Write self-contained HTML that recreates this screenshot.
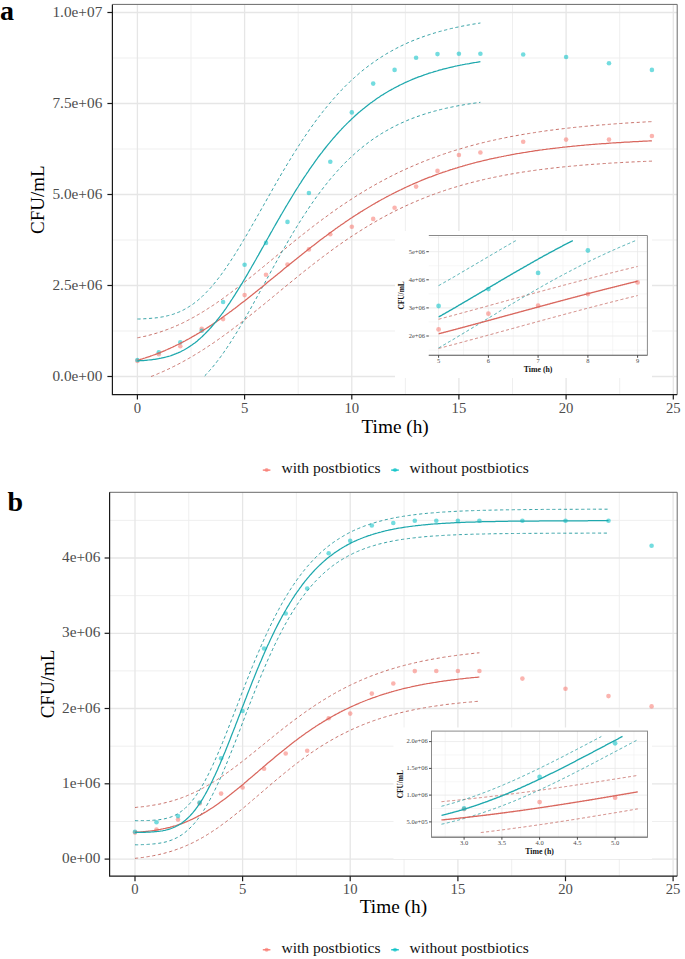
<!DOCTYPE html>
<html><head><meta charset="utf-8"><style>
html,body{margin:0;padding:0;background:#fff;}
svg{display:block;font-family:"Liberation Serif", serif;}
</style></head><body>
<svg width="685" height="959" viewBox="0 0 685 959">
<rect width="685" height="959" fill="#fff"/>
<line x1="191" y1="4.4" x2="191" y2="394.6" stroke="#ededed" stroke-width="0.9"/>
<line x1="298.2" y1="4.4" x2="298.2" y2="394.6" stroke="#ededed" stroke-width="0.9"/>
<line x1="405.4" y1="4.4" x2="405.4" y2="394.6" stroke="#ededed" stroke-width="0.9"/>
<line x1="512.5" y1="4.4" x2="512.5" y2="394.6" stroke="#ededed" stroke-width="0.9"/>
<line x1="619.7" y1="4.4" x2="619.7" y2="394.6" stroke="#ededed" stroke-width="0.9"/>
<line x1="112.4" y1="331" x2="677.2" y2="331" stroke="#ededed" stroke-width="0.9"/>
<line x1="112.4" y1="240" x2="677.2" y2="240" stroke="#ededed" stroke-width="0.9"/>
<line x1="112.4" y1="149" x2="677.2" y2="149" stroke="#ededed" stroke-width="0.9"/>
<line x1="112.4" y1="58" x2="677.2" y2="58" stroke="#ededed" stroke-width="0.9"/>
<line x1="137.4" y1="4.4" x2="137.4" y2="394.6" stroke="#e6e6e6" stroke-width="1.3"/>
<line x1="244.6" y1="4.4" x2="244.6" y2="394.6" stroke="#e6e6e6" stroke-width="1.3"/>
<line x1="351.8" y1="4.4" x2="351.8" y2="394.6" stroke="#e6e6e6" stroke-width="1.3"/>
<line x1="458.9" y1="4.4" x2="458.9" y2="394.6" stroke="#e6e6e6" stroke-width="1.3"/>
<line x1="566.1" y1="4.4" x2="566.1" y2="394.6" stroke="#e6e6e6" stroke-width="1.3"/>
<line x1="673.3" y1="4.4" x2="673.3" y2="394.6" stroke="#e6e6e6" stroke-width="1.3"/>
<line x1="112.4" y1="376.5" x2="677.2" y2="376.5" stroke="#e6e6e6" stroke-width="1.3"/>
<line x1="112.4" y1="285.5" x2="677.2" y2="285.5" stroke="#e6e6e6" stroke-width="1.3"/>
<line x1="112.4" y1="194.5" x2="677.2" y2="194.5" stroke="#e6e6e6" stroke-width="1.3"/>
<line x1="112.4" y1="103.5" x2="677.2" y2="103.5" stroke="#e6e6e6" stroke-width="1.3"/>
<line x1="112.4" y1="12.5" x2="677.2" y2="12.5" stroke="#e6e6e6" stroke-width="1.3"/>
<circle cx="137.4" cy="360.9" r="2.3" fill="#F8766D" fill-opacity="0.55"/>
<circle cx="158.8" cy="354.2" r="2.3" fill="#F8766D" fill-opacity="0.55"/>
<circle cx="180.3" cy="346.3" r="2.3" fill="#F8766D" fill-opacity="0.55"/>
<circle cx="201.7" cy="328.7" r="2.3" fill="#F8766D" fill-opacity="0.55"/>
<circle cx="223.1" cy="319.1" r="2.3" fill="#F8766D" fill-opacity="0.55"/>
<circle cx="244.6" cy="295.1" r="2.3" fill="#F8766D" fill-opacity="0.55"/>
<circle cx="266" cy="274.8" r="2.3" fill="#F8766D" fill-opacity="0.55"/>
<circle cx="287.5" cy="264.5" r="2.3" fill="#F8766D" fill-opacity="0.55"/>
<circle cx="308.9" cy="249.4" r="2.3" fill="#F8766D" fill-opacity="0.55"/>
<circle cx="330.3" cy="234.3" r="2.3" fill="#F8766D" fill-opacity="0.55"/>
<circle cx="351.8" cy="226.8" r="2.3" fill="#F8766D" fill-opacity="0.55"/>
<circle cx="373.2" cy="218.9" r="2.3" fill="#F8766D" fill-opacity="0.55"/>
<circle cx="394.6" cy="207.7" r="2.3" fill="#F8766D" fill-opacity="0.55"/>
<circle cx="416.1" cy="186.6" r="2.3" fill="#F8766D" fill-opacity="0.55"/>
<circle cx="437.5" cy="170.9" r="2.3" fill="#F8766D" fill-opacity="0.55"/>
<circle cx="458.9" cy="155" r="2.3" fill="#F8766D" fill-opacity="0.55"/>
<circle cx="480.4" cy="152.5" r="2.3" fill="#F8766D" fill-opacity="0.55"/>
<circle cx="523.2" cy="141.7" r="2.3" fill="#F8766D" fill-opacity="0.55"/>
<circle cx="566.1" cy="139.6" r="2.3" fill="#F8766D" fill-opacity="0.55"/>
<circle cx="609" cy="139.6" r="2.3" fill="#F8766D" fill-opacity="0.55"/>
<circle cx="651.9" cy="136" r="2.3" fill="#F8766D" fill-opacity="0.55"/>
<circle cx="137.4" cy="360" r="2.3" fill="#00BFC4" fill-opacity="0.55"/>
<circle cx="158.8" cy="352.3" r="2.3" fill="#00BFC4" fill-opacity="0.55"/>
<circle cx="180.3" cy="342.3" r="2.3" fill="#00BFC4" fill-opacity="0.55"/>
<circle cx="201.7" cy="330.7" r="2.3" fill="#00BFC4" fill-opacity="0.55"/>
<circle cx="223.1" cy="302" r="2.3" fill="#00BFC4" fill-opacity="0.55"/>
<circle cx="244.6" cy="264.8" r="2.3" fill="#00BFC4" fill-opacity="0.55"/>
<circle cx="266" cy="242.9" r="2.3" fill="#00BFC4" fill-opacity="0.55"/>
<circle cx="287.5" cy="221.9" r="2.3" fill="#00BFC4" fill-opacity="0.55"/>
<circle cx="308.9" cy="193" r="2.3" fill="#00BFC4" fill-opacity="0.55"/>
<circle cx="330.3" cy="161.8" r="2.3" fill="#00BFC4" fill-opacity="0.55"/>
<circle cx="351.8" cy="112.4" r="2.3" fill="#00BFC4" fill-opacity="0.55"/>
<circle cx="373.2" cy="83.6" r="2.3" fill="#00BFC4" fill-opacity="0.55"/>
<circle cx="394.6" cy="69.9" r="2.3" fill="#00BFC4" fill-opacity="0.55"/>
<circle cx="416.1" cy="57.8" r="2.3" fill="#00BFC4" fill-opacity="0.55"/>
<circle cx="437.5" cy="54.1" r="2.3" fill="#00BFC4" fill-opacity="0.55"/>
<circle cx="458.9" cy="53.8" r="2.3" fill="#00BFC4" fill-opacity="0.55"/>
<circle cx="480.4" cy="53.7" r="2.3" fill="#00BFC4" fill-opacity="0.55"/>
<circle cx="523.2" cy="54.5" r="2.3" fill="#00BFC4" fill-opacity="0.55"/>
<circle cx="566.1" cy="57" r="2.3" fill="#00BFC4" fill-opacity="0.55"/>
<circle cx="609" cy="63.2" r="2.3" fill="#00BFC4" fill-opacity="0.55"/>
<circle cx="651.9" cy="69.9" r="2.3" fill="#00BFC4" fill-opacity="0.55"/>
<path d="M137.4,337.8 L138.6,337.6 L139.9,337.3 L141.1,337.1 L142.4,336.8 L143.6,336.5 L144.9,336.3 L146.1,336 L147.4,335.7 L148.6,335.4 L149.9,335 L151.1,334.7 L152.4,334.4 L153.6,334 L154.9,333.6 L156.1,333.3 L157.4,332.9 L158.6,332.5 L159.9,332.1 L161.1,331.7 L162.4,331.3 L163.6,330.8 L164.9,330.4 L166.1,329.9 L167.4,329.5 L168.6,329 L169.9,328.5 L171.1,328 L172.4,327.5 L173.6,327 L174.9,326.5 L176.1,325.9 L177.4,325.4 L178.6,324.8 L179.9,324.2 L181.1,323.7 L182.4,323.1 L183.6,322.5 L184.9,321.8 L186.1,321.2 L187.3,320.6 L188.6,319.9 L189.8,319.3 L191.1,318.6 L192.3,317.9 L193.6,317.3 L194.8,316.6 L196.1,315.8 L197.3,315.1 L198.6,314.4 L199.8,313.7 L201.1,312.9 L202.3,312.2 L203.6,311.4 L204.8,310.6 L206.1,309.8 L207.3,309 L208.6,308.2 L209.8,307.4 L211.1,306.6 L212.3,305.8 L213.6,305 L214.8,304.1 L216.1,303.3 L217.3,302.4 L218.6,301.5 L219.8,300.6 L221.1,299.8 L222.3,298.9 L223.6,298 L224.8,297.1 L226.1,296.2 L227.3,295.2 L228.6,294.3 L229.8,293.4 L231.1,292.5 L232.3,291.5 L233.5,290.6 L234.8,289.6 L236,288.7 L237.3,287.7 L238.5,286.7 L239.8,285.8 L241,284.8 L242.3,283.8 L243.5,282.8 L244.8,281.8 L246,280.8 L247.3,279.8 L248.5,278.8 L249.8,277.8 L251,276.8 L252.3,275.8 L253.5,274.8 L254.8,273.8 L256,272.8 L257.3,271.7 L258.5,270.7 L259.8,269.7 L261,268.7 L262.3,267.6 L263.5,266.6 L264.8,265.6 L266,264.5 L267.3,263.5 L268.5,262.5 L269.8,261.4 L271,260.4 L272.3,259.4 L273.5,258.3 L274.8,257.3 L276,256.3 L277.3,255.2 L278.5,254.2 L279.8,253.2 L281,252.2 L282.2,251.1 L283.5,250.1 L284.7,249.1 L286,248.1 L287.2,247 L288.5,246 L289.7,245 L291,244 L292.2,243 L293.5,241.9 L294.7,240.9 L296,239.9 L297.2,238.9 L298.5,237.9 L299.7,236.9 L301,235.9 L302.2,234.9 L303.5,233.9 L304.7,233 L306,232 L307.2,231 L308.5,230 L309.7,229 L311,228.1 L312.2,227.1 L313.5,226.1 L314.7,225.2 L316,224.2 L317.2,223.3 L318.5,222.3 L319.7,221.4 L321,220.5 L322.2,219.5 L323.5,218.6 L324.7,217.7 L326,216.8 L327.2,215.9 L328.5,215 L329.7,214 L330.9,213.1 L332.2,212.3 L333.4,211.4 L334.7,210.5 L335.9,209.6 L337.2,208.7 L338.4,207.9 L339.7,207 L340.9,206.1 L342.2,205.3 L343.4,204.4 L344.7,203.6 L345.9,202.8 L347.2,201.9 L348.4,201.1 L349.7,200.3 L350.9,199.5 L352.2,198.7 L353.4,197.9 L354.7,197.1 L355.9,196.3 L357.2,195.5 L358.4,194.7 L359.7,193.9 L360.9,193.2 L362.2,192.4 L363.4,191.6 L364.7,190.9 L365.9,190.1 L367.2,189.4 L368.4,188.6 L369.7,187.9 L370.9,187.2 L372.2,186.5 L373.4,185.8 L374.7,185 L375.9,184.3 L377.2,183.6 L378.4,182.9 L379.6,182.3 L380.9,181.6 L382.1,180.9 L383.4,180.2 L384.6,179.6 L385.9,178.9 L387.1,178.3 L388.4,177.6 L389.6,177 L390.9,176.3 L392.1,175.7 L393.4,175.1 L394.6,174.5 L395.9,173.8 L397.1,173.2 L398.4,172.6 L399.6,172 L400.9,171.4 L402.1,170.8 L403.4,170.3 L404.6,169.7 L405.9,169.1 L407.1,168.5 L408.4,168 L409.6,167.4 L410.9,166.9 L412.1,166.3 L413.4,165.8 L414.6,165.2 L415.9,164.7 L417.1,164.2 L418.4,163.7 L419.6,163.1 L420.9,162.6 L422.1,162.1 L423.4,161.6 L424.6,161.1 L425.8,160.6 L427.1,160.1 L428.3,159.7 L429.6,159.2 L430.8,158.7 L432.1,158.2 L433.3,157.8 L434.6,157.3 L435.8,156.9 L437.1,156.4 L438.3,156 L439.6,155.5 L440.8,155.1 L442.1,154.6 L443.3,154.2 L444.6,153.8 L445.8,153.4 L447.1,153 L448.3,152.5 L449.6,152.1 L450.8,151.7 L452.1,151.3 L453.3,150.9 L454.6,150.5 L455.8,150.2 L457.1,149.8 L458.3,149.4 L459.6,149 L460.8,148.7 L462.1,148.3 L463.3,147.9 L464.6,147.6 L465.8,147.2 L467.1,146.9 L468.3,146.5 L469.6,146.2 L470.8,145.8 L472.1,145.5 L473.3,145.1 L474.5,144.8 L475.8,144.5 L477,144.2 L478.3,143.8 L479.5,143.5 L480.8,143.2 L482,142.9 L483.3,142.6 L484.5,142.3 L485.8,142 L487,141.7 L488.3,141.4 L489.5,141.1 L490.8,140.8 L492,140.5 L493.3,140.3 L494.5,140 L495.8,139.7 L497,139.4 L498.3,139.2 L499.5,138.9 L500.8,138.6 L502,138.4 L503.3,138.1 L504.5,137.9 L505.8,137.6 L507,137.4 L508.3,137.1 L509.5,136.9 L510.8,136.6 L512,136.4 L513.3,136.2 L514.5,135.9 L515.8,135.7 L517,135.5 L518.3,135.3 L519.5,135 L520.8,134.8 L522,134.6 L523.2,134.4 L524.5,134.2 L525.7,134 L527,133.8 L528.2,133.6 L529.5,133.4 L530.7,133.2 L532,133 L533.2,132.8 L534.5,132.6 L535.7,132.4 L537,132.2 L538.2,132 L539.5,131.8 L540.7,131.6 L542,131.4 L543.2,131.3 L544.5,131.1 L545.7,130.9 L547,130.7 L548.2,130.6 L549.5,130.4 L550.7,130.2 L552,130.1 L553.2,129.9 L554.5,129.8 L555.7,129.6 L557,129.4 L558.2,129.3 L559.5,129.1 L560.7,129 L562,128.8 L563.2,128.7 L564.5,128.5 L565.7,128.4 L567,128.2 L568.2,128.1 L569.4,128 L570.7,127.8 L571.9,127.7 L573.2,127.6 L574.4,127.4 L575.7,127.3 L576.9,127.2 L578.2,127 L579.4,126.9 L580.7,126.8 L581.9,126.7 L583.2,126.5 L584.4,126.4 L585.7,126.3 L586.9,126.2 L588.2,126.1 L589.4,125.9 L590.7,125.8 L591.9,125.7 L593.2,125.6 L594.4,125.5 L595.7,125.4 L596.9,125.3 L598.2,125.2 L599.4,125.1 L600.7,125 L601.9,124.9 L603.2,124.8 L604.4,124.7 L605.7,124.6 L606.9,124.5 L608.2,124.4 L609.4,124.3 L610.7,124.2 L611.9,124.1 L613.2,124 L614.4,123.9 L615.7,123.8 L616.9,123.7 L618.1,123.6 L619.4,123.5 L620.6,123.5 L621.9,123.4 L623.1,123.3 L624.4,123.2 L625.6,123.1 L626.9,123 L628.1,123 L629.4,122.9 L630.6,122.8 L631.9,122.7 L633.1,122.6 L634.4,122.6 L635.6,122.5 L636.9,122.4 L638.1,122.4 L639.4,122.3 L640.6,122.2 L641.9,122.1 L643.1,122.1 L644.4,122 L645.6,121.9 L646.9,121.9 L648.1,121.8 L649.4,121.7 L650.6,121.7 L651.9,121.6" fill="none" stroke="#c8716a" stroke-width="1.0" stroke-dasharray="3.2 2.6"/>
<path d="M151.1,376.5 L152.4,376 L153.6,375.5 L154.9,375 L156.1,374.5 L157.4,374 L158.6,373.4 L159.9,372.9 L161.1,372.4 L162.4,371.8 L163.6,371.3 L164.9,370.7 L166.1,370.1 L167.4,369.5 L168.6,369 L169.9,368.4 L171.1,367.8 L172.4,367.1 L173.6,366.5 L174.9,365.9 L176.1,365.3 L177.4,364.6 L178.6,364 L179.9,363.3 L181.1,362.7 L182.4,362 L183.6,361.3 L184.9,360.6 L186.1,359.9 L187.3,359.2 L188.6,358.5 L189.8,357.8 L191.1,357.1 L192.3,356.3 L193.6,355.6 L194.8,354.8 L196.1,354.1 L197.3,353.3 L198.6,352.5 L199.8,351.8 L201.1,351 L202.3,350.2 L203.6,349.4 L204.8,348.6 L206.1,347.8 L207.3,347 L208.6,346.1 L209.8,345.3 L211.1,344.5 L212.3,343.6 L213.6,342.8 L214.8,341.9 L216.1,341 L217.3,340.2 L218.6,339.3 L219.8,338.4 L221.1,337.5 L222.3,336.6 L223.6,335.7 L224.8,334.8 L226.1,333.9 L227.3,333 L228.6,332.1 L229.8,331.1 L231.1,330.2 L232.3,329.3 L233.5,328.3 L234.8,327.4 L236,326.4 L237.3,325.5 L238.5,324.5 L239.8,323.5 L241,322.6 L242.3,321.6 L243.5,320.6 L244.8,319.6 L246,318.7 L247.3,317.7 L248.5,316.7 L249.8,315.7 L251,314.7 L252.3,313.7 L253.5,312.7 L254.8,311.7 L256,310.7 L257.3,309.7 L258.5,308.7 L259.8,307.6 L261,306.6 L262.3,305.6 L263.5,304.6 L264.8,303.6 L266,302.5 L267.3,301.5 L268.5,300.5 L269.8,299.5 L271,298.4 L272.3,297.4 L273.5,296.4 L274.8,295.4 L276,294.3 L277.3,293.3 L278.5,292.3 L279.8,291.2 L281,290.2 L282.2,289.2 L283.5,288.2 L284.7,287.1 L286,286.1 L287.2,285.1 L288.5,284.1 L289.7,283 L291,282 L292.2,281 L293.5,280 L294.7,279 L296,278 L297.2,277 L298.5,275.9 L299.7,274.9 L301,273.9 L302.2,272.9 L303.5,271.9 L304.7,270.9 L306,269.9 L307.2,268.9 L308.5,268 L309.7,267 L311,266 L312.2,265 L313.5,264 L314.7,263.1 L316,262.1 L317.2,261.1 L318.5,260.2 L319.7,259.2 L321,258.3 L322.2,257.3 L323.5,256.4 L324.7,255.4 L326,254.5 L327.2,253.6 L328.5,252.7 L329.7,251.7 L330.9,250.8 L332.2,249.9 L333.4,249 L334.7,248.1 L335.9,247.2 L337.2,246.3 L338.4,245.4 L339.7,244.5 L340.9,243.7 L342.2,242.8 L343.4,241.9 L344.7,241.1 L345.9,240.2 L347.2,239.4 L348.4,238.5 L349.7,237.7 L350.9,236.8 L352.2,236 L353.4,235.2 L354.7,234.4 L355.9,233.6 L357.2,232.8 L358.4,232 L359.7,231.2 L360.9,230.4 L362.2,229.6 L363.4,228.8 L364.7,228 L365.9,227.3 L367.2,226.5 L368.4,225.8 L369.7,225 L370.9,224.3 L372.2,223.5 L373.4,222.8 L374.7,222.1 L375.9,221.4 L377.2,220.6 L378.4,219.9 L379.6,219.2 L380.9,218.5 L382.1,217.8 L383.4,217.2 L384.6,216.5 L385.9,215.8 L387.1,215.1 L388.4,214.5 L389.6,213.8 L390.9,213.2 L392.1,212.5 L393.4,211.9 L394.6,211.3 L395.9,210.6 L397.1,210 L398.4,209.4 L399.6,208.8 L400.9,208.2 L402.1,207.6 L403.4,207 L404.6,206.4 L405.9,205.8 L407.1,205.3 L408.4,204.7 L409.6,204.1 L410.9,203.6 L412.1,203 L413.4,202.5 L414.6,201.9 L415.9,201.4 L417.1,200.9 L418.4,200.4 L419.6,199.8 L420.9,199.3 L422.1,198.8 L423.4,198.3 L424.6,197.8 L425.8,197.3 L427.1,196.8 L428.3,196.4 L429.6,195.9 L430.8,195.4 L432.1,194.9 L433.3,194.5 L434.6,194 L435.8,193.6 L437.1,193.1 L438.3,192.7 L439.6,192.2 L440.8,191.8 L442.1,191.4 L443.3,191 L444.6,190.5 L445.8,190.1 L447.1,189.7 L448.3,189.3 L449.6,188.9 L450.8,188.5 L452.1,188.1 L453.3,187.7 L454.6,187.3 L455.8,187 L457.1,186.6 L458.3,186.2 L459.6,185.9 L460.8,185.5 L462.1,185.1 L463.3,184.8 L464.6,184.4 L465.8,184.1 L467.1,183.8 L468.3,183.4 L469.6,183.1 L470.8,182.8 L472.1,182.4 L473.3,182.1 L474.5,181.8 L475.8,181.5 L477,181.2 L478.3,180.9 L479.5,180.6 L480.8,180.3 L482,180 L483.3,179.7 L484.5,179.4 L485.8,179.1 L487,178.8 L488.3,178.5 L489.5,178.3 L490.8,178 L492,177.7 L493.3,177.5 L494.5,177.2 L495.8,177 L497,176.7 L498.3,176.4 L499.5,176.2 L500.8,176 L502,175.7 L503.3,175.5 L504.5,175.2 L505.8,175 L507,174.8 L508.3,174.5 L509.5,174.3 L510.8,174.1 L512,173.9 L513.3,173.7 L514.5,173.4 L515.8,173.2 L517,173 L518.3,172.8 L519.5,172.6 L520.8,172.4 L522,172.2 L523.2,172 L524.5,171.8 L525.7,171.6 L527,171.5 L528.2,171.3 L529.5,171.1 L530.7,170.9 L532,170.7 L533.2,170.6 L534.5,170.4 L535.7,170.2 L537,170 L538.2,169.9 L539.5,169.7 L540.7,169.5 L542,169.4 L543.2,169.2 L544.5,169.1 L545.7,168.9 L547,168.8 L548.2,168.6 L549.5,168.5 L550.7,168.3 L552,168.2 L553.2,168 L554.5,167.9 L555.7,167.7 L557,167.6 L558.2,167.5 L559.5,167.3 L560.7,167.2 L562,167.1 L563.2,166.9 L564.5,166.8 L565.7,166.7 L567,166.6 L568.2,166.5 L569.4,166.3 L570.7,166.2 L571.9,166.1 L573.2,166 L574.4,165.9 L575.7,165.8 L576.9,165.6 L578.2,165.5 L579.4,165.4 L580.7,165.3 L581.9,165.2 L583.2,165.1 L584.4,165 L585.7,164.9 L586.9,164.8 L588.2,164.7 L589.4,164.6 L590.7,164.5 L591.9,164.4 L593.2,164.3 L594.4,164.2 L595.7,164.1 L596.9,164.1 L598.2,164 L599.4,163.9 L600.7,163.8 L601.9,163.7 L603.2,163.6 L604.4,163.5 L605.7,163.5 L606.9,163.4 L608.2,163.3 L609.4,163.2 L610.7,163.1 L611.9,163.1 L613.2,163 L614.4,162.9 L615.7,162.8 L616.9,162.8 L618.1,162.7 L619.4,162.6 L620.6,162.6 L621.9,162.5 L623.1,162.4 L624.4,162.4 L625.6,162.3 L626.9,162.2 L628.1,162.2 L629.4,162.1 L630.6,162 L631.9,162 L633.1,161.9 L634.4,161.9 L635.6,161.8 L636.9,161.7 L638.1,161.7 L639.4,161.6 L640.6,161.6 L641.9,161.5 L643.1,161.5 L644.4,161.4 L645.6,161.4 L646.9,161.3 L648.1,161.3 L649.4,161.2 L650.6,161.2 L651.9,161.1" fill="none" stroke="#c8716a" stroke-width="1.0" stroke-dasharray="3.2 2.6"/>
<path d="M137.4,319 L138.6,319 L139.9,319 L141.1,318.9 L142.4,318.9 L143.6,318.8 L144.9,318.7 L146.1,318.7 L147.4,318.6 L148.6,318.5 L149.9,318.4 L151.1,318.3 L152.4,318.2 L153.6,318.1 L154.9,318 L156.1,317.8 L157.4,317.7 L158.6,317.5 L159.8,317.3 L161.1,317.1 L162.3,316.9 L163.6,316.7 L164.8,316.4 L166.1,316.1 L167.3,315.8 L168.6,315.5 L169.8,315.2 L171.1,314.8 L172.3,314.5 L173.6,314.1 L174.8,313.6 L176.1,313.2 L177.3,312.7 L178.6,312.2 L179.8,311.7 L181.1,311.1 L182.3,310.5 L183.5,309.9 L184.8,309.2 L186,308.5 L187.3,307.8 L188.5,307 L189.8,306.2 L191,305.4 L192.3,304.6 L193.5,303.7 L194.8,302.7 L196,301.8 L197.3,300.8 L198.5,299.7 L199.8,298.7 L201,297.5 L202.3,296.4 L203.5,295.2 L204.7,294 L206,292.7 L207.2,291.4 L208.5,290.1 L209.7,288.8 L211,287.4 L212.2,285.9 L213.5,284.4 L214.7,282.9 L216,281.4 L217.2,279.8 L218.5,278.2 L219.7,276.6 L221,274.9 L222.2,273.2 L223.5,271.5 L224.7,269.7 L226,268 L227.2,266.1 L228.4,264.3 L229.7,262.4 L230.9,260.5 L232.2,258.6 L233.4,256.7 L234.7,254.7 L235.9,252.7 L237.2,250.7 L238.4,248.7 L239.7,246.7 L240.9,244.6 L242.2,242.5 L243.4,240.4 L244.7,238.3 L245.9,236.2 L247.2,234.1 L248.4,231.9 L249.6,229.8 L250.9,227.6 L252.1,225.4 L253.4,223.2 L254.6,221.1 L255.9,218.9 L257.1,216.7 L258.4,214.5 L259.6,212.2 L260.9,210 L262.1,207.8 L263.4,205.6 L264.6,203.4 L265.9,201.2 L267.1,199 L268.4,196.8 L269.6,194.6 L270.8,192.4 L272.1,190.2 L273.3,188 L274.6,185.8 L275.8,183.6 L277.1,181.5 L278.3,179.3 L279.6,177.2 L280.8,175 L282.1,172.9 L283.3,170.8 L284.6,168.7 L285.8,166.6 L287.1,164.5 L288.3,162.5 L289.6,160.4 L290.8,158.4 L292.1,156.3 L293.3,154.3 L294.5,152.3 L295.8,150.4 L297,148.4 L298.3,146.4 L299.5,144.5 L300.8,142.6 L302,140.7 L303.3,138.8 L304.5,136.9 L305.8,135.1 L307,133.3 L308.3,131.5 L309.5,129.7 L310.8,127.9 L312,126.1 L313.3,124.4 L314.5,122.7 L315.7,121 L317,119.3 L318.2,117.6 L319.5,116 L320.7,114.4 L322,112.8 L323.2,111.2 L324.5,109.6 L325.7,108.1 L327,106.5 L328.2,105 L329.5,103.5 L330.7,102.1 L332,100.6 L333.2,99.2 L334.5,97.8 L335.7,96.4 L336.9,95 L338.2,93.6 L339.4,92.3 L340.7,91 L341.9,89.6 L343.2,88.4 L344.4,87.1 L345.7,85.8 L346.9,84.6 L348.2,83.4 L349.4,82.2 L350.7,81 L351.9,79.8 L353.2,78.7 L354.4,77.6 L355.7,76.5 L356.9,75.4 L358.2,74.3 L359.4,73.2 L360.6,72.2 L361.9,71.1 L363.1,70.1 L364.4,69.1 L365.6,68.1 L366.9,67.2 L368.1,66.2 L369.4,65.3 L370.6,64.4 L371.9,63.5 L373.1,62.6 L374.4,61.7 L375.6,60.8 L376.9,60 L378.1,59.1 L379.4,58.3 L380.6,57.5 L381.8,56.7 L383.1,55.9 L384.3,55.1 L385.6,54.4 L386.8,53.6 L388.1,52.9 L389.3,52.2 L390.6,51.5 L391.8,50.8 L393.1,50.1 L394.3,49.4 L395.6,48.8 L396.8,48.1 L398.1,47.5 L399.3,46.8 L400.6,46.2 L401.8,45.6 L403.1,45 L404.3,44.4 L405.5,43.9 L406.8,43.3 L408,42.7 L409.3,42.2 L410.5,41.7 L411.8,41.1 L413,40.6 L414.3,40.1 L415.5,39.6 L416.8,39.1 L418,38.6 L419.3,38.2 L420.5,37.7 L421.8,37.2 L423,36.8 L424.3,36.3 L425.5,35.9 L426.7,35.5 L428,35.1 L429.2,34.7 L430.5,34.3 L431.7,33.9 L433,33.5 L434.2,33.1 L435.5,32.7 L436.7,32.4 L438,32 L439.2,31.6 L440.5,31.3 L441.7,31 L443,30.6 L444.2,30.3 L445.5,30 L446.7,29.7 L447.9,29.3 L449.2,29 L450.4,28.7 L451.7,28.4 L452.9,28.2 L454.2,27.9 L455.4,27.6 L456.7,27.3 L457.9,27.1 L459.2,26.8 L460.4,26.5 L461.7,26.3 L462.9,26 L464.2,25.8 L465.4,25.5 L466.7,25.3 L467.9,25.1 L469.2,24.9 L470.4,24.6 L471.6,24.4 L472.9,24.2 L474.1,24 L475.4,23.8 L476.6,23.6 L477.9,23.4 L479.1,23.2 L480.4,23" fill="none" stroke="#35a2a6" stroke-width="1.0" stroke-dasharray="3.2 2.6"/>
<path d="M204.7,375.9 L206,374.6 L207.2,373.2 L208.5,371.8 L209.7,370.4 L211,369 L212.2,367.5 L213.5,366 L214.7,364.5 L216,362.9 L217.2,361.3 L218.5,359.7 L219.7,358 L221,356.3 L222.2,354.6 L223.5,352.8 L224.7,351 L226,349.2 L227.2,347.4 L228.4,345.5 L229.7,343.6 L230.9,341.7 L232.2,339.7 L233.4,337.7 L234.7,335.8 L235.9,333.7 L237.2,331.7 L238.4,329.6 L239.7,327.5 L240.9,325.4 L242.2,323.3 L243.4,321.2 L244.7,319 L245.9,316.9 L247.2,314.7 L248.4,312.5 L249.6,310.3 L250.9,308.1 L252.1,305.8 L253.4,303.6 L254.6,301.3 L255.9,299.1 L257.1,296.8 L258.4,294.6 L259.6,292.3 L260.9,290 L262.1,287.7 L263.4,285.5 L264.6,283.2 L265.9,280.9 L267.1,278.6 L268.4,276.3 L269.6,274.1 L270.8,271.8 L272.1,269.5 L273.3,267.3 L274.6,265 L275.8,262.8 L277.1,260.5 L278.3,258.3 L279.6,256.1 L280.8,253.9 L282.1,251.7 L283.3,249.5 L284.6,247.3 L285.8,245.1 L287.1,243 L288.3,240.8 L289.6,238.7 L290.8,236.6 L292.1,234.5 L293.3,232.4 L294.5,230.4 L295.8,228.3 L297,226.3 L298.3,224.3 L299.5,222.3 L300.8,220.3 L302,218.3 L303.3,216.4 L304.5,214.5 L305.8,212.6 L307,210.7 L308.3,208.8 L309.5,207 L310.8,205.1 L312,203.3 L313.3,201.5 L314.5,199.8 L315.7,198 L317,196.3 L318.2,194.6 L319.5,192.9 L320.7,191.2 L322,189.6 L323.2,188 L324.5,186.4 L325.7,184.8 L327,183.2 L328.2,181.7 L329.5,180.1 L330.7,178.6 L332,177.2 L333.2,175.7 L334.5,174.3 L335.7,172.9 L336.9,171.5 L338.2,170.1 L339.4,168.7 L340.7,167.4 L341.9,166.1 L343.2,164.8 L344.4,163.5 L345.7,162.2 L346.9,161 L348.2,159.8 L349.4,158.6 L350.7,157.4 L351.9,156.2 L353.2,155.1 L354.4,154 L355.7,152.8 L356.9,151.8 L358.2,150.7 L359.4,149.6 L360.6,148.6 L361.9,147.6 L363.1,146.6 L364.4,145.6 L365.6,144.6 L366.9,143.7 L368.1,142.7 L369.4,141.8 L370.6,140.9 L371.9,140 L373.1,139.1 L374.4,138.3 L375.6,137.4 L376.9,136.6 L378.1,135.8 L379.4,135 L380.6,134.2 L381.8,133.4 L383.1,132.7 L384.3,131.9 L385.6,131.2 L386.8,130.5 L388.1,129.8 L389.3,129.1 L390.6,128.4 L391.8,127.7 L393.1,127.1 L394.3,126.4 L395.6,125.8 L396.8,125.2 L398.1,124.6 L399.3,124 L400.6,123.4 L401.8,122.8 L403.1,122.3 L404.3,121.7 L405.5,121.2 L406.8,120.6 L408,120.1 L409.3,119.6 L410.5,119.1 L411.8,118.6 L413,118.1 L414.3,117.7 L415.5,117.2 L416.8,116.7 L418,116.3 L419.3,115.9 L420.5,115.4 L421.8,115 L423,114.6 L424.3,114.2 L425.5,113.8 L426.7,113.4 L428,113 L429.2,112.7 L430.5,112.3 L431.7,111.9 L433,111.6 L434.2,111.2 L435.5,110.9 L436.7,110.6 L438,110.2 L439.2,109.9 L440.5,109.6 L441.7,109.3 L443,109 L444.2,108.7 L445.5,108.4 L446.7,108.1 L447.9,107.9 L449.2,107.6 L450.4,107.3 L451.7,107.1 L452.9,106.8 L454.2,106.6 L455.4,106.3 L456.7,106.1 L457.9,105.8 L459.2,105.6 L460.4,105.4 L461.7,105.2 L462.9,105 L464.2,104.7 L465.4,104.5 L466.7,104.3 L467.9,104.1 L469.2,103.9 L470.4,103.7 L471.6,103.6 L472.9,103.4 L474.1,103.2 L475.4,103 L476.6,102.8 L477.9,102.7 L479.1,102.5 L480.4,102.3" fill="none" stroke="#35a2a6" stroke-width="1.0" stroke-dasharray="3.2 2.6"/>
<path d="M137.4,360.3 L138.6,360 L139.9,359.6 L141.1,359.2 L142.4,358.8 L143.6,358.4 L144.9,358 L146.1,357.6 L147.4,357.2 L148.6,356.8 L149.9,356.4 L151.1,355.9 L152.4,355.5 L153.6,355 L154.9,354.6 L156.1,354.1 L157.4,353.6 L158.6,353.1 L159.9,352.6 L161.1,352.1 L162.4,351.6 L163.6,351.1 L164.9,350.6 L166.1,350 L167.4,349.5 L168.6,348.9 L169.9,348.4 L171.1,347.8 L172.4,347.2 L173.6,346.6 L174.9,346 L176.1,345.4 L177.4,344.8 L178.6,344.2 L179.9,343.6 L181.1,342.9 L182.4,342.3 L183.6,341.6 L184.9,341 L186.1,340.3 L187.3,339.6 L188.6,339 L189.8,338.3 L191.1,337.6 L192.3,336.8 L193.6,336.1 L194.8,335.4 L196.1,334.7 L197.3,333.9 L198.6,333.2 L199.8,332.4 L201.1,331.7 L202.3,330.9 L203.6,330.1 L204.8,329.3 L206.1,328.5 L207.3,327.7 L208.6,326.9 L209.8,326.1 L211.1,325.3 L212.3,324.4 L213.6,323.6 L214.8,322.7 L216.1,321.9 L217.3,321 L218.6,320.2 L219.8,319.3 L221.1,318.4 L222.3,317.5 L223.6,316.6 L224.8,315.7 L226.1,314.8 L227.3,313.9 L228.6,313 L229.8,312.1 L231.1,311.2 L232.3,310.2 L233.5,309.3 L234.8,308.4 L236,307.4 L237.3,306.5 L238.5,305.5 L239.8,304.6 L241,303.6 L242.3,302.6 L243.5,301.7 L244.8,300.7 L246,299.7 L247.3,298.7 L248.5,297.7 L249.8,296.7 L251,295.8 L252.3,294.8 L253.5,293.8 L254.8,292.8 L256,291.8 L257.3,290.8 L258.5,289.7 L259.8,288.7 L261,287.7 L262.3,286.7 L263.5,285.7 L264.8,284.7 L266,283.7 L267.3,282.6 L268.5,281.6 L269.8,280.6 L271,279.6 L272.3,278.6 L273.5,277.5 L274.8,276.5 L276,275.5 L277.3,274.5 L278.5,273.4 L279.8,272.4 L281,271.4 L282.2,270.4 L283.5,269.3 L284.7,268.3 L286,267.3 L287.2,266.3 L288.5,265.3 L289.7,264.3 L291,263.2 L292.2,262.2 L293.5,261.2 L294.7,260.2 L296,259.2 L297.2,258.2 L298.5,257.2 L299.7,256.2 L301,255.2 L302.2,254.2 L303.5,253.2 L304.7,252.2 L306,251.2 L307.2,250.2 L308.5,249.3 L309.7,248.3 L311,247.3 L312.2,246.3 L313.5,245.4 L314.7,244.4 L316,243.4 L317.2,242.5 L318.5,241.5 L319.7,240.6 L321,239.6 L322.2,238.7 L323.5,237.7 L324.7,236.8 L326,235.9 L327.2,235 L328.5,234 L329.7,233.1 L330.9,232.2 L332.2,231.3 L333.4,230.4 L334.7,229.5 L335.9,228.6 L337.2,227.7 L338.4,226.8 L339.7,226 L340.9,225.1 L342.2,224.2 L343.4,223.4 L344.7,222.5 L345.9,221.6 L347.2,220.8 L348.4,220 L349.7,219.1 L350.9,218.3 L352.2,217.5 L353.4,216.6 L354.7,215.8 L355.9,215 L357.2,214.2 L358.4,213.4 L359.7,212.6 L360.9,211.8 L362.2,211.1 L363.4,210.3 L364.7,209.5 L365.9,208.8 L367.2,208 L368.4,207.2 L369.7,206.5 L370.9,205.8 L372.2,205 L373.4,204.3 L374.7,203.6 L375.9,202.8 L377.2,202.1 L378.4,201.4 L379.6,200.7 L380.9,200 L382.1,199.3 L383.4,198.7 L384.6,198 L385.9,197.3 L387.1,196.6 L388.4,196 L389.6,195.3 L390.9,194.7 L392.1,194 L393.4,193.4 L394.6,192.8 L395.9,192.1 L397.1,191.5 L398.4,190.9 L399.6,190.3 L400.9,189.7 L402.1,189.1 L403.4,188.5 L404.6,187.9 L405.9,187.3 L407.1,186.7 L408.4,186.2 L409.6,185.6 L410.9,185 L412.1,184.5 L413.4,183.9 L414.6,183.4 L415.9,182.8 L417.1,182.3 L418.4,181.8 L419.6,181.2 L420.9,180.7 L422.1,180.2 L423.4,179.7 L424.6,179.2 L425.8,178.7 L427.1,178.2 L428.3,177.7 L429.6,177.2 L430.8,176.8 L432.1,176.3 L433.3,175.8 L434.6,175.4 L435.8,174.9 L437.1,174.4 L438.3,174 L439.6,173.5 L440.8,173.1 L442.1,172.7 L443.3,172.2 L444.6,171.8 L445.8,171.4 L447.1,171 L448.3,170.6 L449.6,170.1 L450.8,169.7 L452.1,169.3 L453.3,168.9 L454.6,168.6 L455.8,168.2 L457.1,167.8 L458.3,167.4 L459.6,167 L460.8,166.7 L462.1,166.3 L463.3,165.9 L464.6,165.6 L465.8,165.2 L467.1,164.9 L468.3,164.5 L469.6,164.2 L470.8,163.8 L472.1,163.5 L473.3,163.2 L474.5,162.8 L475.8,162.5 L477,162.2 L478.3,161.9 L479.5,161.6 L480.8,161.3 L482,161 L483.3,160.7 L484.5,160.4 L485.8,160.1 L487,159.8 L488.3,159.5 L489.5,159.2 L490.8,158.9 L492,158.6 L493.3,158.4 L494.5,158.1 L495.8,157.8 L497,157.6 L498.3,157.3 L499.5,157 L500.8,156.8 L502,156.5 L503.3,156.3 L504.5,156 L505.8,155.8 L507,155.5 L508.3,155.3 L509.5,155.1 L510.8,154.8 L512,154.6 L513.3,154.4 L514.5,154.2 L515.8,153.9 L517,153.7 L518.3,153.5 L519.5,153.3 L520.8,153.1 L522,152.9 L523.2,152.7 L524.5,152.5 L525.7,152.3 L527,152.1 L528.2,151.9 L529.5,151.7 L530.7,151.5 L532,151.3 L533.2,151.1 L534.5,150.9 L535.7,150.7 L537,150.6 L538.2,150.4 L539.5,150.2 L540.7,150 L542,149.9 L543.2,149.7 L544.5,149.5 L545.7,149.4 L547,149.2 L548.2,149 L549.5,148.9 L550.7,148.7 L552,148.6 L553.2,148.4 L554.5,148.3 L555.7,148.1 L557,148 L558.2,147.8 L559.5,147.7 L560.7,147.5 L562,147.4 L563.2,147.2 L564.5,147.1 L565.7,147 L567,146.8 L568.2,146.7 L569.4,146.6 L570.7,146.5 L571.9,146.3 L573.2,146.2 L574.4,146.1 L575.7,146 L576.9,145.8 L578.2,145.7 L579.4,145.6 L580.7,145.5 L581.9,145.4 L583.2,145.3 L584.4,145.1 L585.7,145 L586.9,144.9 L588.2,144.8 L589.4,144.7 L590.7,144.6 L591.9,144.5 L593.2,144.4 L594.4,144.3 L595.7,144.2 L596.9,144.1 L598.2,144 L599.4,143.9 L600.7,143.8 L601.9,143.7 L603.2,143.6 L604.4,143.5 L605.7,143.5 L606.9,143.4 L608.2,143.3 L609.4,143.2 L610.7,143.1 L611.9,143 L613.2,142.9 L614.4,142.9 L615.7,142.8 L616.9,142.7 L618.1,142.6 L619.4,142.5 L620.6,142.5 L621.9,142.4 L623.1,142.3 L624.4,142.2 L625.6,142.2 L626.9,142.1 L628.1,142 L629.4,142 L630.6,141.9 L631.9,141.8 L633.1,141.7 L634.4,141.7 L635.6,141.6 L636.9,141.5 L638.1,141.5 L639.4,141.4 L640.6,141.4 L641.9,141.3 L643.1,141.2 L644.4,141.2 L645.6,141.1 L646.9,141.1 L648.1,141 L649.4,140.9 L650.6,140.9 L651.9,140.8" fill="none" stroke="#d9675e" stroke-width="1.25"/>
<path d="M137.4,360.8 L138.6,360.8 L139.9,360.7 L141.1,360.6 L142.4,360.5 L143.6,360.5 L144.9,360.4 L146.1,360.3 L147.4,360.1 L148.6,360 L149.9,359.9 L151.1,359.8 L152.4,359.6 L153.6,359.4 L154.9,359.3 L156.1,359.1 L157.4,358.9 L158.6,358.7 L159.8,358.4 L161.1,358.2 L162.3,357.9 L163.6,357.6 L164.8,357.3 L166.1,357 L167.3,356.7 L168.6,356.3 L169.8,356 L171.1,355.6 L172.3,355.1 L173.6,354.7 L174.8,354.2 L176.1,353.7 L177.3,353.2 L178.6,352.6 L179.8,352.1 L181.1,351.5 L182.3,350.8 L183.5,350.2 L184.8,349.5 L186,348.8 L187.3,348 L188.5,347.2 L189.8,346.4 L191,345.6 L192.3,344.7 L193.5,343.8 L194.8,342.9 L196,341.9 L197.3,340.9 L198.5,339.8 L199.8,338.7 L201,337.6 L202.3,336.5 L203.5,335.3 L204.7,334.1 L206,332.8 L207.2,331.5 L208.5,330.2 L209.7,328.9 L211,327.5 L212.2,326 L213.5,324.6 L214.7,323.1 L216,321.6 L217.2,320 L218.5,318.4 L219.7,316.8 L221,315.2 L222.2,313.5 L223.5,311.8 L224.7,310 L226,308.3 L227.2,306.5 L228.4,304.7 L229.7,302.8 L230.9,300.9 L232.2,299 L233.4,297.1 L234.7,295.2 L235.9,293.2 L237.2,291.2 L238.4,289.2 L239.7,287.2 L240.9,285.1 L242.2,283.1 L243.4,281 L244.7,278.9 L245.9,276.8 L247.2,274.7 L248.4,272.5 L249.6,270.4 L250.9,268.2 L252.1,266 L253.4,263.9 L254.6,261.7 L255.9,259.5 L257.1,257.3 L258.4,255.1 L259.6,252.9 L260.9,250.6 L262.1,248.4 L263.4,246.2 L264.6,244 L265.9,241.8 L267.1,239.5 L268.4,237.3 L269.6,235.1 L270.8,232.9 L272.1,230.7 L273.3,228.5 L274.6,226.3 L275.8,224.1 L277.1,221.9 L278.3,219.8 L279.6,217.6 L280.8,215.4 L282.1,213.3 L283.3,211.2 L284.6,209 L285.8,206.9 L287.1,204.8 L288.3,202.7 L289.6,200.6 L290.8,198.6 L292.1,196.5 L293.3,194.5 L294.5,192.5 L295.8,190.4 L297,188.5 L298.3,186.5 L299.5,184.5 L300.8,182.6 L302,180.6 L303.3,178.7 L304.5,176.8 L305.8,175 L307,173.1 L308.3,171.3 L309.5,169.4 L310.8,167.6 L312,165.9 L313.3,164.1 L314.5,162.3 L315.7,160.6 L317,158.9 L318.2,157.2 L319.5,155.5 L320.7,153.9 L322,152.3 L323.2,150.6 L324.5,149 L325.7,147.5 L327,145.9 L328.2,144.4 L329.5,142.9 L330.7,141.4 L332,139.9 L333.2,138.4 L334.5,137 L335.7,135.6 L336.9,134.2 L338.2,132.8 L339.4,131.4 L340.7,130.1 L341.9,128.7 L343.2,127.4 L344.4,126.1 L345.7,124.9 L346.9,123.6 L348.2,122.4 L349.4,121.2 L350.7,120 L351.9,118.8 L353.2,117.6 L354.4,116.5 L355.7,115.3 L356.9,114.2 L358.2,113.1 L359.4,112.1 L360.6,111 L361.9,110 L363.1,108.9 L364.4,107.9 L365.6,106.9 L366.9,105.9 L368.1,105 L369.4,104 L370.6,103.1 L371.9,102.2 L373.1,101.3 L374.4,100.4 L375.6,99.5 L376.9,98.6 L378.1,97.8 L379.4,97 L380.6,96.1 L381.8,95.3 L383.1,94.6 L384.3,93.8 L385.6,93 L386.8,92.3 L388.1,91.5 L389.3,90.8 L390.6,90.1 L391.8,89.4 L393.1,88.7 L394.3,88 L395.6,87.4 L396.8,86.7 L398.1,86.1 L399.3,85.4 L400.6,84.8 L401.8,84.2 L403.1,83.6 L404.3,83 L405.5,82.4 L406.8,81.9 L408,81.3 L409.3,80.8 L410.5,80.2 L411.8,79.7 L413,79.2 L414.3,78.7 L415.5,78.2 L416.8,77.7 L418,77.2 L419.3,76.7 L420.5,76.3 L421.8,75.8 L423,75.4 L424.3,74.9 L425.5,74.5 L426.7,74.1 L428,73.7 L429.2,73.2 L430.5,72.8 L431.7,72.5 L433,72.1 L434.2,71.7 L435.5,71.3 L436.7,71 L438,70.6 L439.2,70.2 L440.5,69.9 L441.7,69.6 L443,69.2 L444.2,68.9 L445.5,68.6 L446.7,68.3 L447.9,68 L449.2,67.7 L450.4,67.4 L451.7,67.1 L452.9,66.8 L454.2,66.5 L455.4,66.2 L456.7,66 L457.9,65.7 L459.2,65.5 L460.4,65.2 L461.7,65 L462.9,64.7 L464.2,64.5 L465.4,64.2 L466.7,64 L467.9,63.8 L469.2,63.6 L470.4,63.3 L471.6,63.1 L472.9,62.9 L474.1,62.7 L475.4,62.5 L476.6,62.3 L477.9,62.1 L479.1,61.9 L480.4,61.7" fill="none" stroke="#1ea8ad" stroke-width="1.25"/>
<rect x="395" y="231" width="257" height="147" fill="#fff"/>
<line x1="463.5" y1="235.5" x2="463.5" y2="355.3" stroke="#f0f0f0" stroke-width="0.6"/>
<line x1="513.2" y1="235.5" x2="513.2" y2="355.3" stroke="#f0f0f0" stroke-width="0.6"/>
<line x1="563" y1="235.5" x2="563" y2="355.3" stroke="#f0f0f0" stroke-width="0.6"/>
<line x1="612.7" y1="235.5" x2="612.7" y2="355.3" stroke="#f0f0f0" stroke-width="0.6"/>
<line x1="428.8" y1="350.1" x2="647.4" y2="350.1" stroke="#f0f0f0" stroke-width="0.6"/>
<line x1="428.8" y1="321.9" x2="647.4" y2="321.9" stroke="#f0f0f0" stroke-width="0.6"/>
<line x1="428.8" y1="293.9" x2="647.4" y2="293.9" stroke="#f0f0f0" stroke-width="0.6"/>
<line x1="428.8" y1="265.8" x2="647.4" y2="265.8" stroke="#f0f0f0" stroke-width="0.6"/>
<line x1="428.8" y1="237.6" x2="647.4" y2="237.6" stroke="#f0f0f0" stroke-width="0.6"/>
<line x1="438.6" y1="235.5" x2="438.6" y2="355.3" stroke="#e8e8e8" stroke-width="0.8"/>
<line x1="488.4" y1="235.5" x2="488.4" y2="355.3" stroke="#e8e8e8" stroke-width="0.8"/>
<line x1="538.1" y1="235.5" x2="538.1" y2="355.3" stroke="#e8e8e8" stroke-width="0.8"/>
<line x1="587.9" y1="235.5" x2="587.9" y2="355.3" stroke="#e8e8e8" stroke-width="0.8"/>
<line x1="637.6" y1="235.5" x2="637.6" y2="355.3" stroke="#e8e8e8" stroke-width="0.8"/>
<line x1="428.8" y1="336" x2="647.4" y2="336" stroke="#e8e8e8" stroke-width="0.8"/>
<line x1="428.8" y1="307.9" x2="647.4" y2="307.9" stroke="#e8e8e8" stroke-width="0.8"/>
<line x1="428.8" y1="279.8" x2="647.4" y2="279.8" stroke="#e8e8e8" stroke-width="0.8"/>
<line x1="428.8" y1="251.7" x2="647.4" y2="251.7" stroke="#e8e8e8" stroke-width="0.8"/>
<circle cx="438.6" cy="329.4" r="2.4" fill="#F8766D" fill-opacity="0.55"/>
<circle cx="488.4" cy="313.7" r="2.4" fill="#F8766D" fill-opacity="0.55"/>
<circle cx="538.1" cy="305.7" r="2.4" fill="#F8766D" fill-opacity="0.55"/>
<circle cx="587.9" cy="294.1" r="2.4" fill="#F8766D" fill-opacity="0.55"/>
<circle cx="637.6" cy="282.4" r="2.4" fill="#F8766D" fill-opacity="0.55"/>
<circle cx="438.6" cy="306" r="2.4" fill="#00BFC4" fill-opacity="0.55"/>
<circle cx="488.4" cy="289.1" r="2.4" fill="#00BFC4" fill-opacity="0.55"/>
<circle cx="538.1" cy="272.9" r="2.4" fill="#00BFC4" fill-opacity="0.55"/>
<circle cx="587.9" cy="250.5" r="2.4" fill="#00BFC4" fill-opacity="0.55"/>
<path d="M438.6,319.2 L439.1,319.1 L439.6,319 L440.1,318.8 L440.6,318.7 L441.1,318.6 L441.6,318.4 L442.1,318.3 L442.6,318.2 L443.1,318 L443.6,317.9 L444.1,317.8 L444.6,317.6 L445.1,317.5 L445.6,317.4 L446.1,317.2 L446.6,317.1 L447.1,317 L447.6,316.8 L448.1,316.7 L448.6,316.6 L449.1,316.4 L449.6,316.3 L450.1,316.2 L450.6,316 L451.1,315.9 L451.6,315.8 L452.1,315.6 L452.6,315.5 L453.1,315.4 L453.6,315.2 L454.1,315.1 L454.6,315 L455.1,314.8 L455.6,314.7 L456.1,314.6 L456.6,314.4 L457.1,314.3 L457.6,314.2 L458.1,314 L458.5,313.9 L459,313.8 L459.5,313.6 L460,313.5 L460.5,313.4 L461,313.2 L461.5,313.1 L462,313 L462.5,312.8 L463,312.7 L463.5,312.5 L464,312.4 L464.5,312.3 L465,312.1 L465.5,312 L466,311.9 L466.5,311.7 L467,311.6 L467.5,311.5 L468,311.3 L468.5,311.2 L469,311.1 L469.5,310.9 L470,310.8 L470.5,310.7 L471,310.5 L471.5,310.4 L472,310.2 L472.5,310.1 L473,310 L473.5,309.8 L474,309.7 L474.5,309.6 L475,309.4 L475.5,309.3 L476,309.2 L476.5,309 L477,308.9 L477.5,308.7 L478,308.6 L478.5,308.5 L479,308.3 L479.5,308.2 L480,308.1 L480.5,307.9 L481,307.8 L481.5,307.7 L482,307.5 L482.5,307.4 L483,307.2 L483.5,307.1 L484,307 L484.5,306.8 L485,306.7 L485.5,306.6 L486,306.4 L486.5,306.3 L487,306.1 L487.5,306 L488,305.9 L488.5,305.7 L489,305.6 L489.5,305.5 L490,305.3 L490.5,305.2 L491,305.1 L491.5,304.9 L492,304.8 L492.5,304.6 L493,304.5 L493.5,304.4 L494,304.2 L494.5,304.1 L495,304 L495.5,303.8 L496,303.7 L496.5,303.5 L497,303.4 L497.5,303.3 L498,303.1 L498.4,303 L498.9,302.9 L499.4,302.7 L499.9,302.6 L500.4,302.4 L500.9,302.3 L501.4,302.2 L501.9,302 L502.4,301.9 L502.9,301.8 L503.4,301.6 L503.9,301.5 L504.4,301.3 L504.9,301.2 L505.4,301.1 L505.9,300.9 L506.4,300.8 L506.9,300.7 L507.4,300.5 L507.9,300.4 L508.4,300.2 L508.9,300.1 L509.4,300 L509.9,299.8 L510.4,299.7 L510.9,299.6 L511.4,299.4 L511.9,299.3 L512.4,299.2 L512.9,299 L513.4,298.9 L513.9,298.7 L514.4,298.6 L514.9,298.5 L515.4,298.3 L515.9,298.2 L516.4,298.1 L516.9,297.9 L517.4,297.8 L517.9,297.6 L518.4,297.5 L518.9,297.4 L519.4,297.2 L519.9,297.1 L520.4,297 L520.9,296.8 L521.4,296.7 L521.9,296.6 L522.4,296.4 L522.9,296.3 L523.4,296.1 L523.9,296 L524.4,295.9 L524.9,295.7 L525.4,295.6 L525.9,295.5 L526.4,295.3 L526.9,295.2 L527.4,295 L527.9,294.9 L528.4,294.8 L528.9,294.6 L529.4,294.5 L529.9,294.4 L530.4,294.2 L530.9,294.1 L531.4,294 L531.9,293.8 L532.4,293.7 L532.9,293.5 L533.4,293.4 L533.9,293.3 L534.4,293.1 L534.9,293 L535.4,292.9 L535.9,292.7 L536.4,292.6 L536.9,292.5 L537.4,292.3 L537.9,292.2 L538.3,292.1 L538.8,291.9 L539.3,291.8 L539.8,291.6 L540.3,291.5 L540.8,291.4 L541.3,291.2 L541.8,291.1 L542.3,291 L542.8,290.8 L543.3,290.7 L543.8,290.6 L544.3,290.4 L544.8,290.3 L545.3,290.2 L545.8,290 L546.3,289.9 L546.8,289.8 L547.3,289.6 L547.8,289.5 L548.3,289.3 L548.8,289.2 L549.3,289.1 L549.8,288.9 L550.3,288.8 L550.8,288.7 L551.3,288.5 L551.8,288.4 L552.3,288.3 L552.8,288.1 L553.3,288 L553.8,287.9 L554.3,287.7 L554.8,287.6 L555.3,287.5 L555.8,287.3 L556.3,287.2 L556.8,287.1 L557.3,286.9 L557.8,286.8 L558.3,286.7 L558.8,286.5 L559.3,286.4 L559.8,286.3 L560.3,286.1 L560.8,286 L561.3,285.9 L561.8,285.7 L562.3,285.6 L562.8,285.5 L563.3,285.3 L563.8,285.2 L564.3,285.1 L564.8,284.9 L565.3,284.8 L565.8,284.7 L566.3,284.5 L566.8,284.4 L567.3,284.3 L567.8,284.1 L568.3,284 L568.8,283.9 L569.3,283.7 L569.8,283.6 L570.3,283.5 L570.8,283.3 L571.3,283.2 L571.8,283.1 L572.3,282.9 L572.8,282.8 L573.3,282.7 L573.8,282.6 L574.3,282.4 L574.8,282.3 L575.3,282.2 L575.8,282 L576.3,281.9 L576.8,281.8 L577.3,281.6 L577.8,281.5 L578.2,281.4 L578.7,281.2 L579.2,281.1 L579.7,281 L580.2,280.8 L580.7,280.7 L581.2,280.6 L581.7,280.5 L582.2,280.3 L582.7,280.2 L583.2,280.1 L583.7,279.9 L584.2,279.8 L584.7,279.7 L585.2,279.5 L585.7,279.4 L586.2,279.3 L586.7,279.2 L587.2,279 L587.7,278.9 L588.2,278.8 L588.7,278.6 L589.2,278.5 L589.7,278.4 L590.2,278.3 L590.7,278.1 L591.2,278 L591.7,277.9 L592.2,277.7 L592.7,277.6 L593.2,277.5 L593.7,277.4 L594.2,277.2 L594.7,277.1 L595.2,277 L595.7,276.8 L596.2,276.7 L596.7,276.6 L597.2,276.5 L597.7,276.3 L598.2,276.2 L598.7,276.1 L599.2,275.9 L599.7,275.8 L600.2,275.7 L600.7,275.6 L601.2,275.4 L601.7,275.3 L602.2,275.2 L602.7,275.1 L603.2,274.9 L603.7,274.8 L604.2,274.7 L604.7,274.6 L605.2,274.4 L605.7,274.3 L606.2,274.2 L606.7,274 L607.2,273.9 L607.7,273.8 L608.2,273.7 L608.7,273.5 L609.2,273.4 L609.7,273.3 L610.2,273.2 L610.7,273 L611.2,272.9 L611.7,272.8 L612.2,272.7 L612.7,272.5 L613.2,272.4 L613.7,272.3 L614.2,272.2 L614.7,272 L615.2,271.9 L615.7,271.8 L616.2,271.7 L616.7,271.6 L617.2,271.4 L617.7,271.3 L618.1,271.2 L618.6,271.1 L619.1,270.9 L619.6,270.8 L620.1,270.7 L620.6,270.6 L621.1,270.4 L621.6,270.3 L622.1,270.2 L622.6,270.1 L623.1,270 L623.6,269.8 L624.1,269.7 L624.6,269.6 L625.1,269.5 L625.6,269.3 L626.1,269.2 L626.6,269.1 L627.1,269 L627.6,268.9 L628.1,268.7 L628.6,268.6 L629.1,268.5 L629.6,268.4 L630.1,268.2 L630.6,268.1 L631.1,268 L631.6,267.9 L632.1,267.8 L632.6,267.6 L633.1,267.5 L633.6,267.4 L634.1,267.3 L634.6,267.2 L635.1,267 L635.6,266.9 L636.1,266.8 L636.6,266.7 L637.1,266.6 L637.6,266.4" fill="none" stroke="#c8716a" stroke-width="0.95" stroke-dasharray="3 2.4"/>
<path d="M438.6,348.4 L439.1,348.3 L439.6,348.2 L440.1,348 L440.6,347.9 L441.1,347.8 L441.6,347.7 L442.1,347.5 L442.6,347.4 L443.1,347.3 L443.6,347.1 L444.1,347 L444.6,346.9 L445.1,346.7 L445.6,346.6 L446.1,346.5 L446.6,346.3 L447.1,346.2 L447.6,346.1 L448.1,345.9 L448.6,345.8 L449.1,345.7 L449.6,345.5 L450.1,345.4 L450.6,345.3 L451.1,345.2 L451.6,345 L452.1,344.9 L452.6,344.8 L453.1,344.6 L453.6,344.5 L454.1,344.4 L454.6,344.2 L455.1,344.1 L455.6,344 L456.1,343.8 L456.6,343.7 L457.1,343.6 L457.6,343.4 L458.1,343.3 L458.5,343.2 L459,343 L459.5,342.9 L460,342.8 L460.5,342.6 L461,342.5 L461.5,342.4 L462,342.2 L462.5,342.1 L463,342 L463.5,341.8 L464,341.7 L464.5,341.6 L465,341.4 L465.5,341.3 L466,341.2 L466.5,341 L467,340.9 L467.5,340.7 L468,340.6 L468.5,340.5 L469,340.3 L469.5,340.2 L470,340.1 L470.5,339.9 L471,339.8 L471.5,339.7 L472,339.5 L472.5,339.4 L473,339.3 L473.5,339.1 L474,339 L474.5,338.9 L475,338.7 L475.5,338.6 L476,338.5 L476.5,338.3 L477,338.2 L477.5,338.1 L478,337.9 L478.5,337.8 L479,337.6 L479.5,337.5 L480,337.4 L480.5,337.2 L481,337.1 L481.5,337 L482,336.8 L482.5,336.7 L483,336.6 L483.5,336.4 L484,336.3 L484.5,336.2 L485,336 L485.5,335.9 L486,335.7 L486.5,335.6 L487,335.5 L487.5,335.3 L488,335.2 L488.5,335.1 L489,334.9 L489.5,334.8 L490,334.7 L490.5,334.5 L491,334.4 L491.5,334.3 L492,334.1 L492.5,334 L493,333.8 L493.5,333.7 L494,333.6 L494.5,333.4 L495,333.3 L495.5,333.2 L496,333 L496.5,332.9 L497,332.8 L497.5,332.6 L498,332.5 L498.4,332.3 L498.9,332.2 L499.4,332.1 L499.9,331.9 L500.4,331.8 L500.9,331.7 L501.4,331.5 L501.9,331.4 L502.4,331.3 L502.9,331.1 L503.4,331 L503.9,330.8 L504.4,330.7 L504.9,330.6 L505.4,330.4 L505.9,330.3 L506.4,330.2 L506.9,330 L507.4,329.9 L507.9,329.8 L508.4,329.6 L508.9,329.5 L509.4,329.3 L509.9,329.2 L510.4,329.1 L510.9,328.9 L511.4,328.8 L511.9,328.7 L512.4,328.5 L512.9,328.4 L513.4,328.3 L513.9,328.1 L514.4,328 L514.9,327.8 L515.4,327.7 L515.9,327.6 L516.4,327.4 L516.9,327.3 L517.4,327.2 L517.9,327 L518.4,326.9 L518.9,326.7 L519.4,326.6 L519.9,326.5 L520.4,326.3 L520.9,326.2 L521.4,326.1 L521.9,325.9 L522.4,325.8 L522.9,325.7 L523.4,325.5 L523.9,325.4 L524.4,325.2 L524.9,325.1 L525.4,325 L525.9,324.8 L526.4,324.7 L526.9,324.6 L527.4,324.4 L527.9,324.3 L528.4,324.2 L528.9,324 L529.4,323.9 L529.9,323.7 L530.4,323.6 L530.9,323.5 L531.4,323.3 L531.9,323.2 L532.4,323.1 L532.9,322.9 L533.4,322.8 L533.9,322.7 L534.4,322.5 L534.9,322.4 L535.4,322.2 L535.9,322.1 L536.4,322 L536.9,321.8 L537.4,321.7 L537.9,321.6 L538.3,321.4 L538.8,321.3 L539.3,321.2 L539.8,321 L540.3,320.9 L540.8,320.8 L541.3,320.6 L541.8,320.5 L542.3,320.3 L542.8,320.2 L543.3,320.1 L543.8,319.9 L544.3,319.8 L544.8,319.7 L545.3,319.5 L545.8,319.4 L546.3,319.3 L546.8,319.1 L547.3,319 L547.8,318.9 L548.3,318.7 L548.8,318.6 L549.3,318.5 L549.8,318.3 L550.3,318.2 L550.8,318 L551.3,317.9 L551.8,317.8 L552.3,317.6 L552.8,317.5 L553.3,317.4 L553.8,317.2 L554.3,317.1 L554.8,317 L555.3,316.8 L555.8,316.7 L556.3,316.6 L556.8,316.4 L557.3,316.3 L557.8,316.2 L558.3,316 L558.8,315.9 L559.3,315.8 L559.8,315.6 L560.3,315.5 L560.8,315.4 L561.3,315.2 L561.8,315.1 L562.3,314.9 L562.8,314.8 L563.3,314.7 L563.8,314.5 L564.3,314.4 L564.8,314.3 L565.3,314.1 L565.8,314 L566.3,313.9 L566.8,313.7 L567.3,313.6 L567.8,313.5 L568.3,313.3 L568.8,313.2 L569.3,313.1 L569.8,312.9 L570.3,312.8 L570.8,312.7 L571.3,312.5 L571.8,312.4 L572.3,312.3 L572.8,312.1 L573.3,312 L573.8,311.9 L574.3,311.7 L574.8,311.6 L575.3,311.5 L575.8,311.4 L576.3,311.2 L576.8,311.1 L577.3,311 L577.8,310.8 L578.2,310.7 L578.7,310.6 L579.2,310.4 L579.7,310.3 L580.2,310.2 L580.7,310 L581.2,309.9 L581.7,309.8 L582.2,309.6 L582.7,309.5 L583.2,309.4 L583.7,309.2 L584.2,309.1 L584.7,309 L585.2,308.8 L585.7,308.7 L586.2,308.6 L586.7,308.5 L587.2,308.3 L587.7,308.2 L588.2,308.1 L588.7,307.9 L589.2,307.8 L589.7,307.7 L590.2,307.5 L590.7,307.4 L591.2,307.3 L591.7,307.1 L592.2,307 L592.7,306.9 L593.2,306.8 L593.7,306.6 L594.2,306.5 L594.7,306.4 L595.2,306.2 L595.7,306.1 L596.2,306 L596.7,305.8 L597.2,305.7 L597.7,305.6 L598.2,305.5 L598.7,305.3 L599.2,305.2 L599.7,305.1 L600.2,304.9 L600.7,304.8 L601.2,304.7 L601.7,304.6 L602.2,304.4 L602.7,304.3 L603.2,304.2 L603.7,304 L604.2,303.9 L604.7,303.8 L605.2,303.7 L605.7,303.5 L606.2,303.4 L606.7,303.3 L607.2,303.1 L607.7,303 L608.2,302.9 L608.7,302.8 L609.2,302.6 L609.7,302.5 L610.2,302.4 L610.7,302.3 L611.2,302.1 L611.7,302 L612.2,301.9 L612.7,301.7 L613.2,301.6 L613.7,301.5 L614.2,301.4 L614.7,301.2 L615.2,301.1 L615.7,301 L616.2,300.9 L616.7,300.7 L617.2,300.6 L617.7,300.5 L618.1,300.4 L618.6,300.2 L619.1,300.1 L619.6,300 L620.1,299.9 L620.6,299.7 L621.1,299.6 L621.6,299.5 L622.1,299.4 L622.6,299.2 L623.1,299.1 L623.6,299 L624.1,298.9 L624.6,298.7 L625.1,298.6 L625.6,298.5 L626.1,298.4 L626.6,298.2 L627.1,298.1 L627.6,298 L628.1,297.9 L628.6,297.7 L629.1,297.6 L629.6,297.5 L630.1,297.4 L630.6,297.2 L631.1,297.1 L631.6,297 L632.1,296.9 L632.6,296.8 L633.1,296.6 L633.6,296.5 L634.1,296.4 L634.6,296.3 L635.1,296.1 L635.6,296 L636.1,295.9 L636.6,295.8 L637.1,295.7 L637.6,295.5" fill="none" stroke="#c8716a" stroke-width="0.95" stroke-dasharray="3 2.4"/>
<path d="M438.6,285.6 L439.1,285.4 L439.6,285.1 L440.1,284.8 L440.6,284.5 L441.1,284.2 L441.6,283.9 L442.1,283.7 L442.6,283.4 L443.1,283.1 L443.6,282.8 L444.1,282.5 L444.6,282.2 L445.1,282 L445.6,281.7 L446.1,281.4 L446.6,281.1 L447.1,280.8 L447.6,280.5 L448.1,280.2 L448.6,280 L449.1,279.7 L449.6,279.4 L450.1,279.1 L450.6,278.8 L451.1,278.5 L451.6,278.2 L452.1,277.9 L452.6,277.7 L453.1,277.4 L453.6,277.1 L454.1,276.8 L454.6,276.5 L455.1,276.2 L455.6,275.9 L456.1,275.6 L456.6,275.3 L457.1,275 L457.6,274.8 L458.1,274.5 L458.5,274.2 L459,273.9 L459.5,273.6 L460,273.3 L460.5,273 L461,272.7 L461.5,272.4 L462,272.1 L462.5,271.8 L463,271.6 L463.5,271.3 L464,271 L464.5,270.7 L465,270.4 L465.5,270.1 L466,269.8 L466.5,269.5 L467,269.2 L467.5,268.9 L468,268.6 L468.5,268.3 L469,268 L469.5,267.8 L470,267.5 L470.5,267.2 L471,266.9 L471.5,266.6 L472,266.3 L472.5,266 L473,265.7 L473.5,265.4 L474,265.1 L474.5,264.8 L475,264.5 L475.5,264.2 L476,263.9 L476.5,263.6 L477,263.3 L477.5,263 L478,262.8 L478.5,262.5 L479,262.2 L479.5,261.9 L480,261.6 L480.5,261.3 L481,261 L481.5,260.7 L482,260.4 L482.5,260.1 L483,259.8 L483.5,259.5 L484,259.2 L484.5,258.9 L485,258.6 L485.5,258.3 L486,258 L486.5,257.8 L487,257.5 L487.5,257.2 L488,256.9 L488.5,256.6 L489,256.3 L489.5,256 L490,255.7 L490.5,255.4 L491,255.1 L491.5,254.8 L492,254.5 L492.5,254.2 L493,253.9 L493.5,253.6 L494,253.3 L494.5,253.1 L495,252.8 L495.5,252.5 L496,252.2 L496.5,251.9 L497,251.6 L497.5,251.3 L498,251 L498.4,250.7 L498.9,250.4 L499.4,250.1 L499.9,249.8 L500.4,249.5 L500.9,249.3 L501.4,249 L501.9,248.7 L502.4,248.4 L502.9,248.1 L503.4,247.8 L503.9,247.5 L504.4,247.2 L504.9,246.9 L505.4,246.6 L505.9,246.3 L506.4,246.1 L506.9,245.8 L507.4,245.5 L507.9,245.2 L508.4,244.9 L508.9,244.6 L509.4,244.3 L509.9,244 L510.4,243.7 L510.9,243.5 L511.4,243.2 L511.9,242.9 L512.4,242.6 L512.9,242.3 L513.4,242 L513.9,241.7 L514.4,241.4 L514.9,241.2 L515.4,240.9 L515.9,240.6" fill="none" stroke="#35a2a6" stroke-width="0.95" stroke-dasharray="3 2.4"/>
<path d="M438.6,347.9 L439.1,347.7 L439.6,347.4 L440.1,347.1 L440.6,346.8 L441.1,346.5 L441.6,346.2 L442.1,345.9 L442.6,345.6 L443.1,345.3 L443.6,345 L444.1,344.8 L444.6,344.5 L445.1,344.2 L445.6,343.9 L446.1,343.6 L446.6,343.3 L447.1,343 L447.6,342.7 L448.1,342.4 L448.6,342.1 L449.1,341.8 L449.6,341.5 L450.1,341.2 L450.6,341 L451.1,340.7 L451.6,340.4 L452.1,340.1 L452.6,339.8 L453.1,339.5 L453.6,339.2 L454.1,338.9 L454.6,338.6 L455.1,338.3 L455.6,338 L456.1,337.7 L456.6,337.4 L457.1,337.1 L457.6,336.8 L458.1,336.5 L458.5,336.2 L459,335.9 L459.5,335.6 L460,335.3 L460.5,335 L461,334.7 L461.5,334.4 L462,334.1 L462.5,333.8 L463,333.5 L463.5,333.2 L464,332.9 L464.5,332.6 L465,332.3 L465.5,332 L466,331.7 L466.5,331.4 L467,331.1 L467.5,330.8 L468,330.5 L468.5,330.2 L469,329.9 L469.5,329.6 L470,329.3 L470.5,329 L471,328.7 L471.5,328.4 L472,328.1 L472.5,327.8 L473,327.5 L473.5,327.2 L474,326.9 L474.5,326.6 L475,326.3 L475.5,326 L476,325.7 L476.5,325.4 L477,325.1 L477.5,324.8 L478,324.5 L478.5,324.2 L479,323.9 L479.5,323.6 L480,323.3 L480.5,323 L481,322.6 L481.5,322.3 L482,322 L482.5,321.7 L483,321.4 L483.5,321.1 L484,320.8 L484.5,320.5 L485,320.2 L485.5,319.9 L486,319.6 L486.5,319.3 L487,319 L487.5,318.7 L488,318.4 L488.5,318.1 L489,317.8 L489.5,317.5 L490,317.2 L490.5,316.9 L491,316.6 L491.5,316.3 L492,316 L492.5,315.7 L493,315.4 L493.5,315.1 L494,314.8 L494.5,314.5 L495,314.2 L495.5,313.9 L496,313.6 L496.5,313.3 L497,313 L497.5,312.7 L498,312.4 L498.4,312.1 L498.9,311.7 L499.4,311.4 L499.9,311.1 L500.4,310.8 L500.9,310.5 L501.4,310.2 L501.9,309.9 L502.4,309.6 L502.9,309.3 L503.4,309 L503.9,308.7 L504.4,308.4 L504.9,308.1 L505.4,307.8 L505.9,307.5 L506.4,307.2 L506.9,306.9 L507.4,306.6 L507.9,306.3 L508.4,306 L508.9,305.7 L509.4,305.4 L509.9,305.1 L510.4,304.8 L510.9,304.5 L511.4,304.2 L511.9,303.9 L512.4,303.7 L512.9,303.4 L513.4,303.1 L513.9,302.8 L514.4,302.5 L514.9,302.2 L515.4,301.9 L515.9,301.6 L516.4,301.3 L516.9,301 L517.4,300.7 L517.9,300.4 L518.4,300.1 L518.9,299.8 L519.4,299.5 L519.9,299.2 L520.4,298.9 L520.9,298.6 L521.4,298.3 L521.9,298 L522.4,297.7 L522.9,297.4 L523.4,297.1 L523.9,296.9 L524.4,296.6 L524.9,296.3 L525.4,296 L525.9,295.7 L526.4,295.4 L526.9,295.1 L527.4,294.8 L527.9,294.5 L528.4,294.2 L528.9,293.9 L529.4,293.6 L529.9,293.4 L530.4,293.1 L530.9,292.8 L531.4,292.5 L531.9,292.2 L532.4,291.9 L532.9,291.6 L533.4,291.3 L533.9,291 L534.4,290.8 L534.9,290.5 L535.4,290.2 L535.9,289.9 L536.4,289.6 L536.9,289.3 L537.4,289 L537.9,288.8 L538.3,288.5 L538.8,288.2 L539.3,287.9 L539.8,287.6 L540.3,287.3 L540.8,287.1 L541.3,286.8 L541.8,286.5 L542.3,286.2 L542.8,285.9 L543.3,285.6 L543.8,285.4 L544.3,285.1 L544.8,284.8 L545.3,284.5 L545.8,284.2 L546.3,284 L546.8,283.7 L547.3,283.4 L547.8,283.1 L548.3,282.8 L548.8,282.6 L549.3,282.3 L549.8,282 L550.3,281.7 L550.8,281.5 L551.3,281.2 L551.8,280.9 L552.3,280.6 L552.8,280.4 L553.3,280.1 L553.8,279.8 L554.3,279.5 L554.8,279.3 L555.3,279 L555.8,278.7 L556.3,278.4 L556.8,278.2 L557.3,277.9 L557.8,277.6 L558.3,277.3 L558.8,277.1 L559.3,276.8 L559.8,276.5 L560.3,276.3 L560.8,276 L561.3,275.7 L561.8,275.5 L562.3,275.2 L562.8,274.9 L563.3,274.7 L563.8,274.4 L564.3,274.1 L564.8,273.9 L565.3,273.6 L565.8,273.3 L566.3,273.1 L566.8,272.8 L567.3,272.5 L567.8,272.3 L568.3,272 L568.8,271.7 L569.3,271.5 L569.8,271.2 L570.3,271 L570.8,270.7 L571.3,270.4 L571.8,270.2 L572.3,269.9 L572.8,269.7 L573.3,269.4 L573.8,269.1 L574.3,268.9 L574.8,268.6 L575.3,268.4 L575.8,268.1 L576.3,267.9 L576.8,267.6 L577.3,267.3 L577.8,267.1 L578.2,266.8 L578.7,266.6 L579.2,266.3 L579.7,266.1 L580.2,265.8 L580.7,265.6 L581.2,265.3 L581.7,265.1 L582.2,264.8 L582.7,264.6 L583.2,264.3 L583.7,264.1 L584.2,263.8 L584.7,263.6 L585.2,263.3 L585.7,263.1 L586.2,262.8 L586.7,262.6 L587.2,262.3 L587.7,262.1 L588.2,261.8 L588.7,261.6 L589.2,261.4 L589.7,261.1 L590.2,260.9 L590.7,260.6 L591.2,260.4 L591.7,260.1 L592.2,259.9 L592.7,259.7 L593.2,259.4 L593.7,259.2 L594.2,258.9 L594.7,258.7 L595.2,258.4 L595.7,258.2 L596.2,258 L596.7,257.7 L597.2,257.5 L597.7,257.3 L598.2,257 L598.7,256.8 L599.2,256.6 L599.7,256.3 L600.2,256.1 L600.7,255.8 L601.2,255.6 L601.7,255.4 L602.2,255.1 L602.7,254.9 L603.2,254.7 L603.7,254.5 L604.2,254.2 L604.7,254 L605.2,253.8 L605.7,253.5 L606.2,253.3 L606.7,253.1 L607.2,252.8 L607.7,252.6 L608.2,252.4 L608.7,252.2 L609.2,251.9 L609.7,251.7 L610.2,251.5 L610.7,251.3 L611.2,251 L611.7,250.8 L612.2,250.6 L612.7,250.4 L613.2,250.1 L613.7,249.9 L614.2,249.7 L614.7,249.5 L615.2,249.3 L615.7,249 L616.2,248.8 L616.7,248.6 L617.2,248.4 L617.7,248.2 L618.1,247.9 L618.6,247.7 L619.1,247.5 L619.6,247.3 L620.1,247.1 L620.6,246.9 L621.1,246.6 L621.6,246.4 L622.1,246.2 L622.6,246 L623.1,245.8 L623.6,245.6 L624.1,245.4 L624.6,245.2 L625.1,244.9 L625.6,244.7 L626.1,244.5 L626.6,244.3 L627.1,244.1 L627.6,243.9 L628.1,243.7 L628.6,243.5 L629.1,243.3 L629.6,243.1 L630.1,242.9 L630.6,242.7 L631.1,242.5 L631.6,242.2 L632.1,242 L632.6,241.8 L633.1,241.6 L633.6,241.4 L634.1,241.2 L634.6,241 L635.1,240.8 L635.6,240.6" fill="none" stroke="#35a2a6" stroke-width="0.95" stroke-dasharray="3 2.4"/>
<path d="M438.6,333.8 L439.1,333.7 L439.6,333.5 L440.1,333.4 L440.6,333.3 L441.1,333.1 L441.6,333 L442.1,332.9 L442.6,332.8 L443.1,332.6 L443.6,332.5 L444.1,332.4 L444.6,332.2 L445.1,332.1 L445.6,332 L446.1,331.8 L446.6,331.7 L447.1,331.6 L447.6,331.5 L448.1,331.3 L448.6,331.2 L449.1,331.1 L449.6,330.9 L450.1,330.8 L450.6,330.7 L451.1,330.5 L451.6,330.4 L452.1,330.3 L452.6,330.1 L453.1,330 L453.6,329.9 L454.1,329.7 L454.6,329.6 L455.1,329.5 L455.6,329.3 L456.1,329.2 L456.6,329.1 L457.1,328.9 L457.6,328.8 L458.1,328.7 L458.5,328.5 L459,328.4 L459.5,328.3 L460,328.1 L460.5,328 L461,327.9 L461.5,327.8 L462,327.6 L462.5,327.5 L463,327.4 L463.5,327.2 L464,327.1 L464.5,327 L465,326.8 L465.5,326.7 L466,326.6 L466.5,326.4 L467,326.3 L467.5,326.2 L468,326 L468.5,325.9 L469,325.7 L469.5,325.6 L470,325.5 L470.5,325.3 L471,325.2 L471.5,325.1 L472,324.9 L472.5,324.8 L473,324.7 L473.5,324.5 L474,324.4 L474.5,324.3 L475,324.1 L475.5,324 L476,323.9 L476.5,323.7 L477,323.6 L477.5,323.5 L478,323.3 L478.5,323.2 L479,323.1 L479.5,322.9 L480,322.8 L480.5,322.7 L481,322.5 L481.5,322.4 L482,322.3 L482.5,322.1 L483,322 L483.5,321.8 L484,321.7 L484.5,321.6 L485,321.4 L485.5,321.3 L486,321.2 L486.5,321 L487,320.9 L487.5,320.8 L488,320.6 L488.5,320.5 L489,320.4 L489.5,320.2 L490,320.1 L490.5,320 L491,319.8 L491.5,319.7 L492,319.5 L492.5,319.4 L493,319.3 L493.5,319.1 L494,319 L494.5,318.9 L495,318.7 L495.5,318.6 L496,318.5 L496.5,318.3 L497,318.2 L497.5,318.1 L498,317.9 L498.4,317.8 L498.9,317.6 L499.4,317.5 L499.9,317.4 L500.4,317.2 L500.9,317.1 L501.4,317 L501.9,316.8 L502.4,316.7 L502.9,316.6 L503.4,316.4 L503.9,316.3 L504.4,316.2 L504.9,316 L505.4,315.9 L505.9,315.7 L506.4,315.6 L506.9,315.5 L507.4,315.3 L507.9,315.2 L508.4,315.1 L508.9,314.9 L509.4,314.8 L509.9,314.7 L510.4,314.5 L510.9,314.4 L511.4,314.3 L511.9,314.1 L512.4,314 L512.9,313.8 L513.4,313.7 L513.9,313.6 L514.4,313.4 L514.9,313.3 L515.4,313.2 L515.9,313 L516.4,312.9 L516.9,312.8 L517.4,312.6 L517.9,312.5 L518.4,312.3 L518.9,312.2 L519.4,312.1 L519.9,311.9 L520.4,311.8 L520.9,311.7 L521.4,311.5 L521.9,311.4 L522.4,311.3 L522.9,311.1 L523.4,311 L523.9,310.9 L524.4,310.7 L524.9,310.6 L525.4,310.4 L525.9,310.3 L526.4,310.2 L526.9,310 L527.4,309.9 L527.9,309.8 L528.4,309.6 L528.9,309.5 L529.4,309.4 L529.9,309.2 L530.4,309.1 L530.9,309 L531.4,308.8 L531.9,308.7 L532.4,308.5 L532.9,308.4 L533.4,308.3 L533.9,308.1 L534.4,308 L534.9,307.9 L535.4,307.7 L535.9,307.6 L536.4,307.5 L536.9,307.3 L537.4,307.2 L537.9,307.1 L538.3,306.9 L538.8,306.8 L539.3,306.6 L539.8,306.5 L540.3,306.4 L540.8,306.2 L541.3,306.1 L541.8,306 L542.3,305.8 L542.8,305.7 L543.3,305.6 L543.8,305.4 L544.3,305.3 L544.8,305.2 L545.3,305 L545.8,304.9 L546.3,304.8 L546.8,304.6 L547.3,304.5 L547.8,304.4 L548.3,304.2 L548.8,304.1 L549.3,304 L549.8,303.8 L550.3,303.7 L550.8,303.5 L551.3,303.4 L551.8,303.3 L552.3,303.1 L552.8,303 L553.3,302.9 L553.8,302.7 L554.3,302.6 L554.8,302.5 L555.3,302.3 L555.8,302.2 L556.3,302.1 L556.8,301.9 L557.3,301.8 L557.8,301.7 L558.3,301.5 L558.8,301.4 L559.3,301.3 L559.8,301.1 L560.3,301 L560.8,300.9 L561.3,300.7 L561.8,300.6 L562.3,300.5 L562.8,300.3 L563.3,300.2 L563.8,300.1 L564.3,299.9 L564.8,299.8 L565.3,299.7 L565.8,299.5 L566.3,299.4 L566.8,299.3 L567.3,299.1 L567.8,299 L568.3,298.9 L568.8,298.7 L569.3,298.6 L569.8,298.5 L570.3,298.3 L570.8,298.2 L571.3,298.1 L571.8,297.9 L572.3,297.8 L572.8,297.7 L573.3,297.5 L573.8,297.4 L574.3,297.3 L574.8,297.2 L575.3,297 L575.8,296.9 L576.3,296.8 L576.8,296.6 L577.3,296.5 L577.8,296.4 L578.2,296.2 L578.7,296.1 L579.2,296 L579.7,295.8 L580.2,295.7 L580.7,295.6 L581.2,295.4 L581.7,295.3 L582.2,295.2 L582.7,295.1 L583.2,294.9 L583.7,294.8 L584.2,294.7 L584.7,294.5 L585.2,294.4 L585.7,294.3 L586.2,294.1 L586.7,294 L587.2,293.9 L587.7,293.7 L588.2,293.6 L588.7,293.5 L589.2,293.4 L589.7,293.2 L590.2,293.1 L590.7,293 L591.2,292.8 L591.7,292.7 L592.2,292.6 L592.7,292.4 L593.2,292.3 L593.7,292.2 L594.2,292.1 L594.7,291.9 L595.2,291.8 L595.7,291.7 L596.2,291.5 L596.7,291.4 L597.2,291.3 L597.7,291.2 L598.2,291 L598.7,290.9 L599.2,290.8 L599.7,290.6 L600.2,290.5 L600.7,290.4 L601.2,290.3 L601.7,290.1 L602.2,290 L602.7,289.9 L603.2,289.7 L603.7,289.6 L604.2,289.5 L604.7,289.4 L605.2,289.2 L605.7,289.1 L606.2,289 L606.7,288.9 L607.2,288.7 L607.7,288.6 L608.2,288.5 L608.7,288.4 L609.2,288.2 L609.7,288.1 L610.2,288 L610.7,287.8 L611.2,287.7 L611.7,287.6 L612.2,287.5 L612.7,287.3 L613.2,287.2 L613.7,287.1 L614.2,287 L614.7,286.8 L615.2,286.7 L615.7,286.6 L616.2,286.5 L616.7,286.3 L617.2,286.2 L617.7,286.1 L618.1,286 L618.6,285.8 L619.1,285.7 L619.6,285.6 L620.1,285.5 L620.6,285.3 L621.1,285.2 L621.6,285.1 L622.1,285 L622.6,284.8 L623.1,284.7 L623.6,284.6 L624.1,284.5 L624.6,284.3 L625.1,284.2 L625.6,284.1 L626.1,284 L626.6,283.8 L627.1,283.7 L627.6,283.6 L628.1,283.5 L628.6,283.4 L629.1,283.2 L629.6,283.1 L630.1,283 L630.6,282.9 L631.1,282.7 L631.6,282.6 L632.1,282.5 L632.6,282.4 L633.1,282.3 L633.6,282.1 L634.1,282 L634.6,281.9 L635.1,281.8 L635.6,281.6 L636.1,281.5 L636.6,281.4 L637.1,281.3 L637.6,281.2" fill="none" stroke="#d9675e" stroke-width="1.35"/>
<path d="M438.6,316.9 L439.1,316.7 L439.6,316.4 L440.1,316.1 L440.6,315.8 L441.1,315.5 L441.6,315.3 L442.1,315 L442.6,314.7 L443.1,314.4 L443.6,314.1 L444.1,313.8 L444.6,313.6 L445.1,313.3 L445.6,313 L446.1,312.7 L446.6,312.4 L447.1,312.1 L447.6,311.9 L448.1,311.6 L448.6,311.3 L449.1,311 L449.6,310.7 L450.1,310.4 L450.6,310.1 L451.1,309.9 L451.6,309.6 L452.1,309.3 L452.6,309 L453.1,308.7 L453.6,308.4 L454.1,308.1 L454.6,307.8 L455.1,307.6 L455.6,307.3 L456.1,307 L456.6,306.7 L457.1,306.4 L457.6,306.1 L458.1,305.8 L458.5,305.5 L459,305.2 L459.5,304.9 L460,304.7 L460.5,304.4 L461,304.1 L461.5,303.8 L462,303.5 L462.5,303.2 L463,302.9 L463.5,302.6 L464,302.3 L464.5,302 L465,301.7 L465.5,301.4 L466,301.2 L466.5,300.9 L467,300.6 L467.5,300.3 L468,300 L468.5,299.7 L469,299.4 L469.5,299.1 L470,298.8 L470.5,298.5 L471,298.2 L471.5,297.9 L472,297.6 L472.5,297.3 L473,297 L473.5,296.7 L474,296.5 L474.5,296.2 L475,295.9 L475.5,295.6 L476,295.3 L476.5,295 L477,294.7 L477.5,294.4 L478,294.1 L478.5,293.8 L479,293.5 L479.5,293.2 L480,292.9 L480.5,292.6 L481,292.3 L481.5,292 L482,291.7 L482.5,291.4 L483,291.1 L483.5,290.9 L484,290.6 L484.5,290.3 L485,290 L485.5,289.7 L486,289.4 L486.5,289.1 L487,288.8 L487.5,288.5 L488,288.2 L488.5,287.9 L489,287.6 L489.5,287.3 L490,287 L490.5,286.7 L491,286.4 L491.5,286.1 L492,285.8 L492.5,285.5 L493,285.2 L493.5,285 L494,284.7 L494.5,284.4 L495,284.1 L495.5,283.8 L496,283.5 L496.5,283.2 L497,282.9 L497.5,282.6 L498,282.3 L498.4,282 L498.9,281.7 L499.4,281.4 L499.9,281.1 L500.4,280.8 L500.9,280.5 L501.4,280.2 L501.9,280 L502.4,279.7 L502.9,279.4 L503.4,279.1 L503.9,278.8 L504.4,278.5 L504.9,278.2 L505.4,277.9 L505.9,277.6 L506.4,277.3 L506.9,277 L507.4,276.7 L507.9,276.4 L508.4,276.2 L508.9,275.9 L509.4,275.6 L509.9,275.3 L510.4,275 L510.9,274.7 L511.4,274.4 L511.9,274.1 L512.4,273.8 L512.9,273.5 L513.4,273.2 L513.9,273 L514.4,272.7 L514.9,272.4 L515.4,272.1 L515.9,271.8 L516.4,271.5 L516.9,271.2 L517.4,270.9 L517.9,270.6 L518.4,270.4 L518.9,270.1 L519.4,269.8 L519.9,269.5 L520.4,269.2 L520.9,268.9 L521.4,268.6 L521.9,268.3 L522.4,268.1 L522.9,267.8 L523.4,267.5 L523.9,267.2 L524.4,266.9 L524.9,266.6 L525.4,266.3 L525.9,266.1 L526.4,265.8 L526.9,265.5 L527.4,265.2 L527.9,264.9 L528.4,264.6 L528.9,264.3 L529.4,264.1 L529.9,263.8 L530.4,263.5 L530.9,263.2 L531.4,262.9 L531.9,262.7 L532.4,262.4 L532.9,262.1 L533.4,261.8 L533.9,261.5 L534.4,261.2 L534.9,261 L535.4,260.7 L535.9,260.4 L536.4,260.1 L536.9,259.8 L537.4,259.6 L537.9,259.3 L538.3,259 L538.8,258.7 L539.3,258.5 L539.8,258.2 L540.3,257.9 L540.8,257.6 L541.3,257.3 L541.8,257.1 L542.3,256.8 L542.8,256.5 L543.3,256.2 L543.8,256 L544.3,255.7 L544.8,255.4 L545.3,255.1 L545.8,254.9 L546.3,254.6 L546.8,254.3 L547.3,254 L547.8,253.8 L548.3,253.5 L548.8,253.2 L549.3,253 L549.8,252.7 L550.3,252.4 L550.8,252.1 L551.3,251.9 L551.8,251.6 L552.3,251.3 L552.8,251.1 L553.3,250.8 L553.8,250.5 L554.3,250.3 L554.8,250 L555.3,249.7 L555.8,249.5 L556.3,249.2 L556.8,248.9 L557.3,248.7 L557.8,248.4 L558.3,248.1 L558.8,247.9 L559.3,247.6 L559.8,247.3 L560.3,247.1 L560.8,246.8 L561.3,246.5 L561.8,246.3 L562.3,246 L562.8,245.7 L563.3,245.5 L563.8,245.2 L564.3,245 L564.8,244.7 L565.3,244.4 L565.8,244.2 L566.3,243.9 L566.8,243.7 L567.3,243.4 L567.8,243.1 L568.3,242.9 L568.8,242.6 L569.3,242.4 L569.8,242.1 L570.3,241.9 L570.8,241.6 L571.3,241.3 L571.8,241.1 L572.3,240.8 L572.8,240.6" fill="none" stroke="#1ea8ad" stroke-width="1.35"/>
<path d="M428.8,235.5 H647.4 V355.3 H428.8" fill="none" stroke="#8a8a8a" stroke-width="1"/>
<line x1="428.8" y1="355.3" x2="647.4" y2="355.3" stroke="#777" stroke-width="1"/>
<line x1="426.3" y1="336" x2="428.8" y2="336" stroke="#333" stroke-width="0.9"/>
<text x="425.0" y="337.8" text-anchor="end" font-size="6.5" fill="#4a4a4a">2e+06</text>
<line x1="426.3" y1="307.9" x2="428.8" y2="307.9" stroke="#333" stroke-width="0.9"/>
<text x="425.0" y="309.7" text-anchor="end" font-size="6.5" fill="#4a4a4a">3e+06</text>
<line x1="426.3" y1="279.8" x2="428.8" y2="279.8" stroke="#333" stroke-width="0.9"/>
<text x="425.0" y="281.6" text-anchor="end" font-size="6.5" fill="#4a4a4a">4e+06</text>
<line x1="426.3" y1="251.7" x2="428.8" y2="251.7" stroke="#333" stroke-width="0.9"/>
<text x="425.0" y="253.5" text-anchor="end" font-size="6.5" fill="#4a4a4a">5e+06</text>
<line x1="438.6" y1="355.3" x2="438.6" y2="357.8" stroke="#333" stroke-width="0.9"/>
<text x="438.6" y="363.3" text-anchor="middle" font-size="6.5" fill="#4a4a4a">5</text>
<line x1="488.4" y1="355.3" x2="488.4" y2="357.8" stroke="#333" stroke-width="0.9"/>
<text x="488.4" y="363.3" text-anchor="middle" font-size="6.5" fill="#4a4a4a">6</text>
<line x1="538.1" y1="355.3" x2="538.1" y2="357.8" stroke="#333" stroke-width="0.9"/>
<text x="538.1" y="363.3" text-anchor="middle" font-size="6.5" fill="#4a4a4a">7</text>
<line x1="587.9" y1="355.3" x2="587.9" y2="357.8" stroke="#333" stroke-width="0.9"/>
<text x="587.9" y="363.3" text-anchor="middle" font-size="6.5" fill="#4a4a4a">8</text>
<line x1="637.6" y1="355.3" x2="637.6" y2="357.8" stroke="#333" stroke-width="0.9"/>
<text x="637.6" y="363.3" text-anchor="middle" font-size="6.5" fill="#4a4a4a">9</text>
<text x="538.1" y="372.2" text-anchor="middle" font-size="7.8" font-weight="bold" fill="#111">Time (h)</text>
<text transform="translate(404.2,295.4) rotate(-90)" text-anchor="middle" font-size="7.4" font-weight="bold" fill="#111">CFU/mL</text>
<path d="M112.4,4.4 H677.2 V394.6" fill="none" stroke="#6a6a6a" stroke-width="1"/>
<path d="M112.4,4.4 V394.6 H677.2" fill="none" stroke="#1a1a1a" stroke-width="1.2"/>
<line x1="107.4" y1="376.5" x2="112.4" y2="376.5" stroke="#1a1a1a" stroke-width="1.2"/>
<text x="102.3" y="380.5" text-anchor="end" font-size="15.3" fill="#4d4d4d">0.0e+00</text>
<line x1="107.4" y1="285.5" x2="112.4" y2="285.5" stroke="#1a1a1a" stroke-width="1.2"/>
<text x="102.3" y="289.5" text-anchor="end" font-size="15.3" fill="#4d4d4d">2.5e+06</text>
<line x1="107.4" y1="194.5" x2="112.4" y2="194.5" stroke="#1a1a1a" stroke-width="1.2"/>
<text x="102.3" y="198.5" text-anchor="end" font-size="15.3" fill="#4d4d4d">5.0e+06</text>
<line x1="107.4" y1="103.5" x2="112.4" y2="103.5" stroke="#1a1a1a" stroke-width="1.2"/>
<text x="102.3" y="107.5" text-anchor="end" font-size="15.3" fill="#4d4d4d">7.5e+06</text>
<line x1="107.4" y1="12.5" x2="112.4" y2="12.5" stroke="#1a1a1a" stroke-width="1.2"/>
<text x="102.3" y="16.5" text-anchor="end" font-size="15.3" fill="#4d4d4d">1.0e+07</text>
<line x1="137.4" y1="394.6" x2="137.4" y2="399.6" stroke="#1a1a1a" stroke-width="1.2"/>
<text x="137.4" y="412.6" text-anchor="middle" font-size="14.7" fill="#4d4d4d">0</text>
<line x1="244.6" y1="394.6" x2="244.6" y2="399.6" stroke="#1a1a1a" stroke-width="1.2"/>
<text x="244.6" y="412.6" text-anchor="middle" font-size="14.7" fill="#4d4d4d">5</text>
<line x1="351.8" y1="394.6" x2="351.8" y2="399.6" stroke="#1a1a1a" stroke-width="1.2"/>
<text x="351.8" y="412.6" text-anchor="middle" font-size="14.7" fill="#4d4d4d">10</text>
<line x1="458.9" y1="394.6" x2="458.9" y2="399.6" stroke="#1a1a1a" stroke-width="1.2"/>
<text x="458.9" y="412.6" text-anchor="middle" font-size="14.7" fill="#4d4d4d">15</text>
<line x1="566.1" y1="394.6" x2="566.1" y2="399.6" stroke="#1a1a1a" stroke-width="1.2"/>
<text x="566.1" y="412.6" text-anchor="middle" font-size="14.7" fill="#4d4d4d">20</text>
<line x1="673.3" y1="394.6" x2="673.3" y2="399.6" stroke="#1a1a1a" stroke-width="1.2"/>
<text x="673.3" y="412.6" text-anchor="middle" font-size="14.7" fill="#4d4d4d">25</text>
<text x="395.1" y="432.8" text-anchor="middle" font-size="19.3" fill="#000">Time (h)</text>
<text transform="translate(44,199.6) rotate(-90)" text-anchor="middle" font-size="19" fill="#000">CFU/mL</text>
<line x1="262.8" y1="470.1" x2="270.4" y2="470.1" stroke="#F8766D" stroke-width="1.3"/>
<circle cx="266.6" cy="470.1" r="2" fill="#F8766D" fill-opacity="0.6"/>
<text x="281.4" y="473.3" font-size="15.6" fill="#111">with postbiotics</text>
<line x1="391.2" y1="470.1" x2="398.8" y2="470.1" stroke="#00BFC4" stroke-width="1.3"/>
<circle cx="395" cy="470.1" r="2" fill="#00BFC4" fill-opacity="0.6"/>
<text x="409.6" y="473.3" font-size="15.6" fill="#111">without postbiotics</text>
<text x="0" y="19.7" font-size="28" font-weight="bold" fill="#000">a</text>
<line x1="188.8" y1="492.3" x2="188.8" y2="876.2" stroke="#ededed" stroke-width="0.9"/>
<line x1="296.4" y1="492.3" x2="296.4" y2="876.2" stroke="#ededed" stroke-width="0.9"/>
<line x1="404.1" y1="492.3" x2="404.1" y2="876.2" stroke="#ededed" stroke-width="0.9"/>
<line x1="511.7" y1="492.3" x2="511.7" y2="876.2" stroke="#ededed" stroke-width="0.9"/>
<line x1="619.3" y1="492.3" x2="619.3" y2="876.2" stroke="#ededed" stroke-width="0.9"/>
<line x1="109.6" y1="821.5" x2="677.2" y2="821.5" stroke="#ededed" stroke-width="0.9"/>
<line x1="109.6" y1="746.2" x2="677.2" y2="746.2" stroke="#ededed" stroke-width="0.9"/>
<line x1="109.6" y1="670.9" x2="677.2" y2="670.9" stroke="#ededed" stroke-width="0.9"/>
<line x1="109.6" y1="595.6" x2="677.2" y2="595.6" stroke="#ededed" stroke-width="0.9"/>
<line x1="109.6" y1="520.4" x2="677.2" y2="520.4" stroke="#ededed" stroke-width="0.9"/>
<line x1="135" y1="492.3" x2="135" y2="876.2" stroke="#e6e6e6" stroke-width="1.3"/>
<line x1="242.6" y1="492.3" x2="242.6" y2="876.2" stroke="#e6e6e6" stroke-width="1.3"/>
<line x1="350.2" y1="492.3" x2="350.2" y2="876.2" stroke="#e6e6e6" stroke-width="1.3"/>
<line x1="457.9" y1="492.3" x2="457.9" y2="876.2" stroke="#e6e6e6" stroke-width="1.3"/>
<line x1="565.5" y1="492.3" x2="565.5" y2="876.2" stroke="#e6e6e6" stroke-width="1.3"/>
<line x1="673.1" y1="492.3" x2="673.1" y2="876.2" stroke="#e6e6e6" stroke-width="1.3"/>
<line x1="109.6" y1="859.1" x2="677.2" y2="859.1" stroke="#e6e6e6" stroke-width="1.3"/>
<line x1="109.6" y1="783.8" x2="677.2" y2="783.8" stroke="#e6e6e6" stroke-width="1.3"/>
<line x1="109.6" y1="708.5" x2="677.2" y2="708.5" stroke="#e6e6e6" stroke-width="1.3"/>
<line x1="109.6" y1="633.3" x2="677.2" y2="633.3" stroke="#e6e6e6" stroke-width="1.3"/>
<line x1="109.6" y1="558" x2="677.2" y2="558" stroke="#e6e6e6" stroke-width="1.3"/>
<circle cx="135" cy="832.6" r="2.3" fill="#F8766D" fill-opacity="0.55"/>
<circle cx="156.5" cy="829.5" r="2.3" fill="#F8766D" fill-opacity="0.55"/>
<circle cx="178" cy="819.6" r="2.3" fill="#F8766D" fill-opacity="0.55"/>
<circle cx="199.6" cy="803.4" r="2.3" fill="#F8766D" fill-opacity="0.55"/>
<circle cx="221.1" cy="793.6" r="2.3" fill="#F8766D" fill-opacity="0.55"/>
<circle cx="242.6" cy="787.5" r="2.3" fill="#F8766D" fill-opacity="0.55"/>
<circle cx="264.1" cy="768.8" r="2.3" fill="#F8766D" fill-opacity="0.55"/>
<circle cx="285.7" cy="753.5" r="2.3" fill="#F8766D" fill-opacity="0.55"/>
<circle cx="307.2" cy="750.7" r="2.3" fill="#F8766D" fill-opacity="0.55"/>
<circle cx="328.7" cy="718.3" r="2.3" fill="#F8766D" fill-opacity="0.55"/>
<circle cx="350.2" cy="713.6" r="2.3" fill="#F8766D" fill-opacity="0.55"/>
<circle cx="371.8" cy="693.6" r="2.3" fill="#F8766D" fill-opacity="0.55"/>
<circle cx="393.3" cy="683.5" r="2.3" fill="#F8766D" fill-opacity="0.55"/>
<circle cx="414.8" cy="671.1" r="2.3" fill="#F8766D" fill-opacity="0.55"/>
<circle cx="436.3" cy="671" r="2.3" fill="#F8766D" fill-opacity="0.55"/>
<circle cx="457.9" cy="671" r="2.3" fill="#F8766D" fill-opacity="0.55"/>
<circle cx="479.4" cy="671" r="2.3" fill="#F8766D" fill-opacity="0.55"/>
<circle cx="522.4" cy="678.6" r="2.3" fill="#F8766D" fill-opacity="0.55"/>
<circle cx="565.5" cy="688.8" r="2.3" fill="#F8766D" fill-opacity="0.55"/>
<circle cx="608.5" cy="696.1" r="2.3" fill="#F8766D" fill-opacity="0.55"/>
<circle cx="651.6" cy="706.4" r="2.3" fill="#F8766D" fill-opacity="0.55"/>
<circle cx="135" cy="831.8" r="2.3" fill="#00BFC4" fill-opacity="0.55"/>
<circle cx="156.5" cy="822.2" r="2.3" fill="#00BFC4" fill-opacity="0.55"/>
<circle cx="178" cy="816.1" r="2.3" fill="#00BFC4" fill-opacity="0.55"/>
<circle cx="199.6" cy="802.6" r="2.3" fill="#00BFC4" fill-opacity="0.55"/>
<circle cx="221.1" cy="758.3" r="2.3" fill="#00BFC4" fill-opacity="0.55"/>
<circle cx="242.6" cy="711" r="2.3" fill="#00BFC4" fill-opacity="0.55"/>
<circle cx="264.1" cy="648.5" r="2.3" fill="#00BFC4" fill-opacity="0.55"/>
<circle cx="285.7" cy="613.5" r="2.3" fill="#00BFC4" fill-opacity="0.55"/>
<circle cx="307.2" cy="588.5" r="2.3" fill="#00BFC4" fill-opacity="0.55"/>
<circle cx="328.7" cy="553.2" r="2.3" fill="#00BFC4" fill-opacity="0.55"/>
<circle cx="350.2" cy="540.8" r="2.3" fill="#00BFC4" fill-opacity="0.55"/>
<circle cx="371.8" cy="525.5" r="2.3" fill="#00BFC4" fill-opacity="0.55"/>
<circle cx="393.3" cy="523" r="2.3" fill="#00BFC4" fill-opacity="0.55"/>
<circle cx="414.8" cy="520.8" r="2.3" fill="#00BFC4" fill-opacity="0.55"/>
<circle cx="436.3" cy="520.8" r="2.3" fill="#00BFC4" fill-opacity="0.55"/>
<circle cx="457.9" cy="520.8" r="2.3" fill="#00BFC4" fill-opacity="0.55"/>
<circle cx="479.4" cy="520.8" r="2.3" fill="#00BFC4" fill-opacity="0.55"/>
<circle cx="522.4" cy="520.8" r="2.3" fill="#00BFC4" fill-opacity="0.55"/>
<circle cx="565.5" cy="520.8" r="2.3" fill="#00BFC4" fill-opacity="0.55"/>
<circle cx="608.5" cy="520.8" r="2.3" fill="#00BFC4" fill-opacity="0.55"/>
<circle cx="651.6" cy="545.7" r="2.3" fill="#00BFC4" fill-opacity="0.55"/>
<path d="M135,807.5 L136.2,807.4 L137.5,807.2 L138.7,807.1 L140,807 L141.2,806.9 L142.5,806.7 L143.7,806.6 L145,806.4 L146.2,806.3 L147.5,806.1 L148.7,805.9 L150,805.7 L151.2,805.5 L152.5,805.3 L153.7,805.1 L155,804.9 L156.2,804.7 L157.5,804.5 L158.7,804.2 L160,804 L161.2,803.7 L162.5,803.4 L163.7,803.1 L164.9,802.8 L166.2,802.5 L167.4,802.2 L168.7,801.9 L169.9,801.5 L171.2,801.2 L172.4,800.8 L173.7,800.5 L174.9,800.1 L176.2,799.7 L177.4,799.3 L178.7,798.8 L179.9,798.4 L181.2,798 L182.4,797.5 L183.7,797 L184.9,796.6 L186.2,796.1 L187.4,795.5 L188.7,795 L189.9,794.5 L191.1,793.9 L192.4,793.4 L193.6,792.8 L194.9,792.2 L196.1,791.6 L197.4,791 L198.6,790.4 L199.9,789.7 L201.1,789.1 L202.4,788.4 L203.6,787.7 L204.9,787 L206.1,786.3 L207.4,785.6 L208.6,784.9 L209.9,784.2 L211.1,783.4 L212.4,782.6 L213.6,781.9 L214.9,781.1 L216.1,780.3 L217.4,779.5 L218.6,778.7 L219.8,777.8 L221.1,777 L222.3,776.1 L223.6,775.3 L224.8,774.4 L226.1,773.5 L227.3,772.6 L228.6,771.8 L229.8,770.8 L231.1,769.9 L232.3,769 L233.6,768.1 L234.8,767.2 L236.1,766.2 L237.3,765.3 L238.6,764.3 L239.8,763.3 L241.1,762.4 L242.3,761.4 L243.6,760.4 L244.8,759.5 L246.1,758.5 L247.3,757.5 L248.5,756.5 L249.8,755.5 L251,754.5 L252.3,753.5 L253.5,752.5 L254.8,751.5 L256,750.5 L257.3,749.4 L258.5,748.4 L259.8,747.4 L261,746.4 L262.3,745.4 L263.5,744.4 L264.8,743.4 L266,742.3 L267.3,741.3 L268.5,740.3 L269.8,739.3 L271,738.3 L272.3,737.3 L273.5,736.3 L274.8,735.3 L276,734.3 L277.2,733.3 L278.5,732.3 L279.7,731.3 L281,730.3 L282.2,729.3 L283.5,728.3 L284.7,727.4 L286,726.4 L287.2,725.4 L288.5,724.5 L289.7,723.5 L291,722.6 L292.2,721.6 L293.5,720.7 L294.7,719.7 L296,718.8 L297.2,717.9 L298.5,717 L299.7,716.1 L301,715.1 L302.2,714.2 L303.4,713.4 L304.7,712.5 L305.9,711.6 L307.2,710.7 L308.4,709.9 L309.7,709 L310.9,708.1 L312.2,707.3 L313.4,706.5 L314.7,705.6 L315.9,704.8 L317.2,704 L318.4,703.2 L319.7,702.4 L320.9,701.6 L322.2,700.8 L323.4,700 L324.7,699.3 L325.9,698.5 L327.2,697.8 L328.4,697 L329.7,696.3 L330.9,695.5 L332.1,694.8 L333.4,694.1 L334.6,693.4 L335.9,692.7 L337.1,692 L338.4,691.3 L339.6,690.6 L340.9,690 L342.1,689.3 L343.4,688.7 L344.6,688 L345.9,687.4 L347.1,686.8 L348.4,686.1 L349.6,685.5 L350.9,684.9 L352.1,684.3 L353.4,683.7 L354.6,683.1 L355.9,682.6 L357.1,682 L358.4,681.4 L359.6,680.9 L360.8,680.3 L362.1,679.8 L363.3,679.3 L364.6,678.7 L365.8,678.2 L367.1,677.7 L368.3,677.2 L369.6,676.7 L370.8,676.2 L372.1,675.7 L373.3,675.3 L374.6,674.8 L375.8,674.3 L377.1,673.9 L378.3,673.4 L379.6,673 L380.8,672.5 L382.1,672.1 L383.3,671.7 L384.6,671.3 L385.8,670.9 L387,670.4 L388.3,670 L389.5,669.6 L390.8,669.3 L392,668.9 L393.3,668.5 L394.5,668.1 L395.8,667.8 L397,667.4 L398.3,667 L399.5,666.7 L400.8,666.3 L402,666 L403.3,665.7 L404.5,665.3 L405.8,665 L407,664.7 L408.3,664.4 L409.5,664.1 L410.8,663.8 L412,663.5 L413.3,663.2 L414.5,662.9 L415.7,662.6 L417,662.3 L418.2,662 L419.5,661.8 L420.7,661.5 L422,661.2 L423.2,661 L424.5,660.7 L425.7,660.5 L427,660.2 L428.2,660 L429.5,659.7 L430.7,659.5 L432,659.3 L433.2,659 L434.5,658.8 L435.7,658.6 L437,658.4 L438.2,658.2 L439.5,658 L440.7,657.7 L442,657.5 L443.2,657.3 L444.4,657.1 L445.7,657 L446.9,656.8 L448.2,656.6 L449.4,656.4 L450.7,656.2 L451.9,656 L453.2,655.9 L454.4,655.7 L455.7,655.5 L456.9,655.3 L458.2,655.2 L459.4,655 L460.7,654.9 L461.9,654.7 L463.2,654.6 L464.4,654.4 L465.7,654.3 L466.9,654.1 L468.2,654 L469.4,653.8 L470.6,653.7 L471.9,653.6 L473.1,653.4 L474.4,653.3 L475.6,653.2 L476.9,653 L478.1,652.9 L479.4,652.8" fill="none" stroke="#c8716a" stroke-width="1.0" stroke-dasharray="3.2 2.6"/>
<path d="M135,858.4 L136.2,858.2 L137.5,858.1 L138.7,857.9 L140,857.8 L141.2,857.6 L142.5,857.5 L143.7,857.3 L145,857.1 L146.2,856.9 L147.5,856.7 L148.7,856.5 L150,856.3 L151.2,856.1 L152.5,855.9 L153.7,855.6 L155,855.4 L156.2,855.1 L157.5,854.9 L158.7,854.6 L160,854.3 L161.2,854 L162.5,853.7 L163.7,853.4 L164.9,853.1 L166.2,852.7 L167.4,852.4 L168.7,852 L169.9,851.7 L171.2,851.3 L172.4,850.9 L173.7,850.5 L174.9,850.1 L176.2,849.6 L177.4,849.2 L178.7,848.7 L179.9,848.3 L181.2,847.8 L182.4,847.3 L183.7,846.8 L184.9,846.3 L186.2,845.7 L187.4,845.2 L188.7,844.6 L189.9,844.1 L191.1,843.5 L192.4,842.9 L193.6,842.3 L194.9,841.6 L196.1,841 L197.4,840.3 L198.6,839.7 L199.9,839 L201.1,838.3 L202.4,837.6 L203.6,836.9 L204.9,836.1 L206.1,835.4 L207.4,834.6 L208.6,833.8 L209.9,833.1 L211.1,832.3 L212.4,831.4 L213.6,830.6 L214.9,829.8 L216.1,828.9 L217.4,828.1 L218.6,827.2 L219.8,826.3 L221.1,825.4 L222.3,824.5 L223.6,823.6 L224.8,822.7 L226.1,821.7 L227.3,820.8 L228.6,819.8 L229.8,818.9 L231.1,817.9 L232.3,816.9 L233.6,815.9 L234.8,814.9 L236.1,813.9 L237.3,812.9 L238.6,811.9 L239.8,810.9 L241.1,809.9 L242.3,808.8 L243.6,807.8 L244.8,806.8 L246.1,805.7 L247.3,804.7 L248.5,803.6 L249.8,802.5 L251,801.5 L252.3,800.4 L253.5,799.3 L254.8,798.3 L256,797.2 L257.3,796.1 L258.5,795.1 L259.8,794 L261,792.9 L262.3,791.8 L263.5,790.8 L264.8,789.7 L266,788.6 L267.3,787.5 L268.5,786.5 L269.8,785.4 L271,784.3 L272.3,783.3 L273.5,782.2 L274.8,781.2 L276,780.1 L277.2,779.1 L278.5,778 L279.7,777 L281,776 L282.2,774.9 L283.5,773.9 L284.7,772.9 L286,771.9 L287.2,770.9 L288.5,769.9 L289.7,768.9 L291,767.9 L292.2,766.9 L293.5,765.9 L294.7,764.9 L296,764 L297.2,763 L298.5,762.1 L299.7,761.1 L301,760.2 L302.2,759.3 L303.4,758.4 L304.7,757.5 L305.9,756.6 L307.2,755.7 L308.4,754.8 L309.7,753.9 L310.9,753 L312.2,752.2 L313.4,751.3 L314.7,750.5 L315.9,749.7 L317.2,748.8 L318.4,748 L319.7,747.2 L320.9,746.4 L322.2,745.6 L323.4,744.9 L324.7,744.1 L325.9,743.3 L327.2,742.6 L328.4,741.8 L329.7,741.1 L330.9,740.4 L332.1,739.7 L333.4,739 L334.6,738.3 L335.9,737.6 L337.1,736.9 L338.4,736.2 L339.6,735.6 L340.9,734.9 L342.1,734.3 L343.4,733.6 L344.6,733 L345.9,732.4 L347.1,731.8 L348.4,731.2 L349.6,730.6 L350.9,730 L352.1,729.4 L353.4,728.8 L354.6,728.3 L355.9,727.7 L357.1,727.2 L358.4,726.7 L359.6,726.1 L360.8,725.6 L362.1,725.1 L363.3,724.6 L364.6,724.1 L365.8,723.6 L367.1,723.1 L368.3,722.7 L369.6,722.2 L370.8,721.7 L372.1,721.3 L373.3,720.8 L374.6,720.4 L375.8,720 L377.1,719.5 L378.3,719.1 L379.6,718.7 L380.8,718.3 L382.1,717.9 L383.3,717.5 L384.6,717.1 L385.8,716.8 L387,716.4 L388.3,716 L389.5,715.7 L390.8,715.3 L392,715 L393.3,714.6 L394.5,714.3 L395.8,714 L397,713.6 L398.3,713.3 L399.5,713 L400.8,712.7 L402,712.4 L403.3,712.1 L404.5,711.8 L405.8,711.5 L407,711.2 L408.3,711 L409.5,710.7 L410.8,710.4 L412,710.2 L413.3,709.9 L414.5,709.6 L415.7,709.4 L417,709.2 L418.2,708.9 L419.5,708.7 L420.7,708.4 L422,708.2 L423.2,708 L424.5,707.8 L425.7,707.6 L427,707.4 L428.2,707.1 L429.5,706.9 L430.7,706.7 L432,706.5 L433.2,706.4 L434.5,706.2 L435.7,706 L437,705.8 L438.2,705.6 L439.5,705.4 L440.7,705.3 L442,705.1 L443.2,704.9 L444.4,704.8 L445.7,704.6 L446.9,704.4 L448.2,704.3 L449.4,704.1 L450.7,704 L451.9,703.8 L453.2,703.7 L454.4,703.6 L455.7,703.4 L456.9,703.3 L458.2,703.2 L459.4,703 L460.7,702.9 L461.9,702.8 L463.2,702.7 L464.4,702.5 L465.7,702.4 L466.9,702.3 L468.2,702.2 L469.4,702.1 L470.6,702 L471.9,701.9 L473.1,701.7 L474.4,701.6 L475.6,701.5 L476.9,701.4 L478.1,701.3 L479.4,701.2" fill="none" stroke="#c8716a" stroke-width="1.0" stroke-dasharray="3.2 2.6"/>
<path d="M135,820.7 L136.2,820.7 L137.5,820.7 L138.7,820.6 L140,820.6 L141.2,820.6 L142.5,820.6 L143.7,820.6 L145,820.6 L146.2,820.5 L147.5,820.5 L148.7,820.5 L150,820.4 L151.2,820.4 L152.5,820.3 L153.7,820.2 L155,820.1 L156.2,820 L157.5,819.9 L158.7,819.8 L160,819.6 L161.2,819.4 L162.5,819.2 L163.7,819 L165,818.7 L166.2,818.4 L167.5,818.1 L168.7,817.7 L170,817.3 L171.2,816.9 L172.5,816.4 L173.7,815.8 L175,815.3 L176.2,814.6 L177.5,813.9 L178.7,813.1 L180,812.3 L181.2,811.4 L182.5,810.5 L183.7,809.5 L185,808.4 L186.2,807.2 L187.5,806 L188.7,804.7 L190,803.3 L191.2,801.9 L192.5,800.3 L193.7,798.7 L195,797 L196.2,795.3 L197.5,793.4 L198.7,791.5 L200,789.5 L201.2,787.5 L202.5,785.3 L203.7,783.1 L205,780.9 L206.2,778.5 L207.5,776.1 L208.7,773.6 L210,771.1 L211.2,768.5 L212.5,765.8 L213.7,763.1 L215,760.3 L216.2,757.5 L217.5,754.6 L218.7,751.7 L220,748.8 L221.2,745.8 L222.5,742.7 L223.7,739.7 L225,736.6 L226.2,733.4 L227.5,730.3 L228.7,727.1 L230,723.9 L231.2,720.7 L232.5,717.5 L233.7,714.3 L235,711.1 L236.2,707.8 L237.5,704.6 L238.7,701.4 L240,698.1 L241.2,694.9 L242.4,691.7 L243.7,688.5 L244.9,685.3 L246.2,682.1 L247.4,679 L248.7,675.8 L249.9,672.7 L251.2,669.6 L252.4,666.5 L253.7,663.5 L254.9,660.4 L256.2,657.5 L257.4,654.5 L258.7,651.6 L259.9,648.7 L261.2,645.8 L262.4,643 L263.7,640.2 L264.9,637.4 L266.2,634.7 L267.4,632 L268.7,629.3 L269.9,626.7 L271.2,624.1 L272.4,621.6 L273.7,619.1 L274.9,616.6 L276.2,614.2 L277.4,611.8 L278.7,609.5 L279.9,607.2 L281.2,604.9 L282.4,602.7 L283.7,600.5 L284.9,598.4 L286.2,596.3 L287.4,594.3 L288.7,592.2 L289.9,590.2 L291.2,588.3 L292.4,586.4 L293.7,584.5 L294.9,582.7 L296.2,580.9 L297.4,579.2 L298.7,577.4 L299.9,575.8 L301.2,574.1 L302.4,572.5 L303.7,570.9 L304.9,569.4 L306.2,567.9 L307.4,566.4 L308.7,565 L309.9,563.6 L311.2,562.2 L312.4,560.8 L313.7,559.5 L314.9,558.2 L316.2,557 L317.4,555.7 L318.7,554.5 L319.9,553.4 L321.2,552.2 L322.4,551.1 L323.7,550 L324.9,549 L326.2,547.9 L327.4,546.9 L328.7,545.9 L329.9,545 L331.2,544 L332.4,543.1 L333.7,542.2 L334.9,541.3 L336.2,540.5 L337.4,539.7 L338.7,538.9 L339.9,538.1 L341.2,537.3 L342.4,536.6 L343.7,535.8 L344.9,535.1 L346.2,534.4 L347.4,533.7 L348.6,533.1 L349.9,532.4 L351.1,531.8 L352.4,531.2 L353.6,530.6 L354.9,530 L356.1,529.5 L357.4,528.9 L358.6,528.4 L359.9,527.9 L361.1,527.4 L362.4,526.9 L363.6,526.4 L364.9,525.9 L366.1,525.5 L367.4,525 L368.6,524.6 L369.9,524.2 L371.1,523.8 L372.4,523.4 L373.6,523 L374.9,522.6 L376.1,522.2 L377.4,521.9 L378.6,521.5 L379.9,521.2 L381.1,520.9 L382.4,520.5 L383.6,520.2 L384.9,519.9 L386.1,519.6 L387.4,519.4 L388.6,519.1 L389.9,518.8 L391.1,518.5 L392.4,518.3 L393.6,518 L394.9,517.8 L396.1,517.5 L397.4,517.3 L398.6,517.1 L399.9,516.9 L401.1,516.7 L402.4,516.5 L403.6,516.2 L404.9,516.1 L406.1,515.9 L407.4,515.7 L408.6,515.5 L409.9,515.3 L411.1,515.2 L412.4,515 L413.6,514.8 L414.9,514.7 L416.1,514.5 L417.4,514.4 L418.6,514.2 L419.9,514.1 L421.1,513.9 L422.4,513.8 L423.6,513.7 L424.9,513.6 L426.1,513.4 L427.4,513.3 L428.6,513.2 L429.9,513.1 L431.1,513 L432.4,512.9 L433.6,512.8 L434.9,512.7 L436.1,512.6 L437.4,512.5 L438.6,512.4 L439.9,512.3 L441.1,512.2 L442.4,512.1 L443.6,512 L444.9,512 L446.1,511.9 L447.4,511.8 L448.6,511.7 L449.9,511.7 L451.1,511.6 L452.4,511.5 L453.6,511.5 L454.9,511.4 L456.1,511.3 L457.3,511.3 L458.6,511.2 L459.8,511.1 L461.1,511.1 L462.3,511 L463.6,511 L464.8,510.9 L466.1,510.9 L467.3,510.8 L468.6,510.8 L469.8,510.7 L471.1,510.7 L472.3,510.7 L473.6,510.6 L474.8,510.6 L476.1,510.5 L477.3,510.5 L478.6,510.5 L479.8,510.4 L481.1,510.4 L482.3,510.3 L483.6,510.3 L484.8,510.3 L486.1,510.3 L487.3,510.2 L488.6,510.2 L489.8,510.2 L491.1,510.1 L492.3,510.1 L493.6,510.1 L494.8,510.1 L496.1,510 L497.3,510 L498.6,510 L499.8,510 L501.1,509.9 L502.3,509.9 L503.6,509.9 L504.8,509.9 L506.1,509.8 L507.3,509.8 L508.6,509.8 L509.8,509.8 L511.1,509.8 L512.3,509.8 L513.6,509.7 L514.8,509.7 L516.1,509.7 L517.3,509.7 L518.6,509.7 L519.8,509.7 L521.1,509.6 L522.3,509.6 L523.6,509.6 L524.8,509.6 L526.1,509.6 L527.3,509.6 L528.6,509.6 L529.8,509.6 L531.1,509.5 L532.3,509.5 L533.6,509.5 L534.8,509.5 L536.1,509.5 L537.3,509.5 L538.6,509.5 L539.8,509.5 L541.1,509.5 L542.3,509.4 L543.6,509.4 L544.8,509.4 L546.1,509.4 L547.3,509.4 L548.6,509.4 L549.8,509.4 L551.1,509.4 L552.3,509.4 L553.6,509.4 L554.8,509.4 L556.1,509.4 L557.3,509.4 L558.6,509.4 L559.8,509.3 L561.1,509.3 L562.3,509.3 L563.5,509.3 L564.8,509.3 L566,509.3 L567.3,509.3 L568.5,509.3 L569.8,509.3 L571,509.3 L572.3,509.3 L573.5,509.3 L574.8,509.3 L576,509.3 L577.3,509.3 L578.5,509.3 L579.8,509.3 L581,509.3 L582.3,509.3 L583.5,509.3 L584.8,509.3 L586,509.3 L587.3,509.2 L588.5,509.2 L589.8,509.2 L591,509.2 L592.3,509.2 L593.5,509.2 L594.8,509.2 L596,509.2 L597.3,509.2 L598.5,509.2 L599.8,509.2 L601,509.2 L602.3,509.2 L603.5,509.2 L604.8,509.2 L606,509.2 L607.3,509.2 L608.5,509.2" fill="none" stroke="#35a2a6" stroke-width="1.0" stroke-dasharray="3.2 2.6"/>
<path d="M135,844.8 L136.2,844.8 L137.5,844.8 L138.7,844.8 L140,844.7 L141.2,844.7 L142.5,844.6 L143.7,844.6 L145,844.5 L146.2,844.5 L147.5,844.4 L148.7,844.3 L150,844.2 L151.2,844.1 L152.5,844 L153.7,843.9 L155,843.8 L156.2,843.6 L157.5,843.5 L158.7,843.3 L160,843.1 L161.2,842.9 L162.5,842.6 L163.7,842.4 L165,842.1 L166.2,841.8 L167.5,841.4 L168.7,841 L170,840.6 L171.2,840.2 L172.5,839.7 L173.7,839.2 L175,838.6 L176.2,838 L177.5,837.4 L178.7,836.7 L180,835.9 L181.2,835.2 L182.5,834.3 L183.7,833.4 L185,832.5 L186.2,831.4 L187.5,830.4 L188.7,829.2 L190,828 L191.2,826.8 L192.5,825.5 L193.7,824.1 L195,822.6 L196.2,821.1 L197.5,819.5 L198.7,817.8 L200,816.1 L201.2,814.2 L202.5,812.4 L203.7,810.4 L205,808.4 L206.2,806.3 L207.5,804.1 L208.7,801.9 L210,799.6 L211.2,797.3 L212.5,794.8 L213.7,792.3 L215,789.8 L216.2,787.2 L217.5,784.5 L218.7,781.8 L220,779 L221.2,776.2 L222.5,773.3 L223.7,770.4 L225,767.5 L226.2,764.5 L227.5,761.4 L228.7,758.4 L230,755.3 L231.2,752.1 L232.5,749 L233.7,745.8 L235,742.6 L236.2,739.4 L237.5,736.2 L238.7,732.9 L240,729.7 L241.2,726.4 L242.4,723.2 L243.7,719.9 L244.9,716.6 L246.2,713.4 L247.4,710.1 L248.7,706.9 L249.9,703.7 L251.2,700.5 L252.4,697.3 L253.7,694.1 L254.9,690.9 L256.2,687.8 L257.4,684.7 L258.7,681.6 L259.9,678.6 L261.2,675.5 L262.4,672.5 L263.7,669.6 L264.9,666.6 L266.2,663.7 L267.4,660.9 L268.7,658 L269.9,655.3 L271.2,652.5 L272.4,649.8 L273.7,647.1 L274.9,644.5 L276.2,641.9 L277.4,639.4 L278.7,636.8 L279.9,634.4 L281.2,632 L282.4,629.6 L283.7,627.2 L284.9,624.9 L286.2,622.7 L287.4,620.5 L288.7,618.3 L289.9,616.2 L291.2,614.1 L292.4,612 L293.7,610 L294.9,608.1 L296.2,606.1 L297.4,604.3 L298.7,602.4 L299.9,600.6 L301.2,598.8 L302.4,597.1 L303.7,595.4 L304.9,593.8 L306.2,592.2 L307.4,590.6 L308.7,589.1 L309.9,587.6 L311.2,586.1 L312.4,584.7 L313.7,583.3 L314.9,581.9 L316.2,580.6 L317.4,579.3 L318.7,578 L319.9,576.8 L321.2,575.6 L322.4,574.4 L323.7,573.3 L324.9,572.2 L326.2,571.1 L327.4,570 L328.7,569 L329.9,568 L331.2,567 L332.4,566 L333.7,565.1 L334.9,564.2 L336.2,563.3 L337.4,562.5 L338.7,561.6 L339.9,560.8 L341.2,560 L342.4,559.3 L343.7,558.5 L344.9,557.8 L346.2,557.1 L347.4,556.4 L348.6,555.7 L349.9,555.1 L351.1,554.5 L352.4,553.8 L353.6,553.2 L354.9,552.7 L356.1,552.1 L357.4,551.5 L358.6,551 L359.9,550.5 L361.1,550 L362.4,549.5 L363.6,549 L364.9,548.5 L366.1,548.1 L367.4,547.7 L368.6,547.2 L369.9,546.8 L371.1,546.4 L372.4,546 L373.6,545.7 L374.9,545.3 L376.1,544.9 L377.4,544.6 L378.6,544.2 L379.9,543.9 L381.1,543.6 L382.4,543.3 L383.6,543 L384.9,542.7 L386.1,542.4 L387.4,542.1 L388.6,541.9 L389.9,541.6 L391.1,541.4 L392.4,541.1 L393.6,540.9 L394.9,540.6 L396.1,540.4 L397.4,540.2 L398.6,540 L399.9,539.8 L401.1,539.6 L402.4,539.4 L403.6,539.2 L404.9,539 L406.1,538.9 L407.4,538.7 L408.6,538.5 L409.9,538.4 L411.1,538.2 L412.4,538 L413.6,537.9 L414.9,537.8 L416.1,537.6 L417.4,537.5 L418.6,537.3 L419.9,537.2 L421.1,537.1 L422.4,537 L423.6,536.9 L424.9,536.7 L426.1,536.6 L427.4,536.5 L428.6,536.4 L429.9,536.3 L431.1,536.2 L432.4,536.1 L433.6,536 L434.9,536 L436.1,535.9 L437.4,535.8 L438.6,535.7 L439.9,535.6 L441.1,535.6 L442.4,535.5 L443.6,535.4 L444.9,535.3 L446.1,535.3 L447.4,535.2 L448.6,535.1 L449.9,535.1 L451.1,535 L452.4,535 L453.6,534.9 L454.9,534.9 L456.1,534.8 L457.3,534.7 L458.6,534.7 L459.8,534.6 L461.1,534.6 L462.3,534.6 L463.6,534.5 L464.8,534.5 L466.1,534.4 L467.3,534.4 L468.6,534.3 L469.8,534.3 L471.1,534.3 L472.3,534.2 L473.6,534.2 L474.8,534.2 L476.1,534.1 L477.3,534.1 L478.6,534.1 L479.8,534 L481.1,534 L482.3,534 L483.6,534 L484.8,533.9 L486.1,533.9 L487.3,533.9 L488.6,533.9 L489.8,533.8 L491.1,533.8 L492.3,533.8 L493.6,533.8 L494.8,533.7 L496.1,533.7 L497.3,533.7 L498.6,533.7 L499.8,533.7 L501.1,533.7 L502.3,533.6 L503.6,533.6 L504.8,533.6 L506.1,533.6 L507.3,533.6 L508.6,533.6 L509.8,533.5 L511.1,533.5 L512.3,533.5 L513.6,533.5 L514.8,533.5 L516.1,533.5 L517.3,533.5 L518.6,533.5 L519.8,533.4 L521.1,533.4 L522.3,533.4 L523.6,533.4 L524.8,533.4 L526.1,533.4 L527.3,533.4 L528.6,533.4 L529.8,533.4 L531.1,533.4 L532.3,533.3 L533.6,533.3 L534.8,533.3 L536.1,533.3 L537.3,533.3 L538.6,533.3 L539.8,533.3 L541.1,533.3 L542.3,533.3 L543.6,533.3 L544.8,533.3 L546.1,533.3 L547.3,533.3 L548.6,533.3 L549.8,533.2 L551.1,533.2 L552.3,533.2 L553.6,533.2 L554.8,533.2 L556.1,533.2 L557.3,533.2 L558.6,533.2 L559.8,533.2 L561.1,533.2 L562.3,533.2 L563.5,533.2 L564.8,533.2 L566,533.2 L567.3,533.2 L568.5,533.2 L569.8,533.2 L571,533.2 L572.3,533.2 L573.5,533.2 L574.8,533.2 L576,533.2 L577.3,533.2 L578.5,533.2 L579.8,533.2 L581,533.2 L582.3,533.2 L583.5,533.2 L584.8,533.1 L586,533.1 L587.3,533.1 L588.5,533.1 L589.8,533.1 L591,533.1 L592.3,533.1 L593.5,533.1 L594.8,533.1 L596,533.1 L597.3,533.1 L598.5,533.1 L599.8,533.1 L601,533.1 L602.3,533.1 L603.5,533.1 L604.8,533.1 L606,533.1 L607.3,533.1 L608.5,533.1" fill="none" stroke="#35a2a6" stroke-width="1.0" stroke-dasharray="3.2 2.6"/>
<path d="M135,832.3 L136.2,832.2 L137.5,832.1 L138.7,832 L140,832 L141.2,831.9 L142.5,831.8 L143.7,831.6 L145,831.5 L146.2,831.4 L147.5,831.3 L148.7,831.1 L150,831 L151.2,830.8 L152.5,830.7 L153.7,830.5 L155,830.3 L156.2,830.1 L157.5,829.9 L158.7,829.7 L160,829.5 L161.2,829.2 L162.5,829 L163.7,828.7 L164.9,828.5 L166.2,828.2 L167.4,827.9 L168.7,827.6 L169.9,827.3 L171.2,826.9 L172.4,826.6 L173.7,826.2 L174.9,825.9 L176.2,825.5 L177.4,825.1 L178.7,824.7 L179.9,824.2 L181.2,823.8 L182.4,823.3 L183.7,822.8 L184.9,822.4 L186.2,821.8 L187.4,821.3 L188.7,820.8 L189.9,820.2 L191.1,819.7 L192.4,819.1 L193.6,818.5 L194.9,817.9 L196.1,817.2 L197.4,816.6 L198.6,815.9 L199.9,815.3 L201.1,814.6 L202.4,813.9 L203.6,813.1 L204.9,812.4 L206.1,811.7 L207.4,810.9 L208.6,810.1 L209.9,809.3 L211.1,808.5 L212.4,807.7 L213.6,806.9 L214.9,806 L216.1,805.2 L217.4,804.3 L218.6,803.4 L219.8,802.5 L221.1,801.6 L222.3,800.7 L223.6,799.8 L224.8,798.9 L226.1,797.9 L227.3,797 L228.6,796 L229.8,795 L231.1,794.1 L232.3,793.1 L233.6,792.1 L234.8,791.1 L236.1,790.1 L237.3,789 L238.6,788 L239.8,787 L241.1,785.9 L242.3,784.9 L243.6,783.9 L244.8,782.8 L246.1,781.8 L247.3,780.7 L248.5,779.6 L249.8,778.6 L251,777.5 L252.3,776.5 L253.5,775.4 L254.8,774.3 L256,773.2 L257.3,772.2 L258.5,771.1 L259.8,770 L261,769 L262.3,767.9 L263.5,766.8 L264.8,765.8 L266,764.7 L267.3,763.6 L268.5,762.6 L269.8,761.5 L271,760.5 L272.3,759.4 L273.5,758.4 L274.8,757.3 L276,756.3 L277.2,755.3 L278.5,754.2 L279.7,753.2 L281,752.2 L282.2,751.2 L283.5,750.2 L284.7,749.2 L286,748.2 L287.2,747.2 L288.5,746.2 L289.7,745.2 L291,744.2 L292.2,743.3 L293.5,742.3 L294.7,741.3 L296,740.4 L297.2,739.5 L298.5,738.5 L299.7,737.6 L301,736.7 L302.2,735.8 L303.4,734.9 L304.7,734 L305.9,733.1 L307.2,732.2 L308.4,731.4 L309.7,730.5 L310.9,729.7 L312.2,728.8 L313.4,728 L314.7,727.2 L315.9,726.3 L317.2,725.5 L318.4,724.7 L319.7,723.9 L320.9,723.2 L322.2,722.4 L323.4,721.6 L324.7,720.9 L325.9,720.1 L327.2,719.4 L328.4,718.6 L329.7,717.9 L330.9,717.2 L332.1,716.5 L333.4,715.8 L334.6,715.1 L335.9,714.4 L337.1,713.8 L338.4,713.1 L339.6,712.4 L340.9,711.8 L342.1,711.1 L343.4,710.5 L344.6,709.9 L345.9,709.3 L347.1,708.7 L348.4,708.1 L349.6,707.5 L350.9,706.9 L352.1,706.3 L353.4,705.8 L354.6,705.2 L355.9,704.6 L357.1,704.1 L358.4,703.6 L359.6,703 L360.8,702.5 L362.1,702 L363.3,701.5 L364.6,701 L365.8,700.5 L367.1,700 L368.3,699.5 L369.6,699.1 L370.8,698.6 L372.1,698.2 L373.3,697.7 L374.6,697.3 L375.8,696.8 L377.1,696.4 L378.3,696 L379.6,695.5 L380.8,695.1 L382.1,694.7 L383.3,694.3 L384.6,693.9 L385.8,693.6 L387,693.2 L388.3,692.8 L389.5,692.4 L390.8,692.1 L392,691.7 L393.3,691.4 L394.5,691 L395.8,690.7 L397,690.3 L398.3,690 L399.5,689.7 L400.8,689.4 L402,689 L403.3,688.7 L404.5,688.4 L405.8,688.1 L407,687.8 L408.3,687.5 L409.5,687.3 L410.8,687 L412,686.7 L413.3,686.4 L414.5,686.2 L415.7,685.9 L417,685.6 L418.2,685.4 L419.5,685.1 L420.7,684.9 L422,684.7 L423.2,684.4 L424.5,684.2 L425.7,684 L427,683.7 L428.2,683.5 L429.5,683.3 L430.7,683.1 L432,682.9 L433.2,682.7 L434.5,682.5 L435.7,682.3 L437,682.1 L438.2,681.9 L439.5,681.7 L440.7,681.5 L442,681.3 L443.2,681.1 L444.4,680.9 L445.7,680.8 L446.9,680.6 L448.2,680.4 L449.4,680.3 L450.7,680.1 L451.9,679.9 L453.2,679.8 L454.4,679.6 L455.7,679.5 L456.9,679.3 L458.2,679.2 L459.4,679 L460.7,678.9 L461.9,678.8 L463.2,678.6 L464.4,678.5 L465.7,678.3 L466.9,678.2 L468.2,678.1 L469.4,678 L470.6,677.8 L471.9,677.7 L473.1,677.6 L474.4,677.5 L475.6,677.4 L476.9,677.3 L478.1,677.1 L479.4,677" fill="none" stroke="#d9675e" stroke-width="1.25"/>
<path d="M135,832.4 L136.2,832.4 L137.5,832.4 L138.7,832.4 L140,832.4 L141.2,832.3 L142.5,832.3 L143.7,832.3 L145,832.3 L146.2,832.2 L147.5,832.2 L148.7,832.1 L150,832.1 L151.2,832 L152.5,831.9 L153.7,831.8 L155,831.7 L156.2,831.6 L157.5,831.5 L158.7,831.3 L160,831.2 L161.2,831 L162.5,830.8 L163.7,830.5 L165,830.3 L166.2,830 L167.5,829.7 L168.7,829.3 L170,828.9 L171.2,828.5 L172.5,828 L173.7,827.5 L175,827 L176.2,826.3 L177.5,825.7 L178.7,825 L180,824.2 L181.2,823.4 L182.5,822.5 L183.7,821.6 L185,820.6 L186.2,819.5 L187.5,818.3 L188.7,817.1 L190,815.9 L191.2,814.5 L192.5,813.1 L193.7,811.6 L195,810 L196.2,808.4 L197.5,806.7 L198.7,804.9 L200,803 L201.2,801.1 L202.5,799.1 L203.7,797 L205,794.8 L206.2,792.6 L207.5,790.3 L208.7,787.9 L210,785.5 L211.2,783 L212.5,780.5 L213.7,777.8 L215,775.2 L216.2,772.4 L217.5,769.7 L218.7,766.8 L220,763.9 L221.2,761 L222.5,758 L223.7,755 L225,752 L226.2,748.9 L227.5,745.8 L228.7,742.7 L230,739.5 L231.2,736.3 L232.5,733.1 L233.7,729.9 L235,726.7 L236.2,723.4 L237.5,720.2 L238.7,716.9 L240,713.7 L241.2,710.4 L242.4,707.2 L243.7,704 L244.9,700.7 L246.2,697.5 L247.4,694.3 L248.7,691.1 L249.9,687.9 L251.2,684.7 L252.4,681.6 L253.7,678.5 L254.9,675.4 L256.2,672.3 L257.4,669.3 L258.7,666.3 L259.9,663.3 L261.2,660.4 L262.4,657.5 L263.7,654.6 L264.9,651.7 L266.2,648.9 L267.4,646.1 L268.7,643.4 L269.9,640.7 L271.2,638.1 L272.4,635.4 L273.7,632.9 L274.9,630.3 L276.2,627.8 L277.4,625.4 L278.7,622.9 L279.9,620.6 L281.2,618.2 L282.4,615.9 L283.7,613.7 L284.9,611.5 L286.2,609.3 L287.4,607.1 L288.7,605.1 L289.9,603 L291.2,601 L292.4,599 L293.7,597.1 L294.9,595.2 L296.2,593.3 L297.4,591.5 L298.7,589.8 L299.9,588 L301.2,586.3 L302.4,584.6 L303.7,583 L304.9,581.4 L306.2,579.9 L307.4,578.4 L308.7,576.9 L309.9,575.4 L311.2,574 L312.4,572.6 L313.7,571.2 L314.9,569.9 L316.2,568.6 L317.4,567.4 L318.7,566.1 L319.9,564.9 L321.2,563.8 L322.4,562.6 L323.7,561.5 L324.9,560.4 L326.2,559.3 L327.4,558.3 L328.7,557.3 L329.9,556.3 L331.2,555.4 L332.4,554.4 L333.7,553.5 L334.9,552.6 L336.2,551.8 L337.4,550.9 L338.7,550.1 L339.9,549.3 L341.2,548.5 L342.4,547.7 L343.7,547 L344.9,546.3 L346.2,545.6 L347.4,544.9 L348.6,544.2 L349.9,543.6 L351.1,542.9 L352.4,542.3 L353.6,541.7 L354.9,541.1 L356.1,540.6 L357.4,540 L358.6,539.5 L359.9,539 L361.1,538.5 L362.4,538 L363.6,537.5 L364.9,537 L366.1,536.6 L367.4,536.1 L368.6,535.7 L369.9,535.3 L371.1,534.8 L372.4,534.5 L373.6,534.1 L374.9,533.7 L376.1,533.3 L377.4,533 L378.6,532.6 L379.9,532.3 L381.1,532 L382.4,531.6 L383.6,531.3 L384.9,531 L386.1,530.7 L387.4,530.5 L388.6,530.2 L389.9,529.9 L391.1,529.6 L392.4,529.4 L393.6,529.1 L394.9,528.9 L396.1,528.7 L397.4,528.4 L398.6,528.2 L399.9,528 L401.1,527.8 L402.4,527.6 L403.6,527.4 L404.9,527.2 L406.1,527 L407.4,526.8 L408.6,526.7 L409.9,526.5 L411.1,526.3 L412.4,526.2 L413.6,526 L414.9,525.9 L416.1,525.7 L417.4,525.6 L418.6,525.4 L419.9,525.3 L421.1,525.2 L422.4,525 L423.6,524.9 L424.9,524.8 L426.1,524.7 L427.4,524.6 L428.6,524.4 L429.9,524.3 L431.1,524.2 L432.4,524.1 L433.6,524 L434.9,523.9 L436.1,523.8 L437.4,523.8 L438.6,523.7 L439.9,523.6 L441.1,523.5 L442.4,523.4 L443.6,523.3 L444.9,523.3 L446.1,523.2 L447.4,523.1 L448.6,523 L449.9,523 L451.1,522.9 L452.4,522.8 L453.6,522.8 L454.9,522.7 L456.1,522.7 L457.3,522.6 L458.6,522.5 L459.8,522.5 L461.1,522.4 L462.3,522.4 L463.6,522.3 L464.8,522.3 L466.1,522.2 L467.3,522.2 L468.6,522.2 L469.8,522.1 L471.1,522.1 L472.3,522 L473.6,522 L474.8,522 L476.1,521.9 L477.3,521.9 L478.6,521.8 L479.8,521.8 L481.1,521.8 L482.3,521.7 L483.6,521.7 L484.8,521.7 L486.1,521.7 L487.3,521.6 L488.6,521.6 L489.8,521.6 L491.1,521.5 L492.3,521.5 L493.6,521.5 L494.8,521.5 L496.1,521.4 L497.3,521.4 L498.6,521.4 L499.8,521.4 L501.1,521.4 L502.3,521.3 L503.6,521.3 L504.8,521.3 L506.1,521.3 L507.3,521.3 L508.6,521.2 L509.8,521.2 L511.1,521.2 L512.3,521.2 L513.6,521.2 L514.8,521.2 L516.1,521.2 L517.3,521.1 L518.6,521.1 L519.8,521.1 L521.1,521.1 L522.3,521.1 L523.6,521.1 L524.8,521.1 L526.1,521.1 L527.3,521 L528.6,521 L529.8,521 L531.1,521 L532.3,521 L533.6,521 L534.8,521 L536.1,521 L537.3,521 L538.6,521 L539.8,520.9 L541.1,520.9 L542.3,520.9 L543.6,520.9 L544.8,520.9 L546.1,520.9 L547.3,520.9 L548.6,520.9 L549.8,520.9 L551.1,520.9 L552.3,520.9 L553.6,520.9 L554.8,520.9 L556.1,520.9 L557.3,520.8 L558.6,520.8 L559.8,520.8 L561.1,520.8 L562.3,520.8 L563.5,520.8 L564.8,520.8 L566,520.8 L567.3,520.8 L568.5,520.8 L569.8,520.8 L571,520.8 L572.3,520.8 L573.5,520.8 L574.8,520.8 L576,520.8 L577.3,520.8 L578.5,520.8 L579.8,520.8 L581,520.8 L582.3,520.8 L583.5,520.8 L584.8,520.8 L586,520.8 L587.3,520.8 L588.5,520.7 L589.8,520.7 L591,520.7 L592.3,520.7 L593.5,520.7 L594.8,520.7 L596,520.7 L597.3,520.7 L598.5,520.7 L599.8,520.7 L601,520.7 L602.3,520.7 L603.5,520.7 L604.8,520.7 L606,520.7 L607.3,520.7 L608.5,520.7" fill="none" stroke="#1ea8ad" stroke-width="1.25"/>
<rect x="393.5" y="727.5" width="258.5" height="131.5" fill="#fff"/>
<line x1="445.2" y1="731.1" x2="445.2" y2="837.2" stroke="#f0f0f0" stroke-width="0.6"/>
<line x1="483" y1="731.1" x2="483" y2="837.2" stroke="#f0f0f0" stroke-width="0.6"/>
<line x1="520.7" y1="731.1" x2="520.7" y2="837.2" stroke="#f0f0f0" stroke-width="0.6"/>
<line x1="558.5" y1="731.1" x2="558.5" y2="837.2" stroke="#f0f0f0" stroke-width="0.6"/>
<line x1="596.2" y1="731.1" x2="596.2" y2="837.2" stroke="#f0f0f0" stroke-width="0.6"/>
<line x1="634" y1="731.1" x2="634" y2="837.2" stroke="#f0f0f0" stroke-width="0.6"/>
<line x1="431.5" y1="835.3" x2="647.5" y2="835.3" stroke="#f0f0f0" stroke-width="0.6"/>
<line x1="431.5" y1="808.5" x2="647.5" y2="808.5" stroke="#f0f0f0" stroke-width="0.6"/>
<line x1="431.5" y1="781.8" x2="647.5" y2="781.8" stroke="#f0f0f0" stroke-width="0.6"/>
<line x1="431.5" y1="755" x2="647.5" y2="755" stroke="#f0f0f0" stroke-width="0.6"/>
<line x1="464.1" y1="731.1" x2="464.1" y2="837.2" stroke="#e8e8e8" stroke-width="0.8"/>
<line x1="501.9" y1="731.1" x2="501.9" y2="837.2" stroke="#e8e8e8" stroke-width="0.8"/>
<line x1="539.6" y1="731.1" x2="539.6" y2="837.2" stroke="#e8e8e8" stroke-width="0.8"/>
<line x1="577.4" y1="731.1" x2="577.4" y2="837.2" stroke="#e8e8e8" stroke-width="0.8"/>
<line x1="615.1" y1="731.1" x2="615.1" y2="837.2" stroke="#e8e8e8" stroke-width="0.8"/>
<line x1="431.5" y1="821.9" x2="647.5" y2="821.9" stroke="#e8e8e8" stroke-width="0.8"/>
<line x1="431.5" y1="795.1" x2="647.5" y2="795.1" stroke="#e8e8e8" stroke-width="0.8"/>
<line x1="431.5" y1="768.4" x2="647.5" y2="768.4" stroke="#e8e8e8" stroke-width="0.8"/>
<line x1="431.5" y1="741.6" x2="647.5" y2="741.6" stroke="#e8e8e8" stroke-width="0.8"/>
<circle cx="464.1" cy="809.1" r="2.4" fill="#F8766D" fill-opacity="0.55"/>
<circle cx="539.6" cy="802.1" r="2.4" fill="#F8766D" fill-opacity="0.55"/>
<circle cx="615.1" cy="797.7" r="2.4" fill="#F8766D" fill-opacity="0.55"/>
<circle cx="464.1" cy="808.5" r="2.4" fill="#00BFC4" fill-opacity="0.55"/>
<circle cx="539.6" cy="777" r="2.4" fill="#00BFC4" fill-opacity="0.55"/>
<circle cx="615.1" cy="743.3" r="2.4" fill="#00BFC4" fill-opacity="0.55"/>
<path d="M441.5,801.7 L441.9,801.6 L442.4,801.6 L442.9,801.6 L443.4,801.5 L443.9,801.5 L444.4,801.4 L444.9,801.4 L445.4,801.3 L445.9,801.3 L446.4,801.2 L446.9,801.2 L447.4,801.1 L447.8,801.1 L448.3,801 L448.8,801 L449.3,800.9 L449.8,800.9 L450.3,800.8 L450.8,800.8 L451.3,800.7 L451.8,800.7 L452.3,800.6 L452.8,800.6 L453.3,800.6 L453.7,800.5 L454.2,800.5 L454.7,800.4 L455.2,800.4 L455.7,800.3 L456.2,800.3 L456.7,800.2 L457.2,800.2 L457.7,800.1 L458.2,800.1 L458.7,800 L459.2,800 L459.7,799.9 L460.1,799.9 L460.6,799.8 L461.1,799.8 L461.6,799.7 L462.1,799.7 L462.6,799.6 L463.1,799.6 L463.6,799.5 L464.1,799.4 L464.6,799.4 L465.1,799.3 L465.6,799.3 L466,799.2 L466.5,799.2 L467,799.1 L467.5,799.1 L468,799 L468.5,799 L469,798.9 L469.5,798.9 L470,798.8 L470.5,798.8 L471,798.7 L471.5,798.7 L472,798.6 L472.4,798.6 L472.9,798.5 L473.4,798.5 L473.9,798.4 L474.4,798.3 L474.9,798.3 L475.4,798.2 L475.9,798.2 L476.4,798.1 L476.9,798.1 L477.4,798 L477.9,798 L478.3,797.9 L478.8,797.9 L479.3,797.8 L479.8,797.7 L480.3,797.7 L480.8,797.6 L481.3,797.6 L481.8,797.5 L482.3,797.5 L482.8,797.4 L483.3,797.4 L483.8,797.3 L484.3,797.2 L484.7,797.2 L485.2,797.1 L485.7,797.1 L486.2,797 L486.7,797 L487.2,796.9 L487.7,796.9 L488.2,796.8 L488.7,796.7 L489.2,796.7 L489.7,796.6 L490.2,796.6 L490.6,796.5 L491.1,796.4 L491.6,796.4 L492.1,796.3 L492.6,796.3 L493.1,796.2 L493.6,796.2 L494.1,796.1 L494.6,796 L495.1,796 L495.6,795.9 L496.1,795.9 L496.6,795.8 L497,795.8 L497.5,795.7 L498,795.6 L498.5,795.6 L499,795.5 L499.5,795.5 L500,795.4 L500.5,795.3 L501,795.3 L501.5,795.2 L502,795.2 L502.5,795.1 L502.9,795 L503.4,795 L503.9,794.9 L504.4,794.9 L504.9,794.8 L505.4,794.7 L505.9,794.7 L506.4,794.6 L506.9,794.6 L507.4,794.5 L507.9,794.4 L508.4,794.4 L508.9,794.3 L509.3,794.2 L509.8,794.2 L510.3,794.1 L510.8,794.1 L511.3,794 L511.8,793.9 L512.3,793.9 L512.8,793.8 L513.3,793.7 L513.8,793.7 L514.3,793.6 L514.8,793.6 L515.2,793.5 L515.7,793.4 L516.2,793.4 L516.7,793.3 L517.2,793.2 L517.7,793.2 L518.2,793.1 L518.7,793.1 L519.2,793 L519.7,792.9 L520.2,792.9 L520.7,792.8 L521.2,792.7 L521.6,792.7 L522.1,792.6 L522.6,792.5 L523.1,792.5 L523.6,792.4 L524.1,792.4 L524.6,792.3 L525.1,792.2 L525.6,792.2 L526.1,792.1 L526.6,792 L527.1,792 L527.5,791.9 L528,791.8 L528.5,791.8 L529,791.7 L529.5,791.6 L530,791.6 L530.5,791.5 L531,791.4 L531.5,791.4 L532,791.3 L532.5,791.2 L533,791.2 L533.5,791.1 L533.9,791 L534.4,791 L534.9,790.9 L535.4,790.8 L535.9,790.8 L536.4,790.7 L536.9,790.6 L537.4,790.6 L537.9,790.5 L538.4,790.4 L538.9,790.4 L539.4,790.3 L539.8,790.2 L540.3,790.2 L540.8,790.1 L541.3,790 L541.8,790 L542.3,789.9 L542.8,789.8 L543.3,789.8 L543.8,789.7 L544.3,789.6 L544.8,789.6 L545.3,789.5 L545.7,789.4 L546.2,789.4 L546.7,789.3 L547.2,789.2 L547.7,789.1 L548.2,789.1 L548.7,789 L549.2,788.9 L549.7,788.9 L550.2,788.8 L550.7,788.7 L551.2,788.7 L551.7,788.6 L552.1,788.5 L552.6,788.5 L553.1,788.4 L553.6,788.3 L554.1,788.2 L554.6,788.2 L555.1,788.1 L555.6,788 L556.1,788 L556.6,787.9 L557.1,787.8 L557.6,787.8 L558,787.7 L558.5,787.6 L559,787.5 L559.5,787.5 L560,787.4 L560.5,787.3 L561,787.3 L561.5,787.2 L562,787.1 L562.5,787 L563,787 L563.5,786.9 L564,786.8 L564.4,786.8 L564.9,786.7 L565.4,786.6 L565.9,786.5 L566.4,786.5 L566.9,786.4 L567.4,786.3 L567.9,786.3 L568.4,786.2 L568.9,786.1 L569.4,786 L569.9,786 L570.3,785.9 L570.8,785.8 L571.3,785.7 L571.8,785.7 L572.3,785.6 L572.8,785.5 L573.3,785.5 L573.8,785.4 L574.3,785.3 L574.8,785.2 L575.3,785.2 L575.8,785.1 L576.3,785 L576.7,784.9 L577.2,784.9 L577.7,784.8 L578.2,784.7 L578.7,784.6 L579.2,784.6 L579.7,784.5 L580.2,784.4 L580.7,784.3 L581.2,784.3 L581.7,784.2 L582.2,784.1 L582.6,784.1 L583.1,784 L583.6,783.9 L584.1,783.8 L584.6,783.8 L585.1,783.7 L585.6,783.6 L586.1,783.5 L586.6,783.5 L587.1,783.4 L587.6,783.3 L588.1,783.2 L588.6,783.2 L589,783.1 L589.5,783 L590,782.9 L590.5,782.9 L591,782.8 L591.5,782.7 L592,782.6 L592.5,782.6 L593,782.5 L593.5,782.4 L594,782.3 L594.5,782.3 L594.9,782.2 L595.4,782.1 L595.9,782 L596.4,781.9 L596.9,781.9 L597.4,781.8 L597.9,781.7 L598.4,781.6 L598.9,781.6 L599.4,781.5 L599.9,781.4 L600.4,781.3 L600.9,781.3 L601.3,781.2 L601.8,781.1 L602.3,781 L602.8,781 L603.3,780.9 L603.8,780.8 L604.3,780.7 L604.8,780.6 L605.3,780.6 L605.8,780.5 L606.3,780.4 L606.8,780.3 L607.2,780.3 L607.7,780.2 L608.2,780.1 L608.7,780 L609.2,780 L609.7,779.9 L610.2,779.8 L610.7,779.7 L611.2,779.6 L611.7,779.6 L612.2,779.5 L612.7,779.4 L613.2,779.3 L613.6,779.3 L614.1,779.2 L614.6,779.1 L615.1,779 L615.6,778.9 L616.1,778.9 L616.6,778.8 L617.1,778.7 L617.6,778.6 L618.1,778.6 L618.6,778.5 L619.1,778.4 L619.5,778.3 L620,778.2 L620.5,778.2 L621,778.1 L621.5,778 L622,777.9 L622.5,777.8 L623,777.8 L623.5,777.7 L624,777.6 L624.5,777.5 L625,777.5 L625.5,777.4 L625.9,777.3 L626.4,777.2 L626.9,777.1 L627.4,777.1 L627.9,777 L628.4,776.9 L628.9,776.8 L629.4,776.7 L629.9,776.7 L630.4,776.6 L630.9,776.5 L631.4,776.4 L631.8,776.3 L632.3,776.3 L632.8,776.2 L633.3,776.1 L633.8,776 L634.3,775.9 L634.8,775.9 L635.3,775.8 L635.8,775.7 L636.3,775.6 L636.8,775.5 L637.3,775.5 L637.8,775.4" fill="none" stroke="#c8716a" stroke-width="0.95" stroke-dasharray="3 2.4"/>
<path d="M480.8,832.6 L481.3,832.5 L481.8,832.4 L482.3,832.4 L482.8,832.3 L483.3,832.3 L483.8,832.2 L484.3,832.1 L484.7,832.1 L485.2,832 L485.7,832 L486.2,831.9 L486.7,831.8 L487.2,831.8 L487.7,831.7 L488.2,831.7 L488.7,831.6 L489.2,831.5 L489.7,831.5 L490.2,831.4 L490.6,831.4 L491.1,831.3 L491.6,831.2 L492.1,831.2 L492.6,831.1 L493.1,831 L493.6,831 L494.1,830.9 L494.6,830.9 L495.1,830.8 L495.6,830.7 L496.1,830.7 L496.6,830.6 L497,830.5 L497.5,830.5 L498,830.4 L498.5,830.4 L499,830.3 L499.5,830.2 L500,830.2 L500.5,830.1 L501,830 L501.5,830 L502,829.9 L502.5,829.8 L502.9,829.8 L503.4,829.7 L503.9,829.7 L504.4,829.6 L504.9,829.5 L505.4,829.5 L505.9,829.4 L506.4,829.3 L506.9,829.3 L507.4,829.2 L507.9,829.1 L508.4,829.1 L508.9,829 L509.3,828.9 L509.8,828.9 L510.3,828.8 L510.8,828.7 L511.3,828.7 L511.8,828.6 L512.3,828.5 L512.8,828.5 L513.3,828.4 L513.8,828.3 L514.3,828.3 L514.8,828.2 L515.2,828.1 L515.7,828.1 L516.2,828 L516.7,827.9 L517.2,827.9 L517.7,827.8 L518.2,827.7 L518.7,827.7 L519.2,827.6 L519.7,827.5 L520.2,827.5 L520.7,827.4 L521.2,827.3 L521.6,827.3 L522.1,827.2 L522.6,827.1 L523.1,827.1 L523.6,827 L524.1,826.9 L524.6,826.9 L525.1,826.8 L525.6,826.7 L526.1,826.7 L526.6,826.6 L527.1,826.5 L527.5,826.4 L528,826.4 L528.5,826.3 L529,826.2 L529.5,826.2 L530,826.1 L530.5,826 L531,826 L531.5,825.9 L532,825.8 L532.5,825.7 L533,825.7 L533.5,825.6 L533.9,825.5 L534.4,825.5 L534.9,825.4 L535.4,825.3 L535.9,825.3 L536.4,825.2 L536.9,825.1 L537.4,825 L537.9,825 L538.4,824.9 L538.9,824.8 L539.4,824.8 L539.8,824.7 L540.3,824.6 L540.8,824.5 L541.3,824.5 L541.8,824.4 L542.3,824.3 L542.8,824.2 L543.3,824.2 L543.8,824.1 L544.3,824 L544.8,824 L545.3,823.9 L545.7,823.8 L546.2,823.7 L546.7,823.7 L547.2,823.6 L547.7,823.5 L548.2,823.4 L548.7,823.4 L549.2,823.3 L549.7,823.2 L550.2,823.1 L550.7,823.1 L551.2,823 L551.7,822.9 L552.1,822.9 L552.6,822.8 L553.1,822.7 L553.6,822.6 L554.1,822.6 L554.6,822.5 L555.1,822.4 L555.6,822.3 L556.1,822.3 L556.6,822.2 L557.1,822.1 L557.6,822 L558,822 L558.5,821.9 L559,821.8 L559.5,821.7 L560,821.7 L560.5,821.6 L561,821.5 L561.5,821.4 L562,821.3 L562.5,821.3 L563,821.2 L563.5,821.1 L564,821 L564.4,821 L564.9,820.9 L565.4,820.8 L565.9,820.7 L566.4,820.7 L566.9,820.6 L567.4,820.5 L567.9,820.4 L568.4,820.4 L568.9,820.3 L569.4,820.2 L569.9,820.1 L570.3,820 L570.8,820 L571.3,819.9 L571.8,819.8 L572.3,819.7 L572.8,819.7 L573.3,819.6 L573.8,819.5 L574.3,819.4 L574.8,819.3 L575.3,819.3 L575.8,819.2 L576.3,819.1 L576.7,819 L577.2,819 L577.7,818.9 L578.2,818.8 L578.7,818.7 L579.2,818.6 L579.7,818.6 L580.2,818.5 L580.7,818.4 L581.2,818.3 L581.7,818.2 L582.2,818.2 L582.6,818.1 L583.1,818 L583.6,817.9 L584.1,817.9 L584.6,817.8 L585.1,817.7 L585.6,817.6 L586.1,817.5 L586.6,817.5 L587.1,817.4 L587.6,817.3 L588.1,817.2 L588.6,817.1 L589,817.1 L589.5,817 L590,816.9 L590.5,816.8 L591,816.7 L591.5,816.7 L592,816.6 L592.5,816.5 L593,816.4 L593.5,816.3 L594,816.3 L594.5,816.2 L594.9,816.1 L595.4,816 L595.9,815.9 L596.4,815.8 L596.9,815.8 L597.4,815.7 L597.9,815.6 L598.4,815.5 L598.9,815.4 L599.4,815.4 L599.9,815.3 L600.4,815.2 L600.9,815.1 L601.3,815 L601.8,815 L602.3,814.9 L602.8,814.8 L603.3,814.7 L603.8,814.6 L604.3,814.5 L604.8,814.5 L605.3,814.4 L605.8,814.3 L606.3,814.2 L606.8,814.1 L607.2,814.1 L607.7,814 L608.2,813.9 L608.7,813.8 L609.2,813.7 L609.7,813.6 L610.2,813.6 L610.7,813.5 L611.2,813.4 L611.7,813.3 L612.2,813.2 L612.7,813.1 L613.2,813.1 L613.6,813 L614.1,812.9 L614.6,812.8 L615.1,812.7 L615.6,812.7 L616.1,812.6 L616.6,812.5 L617.1,812.4 L617.6,812.3 L618.1,812.2 L618.6,812.2 L619.1,812.1 L619.5,812 L620,811.9 L620.5,811.8 L621,811.7 L621.5,811.7 L622,811.6 L622.5,811.5 L623,811.4 L623.5,811.3 L624,811.2 L624.5,811.2 L625,811.1 L625.5,811 L625.9,810.9 L626.4,810.8 L626.9,810.7 L627.4,810.6 L627.9,810.6 L628.4,810.5 L628.9,810.4 L629.4,810.3 L629.9,810.2 L630.4,810.1 L630.9,810.1 L631.4,810 L631.8,809.9 L632.3,809.8 L632.8,809.7 L633.3,809.6 L633.8,809.6 L634.3,809.5 L634.8,809.4 L635.3,809.3 L635.8,809.2 L636.3,809.1 L636.8,809 L637.3,809 L637.8,808.9" fill="none" stroke="#c8716a" stroke-width="0.95" stroke-dasharray="3 2.4"/>
<path d="M441.5,806.3 L441.9,806.2 L442.4,806 L442.9,805.9 L443.4,805.8 L443.9,805.6 L444.4,805.5 L444.9,805.4 L445.4,805.2 L445.9,805.1 L446.4,805 L446.9,804.8 L447.4,804.7 L447.8,804.6 L448.3,804.4 L448.8,804.3 L449.3,804.1 L449.8,804 L450.3,803.9 L450.8,803.7 L451.3,803.6 L451.8,803.4 L452.3,803.3 L452.8,803.2 L453.3,803 L453.7,802.9 L454.2,802.7 L454.7,802.6 L455.2,802.4 L455.7,802.3 L456.2,802.1 L456.7,802 L457.2,801.8 L457.7,801.7 L458.2,801.5 L458.7,801.4 L459.2,801.2 L459.7,801.1 L460.1,800.9 L460.6,800.8 L461.1,800.6 L461.6,800.5 L462.1,800.3 L462.6,800.1 L463.1,800 L463.6,799.8 L464.1,799.7 L464.6,799.5 L465.1,799.3 L465.6,799.2 L466,799 L466.5,798.9 L467,798.7 L467.5,798.5 L468,798.4 L468.5,798.2 L469,798 L469.5,797.9 L470,797.7 L470.5,797.5 L471,797.4 L471.5,797.2 L472,797 L472.4,796.9 L472.9,796.7 L473.4,796.5 L473.9,796.3 L474.4,796.2 L474.9,796 L475.4,795.8 L475.9,795.6 L476.4,795.5 L476.9,795.3 L477.4,795.1 L477.9,794.9 L478.3,794.8 L478.8,794.6 L479.3,794.4 L479.8,794.2 L480.3,794 L480.8,793.9 L481.3,793.7 L481.8,793.5 L482.3,793.3 L482.8,793.1 L483.3,792.9 L483.8,792.7 L484.3,792.6 L484.7,792.4 L485.2,792.2 L485.7,792 L486.2,791.8 L486.7,791.6 L487.2,791.4 L487.7,791.2 L488.2,791.1 L488.7,790.9 L489.2,790.7 L489.7,790.5 L490.2,790.3 L490.6,790.1 L491.1,789.9 L491.6,789.7 L492.1,789.5 L492.6,789.3 L493.1,789.1 L493.6,788.9 L494.1,788.7 L494.6,788.5 L495.1,788.3 L495.6,788.1 L496.1,787.9 L496.6,787.7 L497,787.5 L497.5,787.3 L498,787.1 L498.5,786.9 L499,786.7 L499.5,786.5 L500,786.3 L500.5,786.1 L501,785.9 L501.5,785.7 L502,785.5 L502.5,785.3 L502.9,785.1 L503.4,784.9 L503.9,784.6 L504.4,784.4 L504.9,784.2 L505.4,784 L505.9,783.8 L506.4,783.6 L506.9,783.4 L507.4,783.2 L507.9,783 L508.4,782.7 L508.9,782.5 L509.3,782.3 L509.8,782.1 L510.3,781.9 L510.8,781.7 L511.3,781.5 L511.8,781.2 L512.3,781 L512.8,780.8 L513.3,780.6 L513.8,780.4 L514.3,780.1 L514.8,779.9 L515.2,779.7 L515.7,779.5 L516.2,779.3 L516.7,779 L517.2,778.8 L517.7,778.6 L518.2,778.4 L518.7,778.1 L519.2,777.9 L519.7,777.7 L520.2,777.5 L520.7,777.2 L521.2,777 L521.6,776.8 L522.1,776.6 L522.6,776.3 L523.1,776.1 L523.6,775.9 L524.1,775.7 L524.6,775.4 L525.1,775.2 L525.6,775 L526.1,774.7 L526.6,774.5 L527.1,774.3 L527.5,774 L528,773.8 L528.5,773.6 L529,773.3 L529.5,773.1 L530,772.9 L530.5,772.6 L531,772.4 L531.5,772.2 L532,771.9 L532.5,771.7 L533,771.5 L533.5,771.2 L533.9,771 L534.4,770.8 L534.9,770.5 L535.4,770.3 L535.9,770.1 L536.4,769.8 L536.9,769.6 L537.4,769.3 L537.9,769.1 L538.4,768.9 L538.9,768.6 L539.4,768.4 L539.8,768.1 L540.3,767.9 L540.8,767.7 L541.3,767.4 L541.8,767.2 L542.3,766.9 L542.8,766.7 L543.3,766.4 L543.8,766.2 L544.3,766 L544.8,765.7 L545.3,765.5 L545.7,765.2 L546.2,765 L546.7,764.7 L547.2,764.5 L547.7,764.3 L548.2,764 L548.7,763.8 L549.2,763.5 L549.7,763.3 L550.2,763 L550.7,762.8 L551.2,762.5 L551.7,762.3 L552.1,762 L552.6,761.8 L553.1,761.5 L553.6,761.3 L554.1,761 L554.6,760.8 L555.1,760.5 L555.6,760.3 L556.1,760 L556.6,759.8 L557.1,759.5 L557.6,759.3 L558,759 L558.5,758.8 L559,758.5 L559.5,758.3 L560,758 L560.5,757.8 L561,757.5 L561.5,757.3 L562,757 L562.5,756.8 L563,756.5 L563.5,756.3 L564,756 L564.4,755.8 L564.9,755.5 L565.4,755.3 L565.9,755 L566.4,754.8 L566.9,754.5 L567.4,754.2 L567.9,754 L568.4,753.7 L568.9,753.5 L569.4,753.2 L569.9,753 L570.3,752.7 L570.8,752.5 L571.3,752.2 L571.8,752 L572.3,751.7 L572.8,751.4 L573.3,751.2 L573.8,750.9 L574.3,750.7 L574.8,750.4 L575.3,750.2 L575.8,749.9 L576.3,749.7 L576.7,749.4 L577.2,749.1 L577.7,748.9 L578.2,748.6 L578.7,748.4 L579.2,748.1 L579.7,747.9 L580.2,747.6 L580.7,747.3 L581.2,747.1 L581.7,746.8 L582.2,746.6 L582.6,746.3 L583.1,746.1 L583.6,745.8 L584.1,745.5 L584.6,745.3 L585.1,745 L585.6,744.8 L586.1,744.5 L586.6,744.3 L587.1,744 L587.6,743.7 L588.1,743.5 L588.6,743.2 L589,743 L589.5,742.7 L590,742.4 L590.5,742.2 L591,741.9 L591.5,741.7 L592,741.4 L592.5,741.2 L593,740.9 L593.5,740.6 L594,740.4 L594.5,740.1 L594.9,739.9 L595.4,739.6 L595.9,739.3 L596.4,739.1 L596.9,738.8 L597.4,738.6 L597.9,738.3 L598.4,738.1 L598.9,737.8 L599.4,737.5 L599.9,737.3 L600.4,737 L600.9,736.8 L601.3,736.5" fill="none" stroke="#35a2a6" stroke-width="0.95" stroke-dasharray="3 2.4"/>
<path d="M441.5,824.2 L441.9,824.1 L442.4,824 L442.9,823.9 L443.4,823.8 L443.9,823.7 L444.4,823.6 L444.9,823.4 L445.4,823.3 L445.9,823.2 L446.4,823.1 L446.9,823 L447.4,822.9 L447.8,822.7 L448.3,822.6 L448.8,822.5 L449.3,822.4 L449.8,822.3 L450.3,822.1 L450.8,822 L451.3,821.9 L451.8,821.8 L452.3,821.6 L452.8,821.5 L453.3,821.4 L453.7,821.3 L454.2,821.1 L454.7,821 L455.2,820.9 L455.7,820.7 L456.2,820.6 L456.7,820.5 L457.2,820.4 L457.7,820.2 L458.2,820.1 L458.7,820 L459.2,819.8 L459.7,819.7 L460.1,819.6 L460.6,819.4 L461.1,819.3 L461.6,819.1 L462.1,819 L462.6,818.9 L463.1,818.7 L463.6,818.6 L464.1,818.5 L464.6,818.3 L465.1,818.2 L465.6,818 L466,817.9 L466.5,817.7 L467,817.6 L467.5,817.5 L468,817.3 L468.5,817.2 L469,817 L469.5,816.9 L470,816.7 L470.5,816.6 L471,816.4 L471.5,816.3 L472,816.1 L472.4,816 L472.9,815.8 L473.4,815.7 L473.9,815.5 L474.4,815.4 L474.9,815.2 L475.4,815.1 L475.9,814.9 L476.4,814.8 L476.9,814.6 L477.4,814.4 L477.9,814.3 L478.3,814.1 L478.8,814 L479.3,813.8 L479.8,813.7 L480.3,813.5 L480.8,813.3 L481.3,813.2 L481.8,813 L482.3,812.8 L482.8,812.7 L483.3,812.5 L483.8,812.4 L484.3,812.2 L484.7,812 L485.2,811.9 L485.7,811.7 L486.2,811.5 L486.7,811.4 L487.2,811.2 L487.7,811 L488.2,810.8 L488.7,810.7 L489.2,810.5 L489.7,810.3 L490.2,810.2 L490.6,810 L491.1,809.8 L491.6,809.6 L492.1,809.5 L492.6,809.3 L493.1,809.1 L493.6,808.9 L494.1,808.8 L494.6,808.6 L495.1,808.4 L495.6,808.2 L496.1,808 L496.6,807.9 L497,807.7 L497.5,807.5 L498,807.3 L498.5,807.1 L499,806.9 L499.5,806.8 L500,806.6 L500.5,806.4 L501,806.2 L501.5,806 L502,805.8 L502.5,805.6 L502.9,805.5 L503.4,805.3 L503.9,805.1 L504.4,804.9 L504.9,804.7 L505.4,804.5 L505.9,804.3 L506.4,804.1 L506.9,803.9 L507.4,803.7 L507.9,803.5 L508.4,803.3 L508.9,803.1 L509.3,803 L509.8,802.8 L510.3,802.6 L510.8,802.4 L511.3,802.2 L511.8,802 L512.3,801.8 L512.8,801.6 L513.3,801.4 L513.8,801.2 L514.3,801 L514.8,800.8 L515.2,800.6 L515.7,800.4 L516.2,800.2 L516.7,799.9 L517.2,799.7 L517.7,799.5 L518.2,799.3 L518.7,799.1 L519.2,798.9 L519.7,798.7 L520.2,798.5 L520.7,798.3 L521.2,798.1 L521.6,797.9 L522.1,797.7 L522.6,797.5 L523.1,797.2 L523.6,797 L524.1,796.8 L524.6,796.6 L525.1,796.4 L525.6,796.2 L526.1,796 L526.6,795.8 L527.1,795.5 L527.5,795.3 L528,795.1 L528.5,794.9 L529,794.7 L529.5,794.5 L530,794.2 L530.5,794 L531,793.8 L531.5,793.6 L532,793.4 L532.5,793.1 L533,792.9 L533.5,792.7 L533.9,792.5 L534.4,792.3 L534.9,792 L535.4,791.8 L535.9,791.6 L536.4,791.4 L536.9,791.1 L537.4,790.9 L537.9,790.7 L538.4,790.5 L538.9,790.2 L539.4,790 L539.8,789.8 L540.3,789.6 L540.8,789.3 L541.3,789.1 L541.8,788.9 L542.3,788.7 L542.8,788.4 L543.3,788.2 L543.8,788 L544.3,787.7 L544.8,787.5 L545.3,787.3 L545.7,787 L546.2,786.8 L546.7,786.6 L547.2,786.3 L547.7,786.1 L548.2,785.9 L548.7,785.6 L549.2,785.4 L549.7,785.2 L550.2,784.9 L550.7,784.7 L551.2,784.5 L551.7,784.2 L552.1,784 L552.6,783.8 L553.1,783.5 L553.6,783.3 L554.1,783 L554.6,782.8 L555.1,782.6 L555.6,782.3 L556.1,782.1 L556.6,781.8 L557.1,781.6 L557.6,781.4 L558,781.1 L558.5,780.9 L559,780.6 L559.5,780.4 L560,780.2 L560.5,779.9 L561,779.7 L561.5,779.4 L562,779.2 L562.5,778.9 L563,778.7 L563.5,778.4 L564,778.2 L564.4,778 L564.9,777.7 L565.4,777.5 L565.9,777.2 L566.4,777 L566.9,776.7 L567.4,776.5 L567.9,776.2 L568.4,776 L568.9,775.7 L569.4,775.5 L569.9,775.2 L570.3,775 L570.8,774.7 L571.3,774.5 L571.8,774.2 L572.3,774 L572.8,773.7 L573.3,773.5 L573.8,773.2 L574.3,773 L574.8,772.7 L575.3,772.5 L575.8,772.2 L576.3,772 L576.7,771.7 L577.2,771.5 L577.7,771.2 L578.2,771 L578.7,770.7 L579.2,770.5 L579.7,770.2 L580.2,770 L580.7,769.7 L581.2,769.5 L581.7,769.2 L582.2,769 L582.6,768.7 L583.1,768.5 L583.6,768.2 L584.1,767.9 L584.6,767.7 L585.1,767.4 L585.6,767.2 L586.1,766.9 L586.6,766.7 L587.1,766.4 L587.6,766.2 L588.1,765.9 L588.6,765.6 L589,765.4 L589.5,765.1 L590,764.9 L590.5,764.6 L591,764.4 L591.5,764.1 L592,763.8 L592.5,763.6 L593,763.3 L593.5,763.1 L594,762.8 L594.5,762.6 L594.9,762.3 L595.4,762 L595.9,761.8 L596.4,761.5 L596.9,761.3 L597.4,761 L597.9,760.8 L598.4,760.5 L598.9,760.2 L599.4,760 L599.9,759.7 L600.4,759.5 L600.9,759.2 L601.3,758.9 L601.8,758.7 L602.3,758.4 L602.8,758.2 L603.3,757.9 L603.8,757.6 L604.3,757.4 L604.8,757.1 L605.3,756.9 L605.8,756.6 L606.3,756.3 L606.8,756.1 L607.2,755.8 L607.7,755.6 L608.2,755.3 L608.7,755 L609.2,754.8 L609.7,754.5 L610.2,754.3 L610.7,754 L611.2,753.7 L611.7,753.5 L612.2,753.2 L612.7,753 L613.2,752.7 L613.6,752.4 L614.1,752.2 L614.6,751.9 L615.1,751.7 L615.6,751.4 L616.1,751.1 L616.6,750.9 L617.1,750.6 L617.6,750.4 L618.1,750.1 L618.6,749.8 L619.1,749.6 L619.5,749.3 L620,749.1 L620.5,748.8 L621,748.5 L621.5,748.3 L622,748 L622.5,747.8 L623,747.5 L623.5,747.2 L624,747 L624.5,746.7 L625,746.5 L625.5,746.2 L625.9,745.9 L626.4,745.7 L626.9,745.4 L627.4,745.2 L627.9,744.9 L628.4,744.6 L628.9,744.4 L629.4,744.1 L629.9,743.9 L630.4,743.6 L630.9,743.3 L631.4,743.1 L631.8,742.8 L632.3,742.6 L632.8,742.3 L633.3,742.1 L633.8,741.8 L634.3,741.5 L634.8,741.3 L635.3,741 L635.8,740.8 L636.3,740.5 L636.8,740.2 L637.3,740 L637.8,739.7" fill="none" stroke="#35a2a6" stroke-width="0.95" stroke-dasharray="3 2.4"/>
<path d="M441.5,820 L441.9,819.9 L442.4,819.9 L442.9,819.8 L443.4,819.8 L443.9,819.7 L444.4,819.7 L444.9,819.6 L445.4,819.6 L445.9,819.5 L446.4,819.5 L446.9,819.4 L447.4,819.4 L447.8,819.3 L448.3,819.3 L448.8,819.2 L449.3,819.2 L449.8,819.1 L450.3,819.1 L450.8,819 L451.3,819 L451.8,818.9 L452.3,818.9 L452.8,818.8 L453.3,818.8 L453.7,818.7 L454.2,818.7 L454.7,818.6 L455.2,818.6 L455.7,818.5 L456.2,818.5 L456.7,818.4 L457.2,818.4 L457.7,818.3 L458.2,818.3 L458.7,818.2 L459.2,818.1 L459.7,818.1 L460.1,818 L460.6,818 L461.1,817.9 L461.6,817.9 L462.1,817.8 L462.6,817.8 L463.1,817.7 L463.6,817.7 L464.1,817.6 L464.6,817.6 L465.1,817.5 L465.6,817.5 L466,817.4 L466.5,817.3 L467,817.3 L467.5,817.2 L468,817.2 L468.5,817.1 L469,817.1 L469.5,817 L470,817 L470.5,816.9 L471,816.8 L471.5,816.8 L472,816.7 L472.4,816.7 L472.9,816.6 L473.4,816.6 L473.9,816.5 L474.4,816.4 L474.9,816.4 L475.4,816.3 L475.9,816.3 L476.4,816.2 L476.9,816.2 L477.4,816.1 L477.9,816 L478.3,816 L478.8,815.9 L479.3,815.9 L479.8,815.8 L480.3,815.8 L480.8,815.7 L481.3,815.6 L481.8,815.6 L482.3,815.5 L482.8,815.5 L483.3,815.4 L483.8,815.3 L484.3,815.3 L484.7,815.2 L485.2,815.2 L485.7,815.1 L486.2,815 L486.7,815 L487.2,814.9 L487.7,814.9 L488.2,814.8 L488.7,814.7 L489.2,814.7 L489.7,814.6 L490.2,814.6 L490.6,814.5 L491.1,814.4 L491.6,814.4 L492.1,814.3 L492.6,814.2 L493.1,814.2 L493.6,814.1 L494.1,814.1 L494.6,814 L495.1,813.9 L495.6,813.9 L496.1,813.8 L496.6,813.7 L497,813.7 L497.5,813.6 L498,813.6 L498.5,813.5 L499,813.4 L499.5,813.4 L500,813.3 L500.5,813.2 L501,813.2 L501.5,813.1 L502,813 L502.5,813 L502.9,812.9 L503.4,812.9 L503.9,812.8 L504.4,812.7 L504.9,812.7 L505.4,812.6 L505.9,812.5 L506.4,812.5 L506.9,812.4 L507.4,812.3 L507.9,812.3 L508.4,812.2 L508.9,812.1 L509.3,812.1 L509.8,812 L510.3,811.9 L510.8,811.9 L511.3,811.8 L511.8,811.7 L512.3,811.7 L512.8,811.6 L513.3,811.5 L513.8,811.5 L514.3,811.4 L514.8,811.3 L515.2,811.3 L515.7,811.2 L516.2,811.1 L516.7,811.1 L517.2,811 L517.7,810.9 L518.2,810.9 L518.7,810.8 L519.2,810.7 L519.7,810.7 L520.2,810.6 L520.7,810.5 L521.2,810.5 L521.6,810.4 L522.1,810.3 L522.6,810.3 L523.1,810.2 L523.6,810.1 L524.1,810 L524.6,810 L525.1,809.9 L525.6,809.8 L526.1,809.8 L526.6,809.7 L527.1,809.6 L527.5,809.6 L528,809.5 L528.5,809.4 L529,809.3 L529.5,809.3 L530,809.2 L530.5,809.1 L531,809.1 L531.5,809 L532,808.9 L532.5,808.8 L533,808.8 L533.5,808.7 L533.9,808.6 L534.4,808.6 L534.9,808.5 L535.4,808.4 L535.9,808.3 L536.4,808.3 L536.9,808.2 L537.4,808.1 L537.9,808.1 L538.4,808 L538.9,807.9 L539.4,807.8 L539.8,807.8 L540.3,807.7 L540.8,807.6 L541.3,807.6 L541.8,807.5 L542.3,807.4 L542.8,807.3 L543.3,807.3 L543.8,807.2 L544.3,807.1 L544.8,807 L545.3,807 L545.7,806.9 L546.2,806.8 L546.7,806.7 L547.2,806.7 L547.7,806.6 L548.2,806.5 L548.7,806.4 L549.2,806.4 L549.7,806.3 L550.2,806.2 L550.7,806.1 L551.2,806.1 L551.7,806 L552.1,805.9 L552.6,805.8 L553.1,805.8 L553.6,805.7 L554.1,805.6 L554.6,805.5 L555.1,805.5 L555.6,805.4 L556.1,805.3 L556.6,805.2 L557.1,805.2 L557.6,805.1 L558,805 L558.5,804.9 L559,804.9 L559.5,804.8 L560,804.7 L560.5,804.6 L561,804.6 L561.5,804.5 L562,804.4 L562.5,804.3 L563,804.3 L563.5,804.2 L564,804.1 L564.4,804 L564.9,803.9 L565.4,803.9 L565.9,803.8 L566.4,803.7 L566.9,803.6 L567.4,803.6 L567.9,803.5 L568.4,803.4 L568.9,803.3 L569.4,803.2 L569.9,803.2 L570.3,803.1 L570.8,803 L571.3,802.9 L571.8,802.9 L572.3,802.8 L572.8,802.7 L573.3,802.6 L573.8,802.5 L574.3,802.5 L574.8,802.4 L575.3,802.3 L575.8,802.2 L576.3,802.1 L576.7,802.1 L577.2,802 L577.7,801.9 L578.2,801.8 L578.7,801.8 L579.2,801.7 L579.7,801.6 L580.2,801.5 L580.7,801.4 L581.2,801.4 L581.7,801.3 L582.2,801.2 L582.6,801.1 L583.1,801 L583.6,801 L584.1,800.9 L584.6,800.8 L585.1,800.7 L585.6,800.6 L586.1,800.6 L586.6,800.5 L587.1,800.4 L587.6,800.3 L588.1,800.2 L588.6,800.2 L589,800.1 L589.5,800 L590,799.9 L590.5,799.8 L591,799.7 L591.5,799.7 L592,799.6 L592.5,799.5 L593,799.4 L593.5,799.3 L594,799.3 L594.5,799.2 L594.9,799.1 L595.4,799 L595.9,798.9 L596.4,798.9 L596.9,798.8 L597.4,798.7 L597.9,798.6 L598.4,798.5 L598.9,798.4 L599.4,798.4 L599.9,798.3 L600.4,798.2 L600.9,798.1 L601.3,798 L601.8,798 L602.3,797.9 L602.8,797.8 L603.3,797.7 L603.8,797.6 L604.3,797.5 L604.8,797.5 L605.3,797.4 L605.8,797.3 L606.3,797.2 L606.8,797.1 L607.2,797 L607.7,797 L608.2,796.9 L608.7,796.8 L609.2,796.7 L609.7,796.6 L610.2,796.5 L610.7,796.5 L611.2,796.4 L611.7,796.3 L612.2,796.2 L612.7,796.1 L613.2,796 L613.6,796 L614.1,795.9 L614.6,795.8 L615.1,795.7 L615.6,795.6 L616.1,795.5 L616.6,795.5 L617.1,795.4 L617.6,795.3 L618.1,795.2 L618.6,795.1 L619.1,795 L619.5,795 L620,794.9 L620.5,794.8 L621,794.7 L621.5,794.6 L622,794.5 L622.5,794.5 L623,794.4 L623.5,794.3 L624,794.2 L624.5,794.1 L625,794 L625.5,794 L625.9,793.9 L626.4,793.8 L626.9,793.7 L627.4,793.6 L627.9,793.5 L628.4,793.5 L628.9,793.4 L629.4,793.3 L629.9,793.2 L630.4,793.1 L630.9,793 L631.4,792.9 L631.8,792.9 L632.3,792.8 L632.8,792.7 L633.3,792.6 L633.8,792.5 L634.3,792.4 L634.8,792.4 L635.3,792.3 L635.8,792.2 L636.3,792.1 L636.8,792 L637.3,791.9 L637.8,791.8" fill="none" stroke="#d9675e" stroke-width="1.35"/>
<path d="M441.5,815.4 L441.9,815.3 L442.4,815.2 L442.9,815.1 L443.4,814.9 L443.9,814.8 L444.4,814.7 L444.9,814.6 L445.4,814.4 L445.9,814.3 L446.4,814.2 L446.9,814.1 L447.4,813.9 L447.8,813.8 L448.3,813.7 L448.8,813.5 L449.3,813.4 L449.8,813.3 L450.3,813.2 L450.8,813 L451.3,812.9 L451.8,812.8 L452.3,812.6 L452.8,812.5 L453.3,812.4 L453.7,812.2 L454.2,812.1 L454.7,811.9 L455.2,811.8 L455.7,811.7 L456.2,811.5 L456.7,811.4 L457.2,811.3 L457.7,811.1 L458.2,811 L458.7,810.8 L459.2,810.7 L459.7,810.5 L460.1,810.4 L460.6,810.3 L461.1,810.1 L461.6,810 L462.1,809.8 L462.6,809.7 L463.1,809.5 L463.6,809.4 L464.1,809.2 L464.6,809.1 L465.1,808.9 L465.6,808.8 L466,808.6 L466.5,808.5 L467,808.3 L467.5,808.2 L468,808 L468.5,807.8 L469,807.7 L469.5,807.5 L470,807.4 L470.5,807.2 L471,807.1 L471.5,806.9 L472,806.7 L472.4,806.6 L472.9,806.4 L473.4,806.3 L473.9,806.1 L474.4,805.9 L474.9,805.8 L475.4,805.6 L475.9,805.4 L476.4,805.3 L476.9,805.1 L477.4,804.9 L477.9,804.8 L478.3,804.6 L478.8,804.4 L479.3,804.3 L479.8,804.1 L480.3,803.9 L480.8,803.7 L481.3,803.6 L481.8,803.4 L482.3,803.2 L482.8,803 L483.3,802.9 L483.8,802.7 L484.3,802.5 L484.7,802.3 L485.2,802.2 L485.7,802 L486.2,801.8 L486.7,801.6 L487.2,801.5 L487.7,801.3 L488.2,801.1 L488.7,800.9 L489.2,800.7 L489.7,800.5 L490.2,800.4 L490.6,800.2 L491.1,800 L491.6,799.8 L492.1,799.6 L492.6,799.4 L493.1,799.2 L493.6,799.1 L494.1,798.9 L494.6,798.7 L495.1,798.5 L495.6,798.3 L496.1,798.1 L496.6,797.9 L497,797.7 L497.5,797.5 L498,797.3 L498.5,797.1 L499,797 L499.5,796.8 L500,796.6 L500.5,796.4 L501,796.2 L501.5,796 L502,795.8 L502.5,795.6 L502.9,795.4 L503.4,795.2 L503.9,795 L504.4,794.8 L504.9,794.6 L505.4,794.4 L505.9,794.2 L506.4,794 L506.9,793.8 L507.4,793.6 L507.9,793.4 L508.4,793.1 L508.9,792.9 L509.3,792.7 L509.8,792.5 L510.3,792.3 L510.8,792.1 L511.3,791.9 L511.8,791.7 L512.3,791.5 L512.8,791.3 L513.3,791.1 L513.8,790.9 L514.3,790.6 L514.8,790.4 L515.2,790.2 L515.7,790 L516.2,789.8 L516.7,789.6 L517.2,789.4 L517.7,789.1 L518.2,788.9 L518.7,788.7 L519.2,788.5 L519.7,788.3 L520.2,788.1 L520.7,787.8 L521.2,787.6 L521.6,787.4 L522.1,787.2 L522.6,787 L523.1,786.7 L523.6,786.5 L524.1,786.3 L524.6,786.1 L525.1,785.9 L525.6,785.6 L526.1,785.4 L526.6,785.2 L527.1,785 L527.5,784.7 L528,784.5 L528.5,784.3 L529,784.1 L529.5,783.8 L530,783.6 L530.5,783.4 L531,783.2 L531.5,782.9 L532,782.7 L532.5,782.5 L533,782.2 L533.5,782 L533.9,781.8 L534.4,781.6 L534.9,781.3 L535.4,781.1 L535.9,780.9 L536.4,780.6 L536.9,780.4 L537.4,780.2 L537.9,779.9 L538.4,779.7 L538.9,779.5 L539.4,779.2 L539.8,779 L540.3,778.8 L540.8,778.5 L541.3,778.3 L541.8,778 L542.3,777.8 L542.8,777.6 L543.3,777.3 L543.8,777.1 L544.3,776.9 L544.8,776.6 L545.3,776.4 L545.7,776.1 L546.2,775.9 L546.7,775.7 L547.2,775.4 L547.7,775.2 L548.2,774.9 L548.7,774.7 L549.2,774.5 L549.7,774.2 L550.2,774 L550.7,773.7 L551.2,773.5 L551.7,773.2 L552.1,773 L552.6,772.8 L553.1,772.5 L553.6,772.3 L554.1,772 L554.6,771.8 L555.1,771.5 L555.6,771.3 L556.1,771 L556.6,770.8 L557.1,770.5 L557.6,770.3 L558,770.1 L558.5,769.8 L559,769.6 L559.5,769.3 L560,769.1 L560.5,768.8 L561,768.6 L561.5,768.3 L562,768.1 L562.5,767.8 L563,767.6 L563.5,767.3 L564,767.1 L564.4,766.8 L564.9,766.6 L565.4,766.3 L565.9,766.1 L566.4,765.8 L566.9,765.6 L567.4,765.3 L567.9,765.1 L568.4,764.8 L568.9,764.6 L569.4,764.3 L569.9,764 L570.3,763.8 L570.8,763.5 L571.3,763.3 L571.8,763 L572.3,762.8 L572.8,762.5 L573.3,762.3 L573.8,762 L574.3,761.8 L574.8,761.5 L575.3,761.3 L575.8,761 L576.3,760.7 L576.7,760.5 L577.2,760.2 L577.7,760 L578.2,759.7 L578.7,759.5 L579.2,759.2 L579.7,759 L580.2,758.7 L580.7,758.4 L581.2,758.2 L581.7,757.9 L582.2,757.7 L582.6,757.4 L583.1,757.2 L583.6,756.9 L584.1,756.6 L584.6,756.4 L585.1,756.1 L585.6,755.9 L586.1,755.6 L586.6,755.4 L587.1,755.1 L587.6,754.8 L588.1,754.6 L588.6,754.3 L589,754.1 L589.5,753.8 L590,753.5 L590.5,753.3 L591,753 L591.5,752.8 L592,752.5 L592.5,752.3 L593,752 L593.5,751.7 L594,751.5 L594.5,751.2 L594.9,751 L595.4,750.7 L595.9,750.4 L596.4,750.2 L596.9,749.9 L597.4,749.7 L597.9,749.4 L598.4,749.1 L598.9,748.9 L599.4,748.6 L599.9,748.4 L600.4,748.1 L600.9,747.8 L601.3,747.6 L601.8,747.3 L602.3,747.1 L602.8,746.8 L603.3,746.5 L603.8,746.3 L604.3,746 L604.8,745.8 L605.3,745.5 L605.8,745.2 L606.3,745 L606.8,744.7 L607.2,744.5 L607.7,744.2 L608.2,743.9 L608.7,743.7 L609.2,743.4 L609.7,743.2 L610.2,742.9 L610.7,742.6 L611.2,742.4 L611.7,742.1 L612.2,741.9 L612.7,741.6 L613.2,741.4 L613.6,741.1 L614.1,740.8 L614.6,740.6 L615.1,740.3 L615.6,740.1 L616.1,739.8 L616.6,739.5 L617.1,739.3 L617.6,739 L618.1,738.8 L618.6,738.5 L619.1,738.2 L619.5,738 L620,737.7 L620.5,737.5 L621,737.2 L621.5,737 L622,736.7 L622.5,736.4" fill="none" stroke="#1ea8ad" stroke-width="1.35"/>
<rect x="431.5" y="731.1" width="216" height="106.1" fill="none" stroke="#8a8a8a" stroke-width="1"/>
<line x1="431.5" y1="837.2" x2="647.5" y2="837.2" stroke="#777" stroke-width="1"/>
<line x1="429.0" y1="821.9" x2="431.5" y2="821.9" stroke="#333" stroke-width="0.9"/>
<text x="427.7" y="823.7" text-anchor="end" font-size="6.5" fill="#4a4a4a">5.0e+05</text>
<line x1="429.0" y1="795.1" x2="431.5" y2="795.1" stroke="#333" stroke-width="0.9"/>
<text x="427.7" y="796.9" text-anchor="end" font-size="6.5" fill="#4a4a4a">1.0e+06</text>
<line x1="429.0" y1="768.4" x2="431.5" y2="768.4" stroke="#333" stroke-width="0.9"/>
<text x="427.7" y="770.2" text-anchor="end" font-size="6.5" fill="#4a4a4a">1.5e+06</text>
<line x1="429.0" y1="741.6" x2="431.5" y2="741.6" stroke="#333" stroke-width="0.9"/>
<text x="427.7" y="743.4" text-anchor="end" font-size="6.5" fill="#4a4a4a">2.0e+06</text>
<line x1="464.1" y1="837.2" x2="464.1" y2="839.7" stroke="#333" stroke-width="0.9"/>
<text x="464.1" y="845.2" text-anchor="middle" font-size="6.5" fill="#4a4a4a">3.0</text>
<line x1="501.9" y1="837.2" x2="501.9" y2="839.7" stroke="#333" stroke-width="0.9"/>
<text x="501.9" y="845.2" text-anchor="middle" font-size="6.5" fill="#4a4a4a">3.5</text>
<line x1="539.6" y1="837.2" x2="539.6" y2="839.7" stroke="#333" stroke-width="0.9"/>
<text x="539.6" y="845.2" text-anchor="middle" font-size="6.5" fill="#4a4a4a">4.0</text>
<line x1="577.4" y1="837.2" x2="577.4" y2="839.7" stroke="#333" stroke-width="0.9"/>
<text x="577.4" y="845.2" text-anchor="middle" font-size="6.5" fill="#4a4a4a">4.5</text>
<line x1="615.1" y1="837.2" x2="615.1" y2="839.7" stroke="#333" stroke-width="0.9"/>
<text x="615.1" y="845.2" text-anchor="middle" font-size="6.5" fill="#4a4a4a">5.0</text>
<text x="539.5" y="853.8" text-anchor="middle" font-size="7.8" font-weight="bold" fill="#111">Time (h)</text>
<text transform="translate(402.8,784.2) rotate(-90)" text-anchor="middle" font-size="7.4" font-weight="bold" fill="#111">CFU/mL</text>
<path d="M109.6,492.3 H677.2 V876.2" fill="none" stroke="#6a6a6a" stroke-width="1"/>
<path d="M109.6,492.3 V876.2 H677.2" fill="none" stroke="#1a1a1a" stroke-width="1.2"/>
<line x1="104.6" y1="859.1" x2="109.6" y2="859.1" stroke="#1a1a1a" stroke-width="1.2"/>
<text x="100.4" y="863.1" text-anchor="end" font-size="15.3" fill="#4d4d4d">0e+00</text>
<line x1="104.6" y1="783.8" x2="109.6" y2="783.8" stroke="#1a1a1a" stroke-width="1.2"/>
<text x="100.4" y="787.8" text-anchor="end" font-size="15.3" fill="#4d4d4d">1e+06</text>
<line x1="104.6" y1="708.5" x2="109.6" y2="708.5" stroke="#1a1a1a" stroke-width="1.2"/>
<text x="100.4" y="712.5" text-anchor="end" font-size="15.3" fill="#4d4d4d">2e+06</text>
<line x1="104.6" y1="633.3" x2="109.6" y2="633.3" stroke="#1a1a1a" stroke-width="1.2"/>
<text x="100.4" y="637.3" text-anchor="end" font-size="15.3" fill="#4d4d4d">3e+06</text>
<line x1="104.6" y1="558" x2="109.6" y2="558" stroke="#1a1a1a" stroke-width="1.2"/>
<text x="100.4" y="562" text-anchor="end" font-size="15.3" fill="#4d4d4d">4e+06</text>
<line x1="135" y1="876.2" x2="135" y2="881.2" stroke="#1a1a1a" stroke-width="1.2"/>
<text x="135" y="893.9" text-anchor="middle" font-size="14.7" fill="#4d4d4d">0</text>
<line x1="242.6" y1="876.2" x2="242.6" y2="881.2" stroke="#1a1a1a" stroke-width="1.2"/>
<text x="242.6" y="893.9" text-anchor="middle" font-size="14.7" fill="#4d4d4d">5</text>
<line x1="350.2" y1="876.2" x2="350.2" y2="881.2" stroke="#1a1a1a" stroke-width="1.2"/>
<text x="350.2" y="893.9" text-anchor="middle" font-size="14.7" fill="#4d4d4d">10</text>
<line x1="457.9" y1="876.2" x2="457.9" y2="881.2" stroke="#1a1a1a" stroke-width="1.2"/>
<text x="457.9" y="893.9" text-anchor="middle" font-size="14.7" fill="#4d4d4d">15</text>
<line x1="565.5" y1="876.2" x2="565.5" y2="881.2" stroke="#1a1a1a" stroke-width="1.2"/>
<text x="565.5" y="893.9" text-anchor="middle" font-size="14.7" fill="#4d4d4d">20</text>
<line x1="673.1" y1="876.2" x2="673.1" y2="881.2" stroke="#1a1a1a" stroke-width="1.2"/>
<text x="673.1" y="893.9" text-anchor="middle" font-size="14.7" fill="#4d4d4d">25</text>
<text x="393.4" y="913.2" text-anchor="middle" font-size="19.3" fill="#000">Time (h)</text>
<text transform="translate(53.6,684) rotate(-90)" text-anchor="middle" font-size="19" fill="#000">CFU/mL</text>
<line x1="262.8" y1="949.8" x2="270.4" y2="949.8" stroke="#F8766D" stroke-width="1.3"/>
<circle cx="266.6" cy="949.8" r="2" fill="#F8766D" fill-opacity="0.6"/>
<text x="281.4" y="952.7" font-size="15.6" fill="#111">with postbiotics</text>
<line x1="391.2" y1="949.8" x2="398.8" y2="949.8" stroke="#00BFC4" stroke-width="1.3"/>
<circle cx="395" cy="949.8" r="2" fill="#00BFC4" fill-opacity="0.6"/>
<text x="409.6" y="952.7" font-size="15.6" fill="#111">without postbiotics</text>
<text x="7.5" y="511" font-size="28" font-weight="bold" fill="#000">b</text>
</svg>
</body></html>
